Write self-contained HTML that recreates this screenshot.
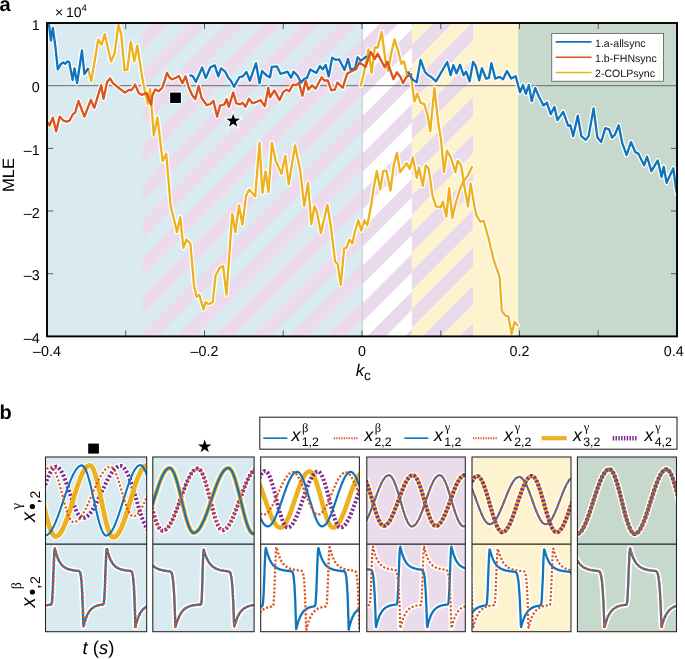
<!DOCTYPE html>
<html><head><meta charset="utf-8"><style>
html,body{margin:0;padding:0;background:#fff;}
svg{display:block;will-change:transform;font-family:"Liberation Sans",sans-serif;text-rendering:geometricPrecision;}
</style></head><body>
<svg width="685" height="659" viewBox="0 0 685 659">
<rect width="685" height="659" fill="#fff"/>
<defs>
<clipPath id="cA"><rect x="47.0" y="23.0" width="630.0" height="313.4"/></clipPath>
<clipPath id="cS1"><rect x="142.9" y="23.0" width="219.7" height="313.4"/></clipPath>
<clipPath id="cS2"><rect x="362.6" y="23.0" width="49.3" height="313.4"/></clipPath>
<clipPath id="cS3"><rect x="411.9" y="23.0" width="61.0" height="313.4"/></clipPath>
</defs>
<rect x="47.0" y="23.0" width="315.6" height="313.4" fill="#d9eaf1"/>
<rect x="362.6" y="23.0" width="49.3" height="313.4" fill="#ffffff"/>
<rect x="411.9" y="23.0" width="106.3" height="313.4" fill="#fdf4cf"/>
<rect x="518.2" y="23.0" width="158.8" height="313.4" fill="#c6d9cc"/>
<path clip-path="url(#cS1)" fill="#ecdbec" d="M0.0,-49.5 L685.0,-734.5 L685.0,-716.2 L0.0,-31.2Z M0.0,-12.0 L685.0,-697.0 L685.0,-678.7 L0.0,6.3Z M0.0,25.5 L685.0,-659.5 L685.0,-641.2 L0.0,43.8Z M0.0,63.0 L685.0,-622.0 L685.0,-603.7 L0.0,81.3Z M0.0,100.5 L685.0,-584.5 L685.0,-566.2 L0.0,118.8Z M0.0,138.0 L685.0,-547.0 L685.0,-528.7 L0.0,156.3Z M0.0,175.5 L685.0,-509.5 L685.0,-491.2 L0.0,193.8Z M0.0,213.0 L685.0,-472.0 L685.0,-453.7 L0.0,231.3Z M0.0,250.5 L685.0,-434.5 L685.0,-416.2 L0.0,268.8Z M0.0,288.0 L685.0,-397.0 L685.0,-378.7 L0.0,306.3Z M0.0,325.5 L685.0,-359.5 L685.0,-341.2 L0.0,343.8Z M0.0,363.0 L685.0,-322.0 L685.0,-303.7 L0.0,381.3Z M0.0,400.5 L685.0,-284.5 L685.0,-266.2 L0.0,418.8Z M0.0,438.0 L685.0,-247.0 L685.0,-228.7 L0.0,456.3Z M0.0,475.5 L685.0,-209.5 L685.0,-191.2 L0.0,493.8Z M0.0,513.0 L685.0,-172.0 L685.0,-153.7 L0.0,531.3Z M0.0,550.5 L685.0,-134.5 L685.0,-116.2 L0.0,568.8Z M0.0,588.0 L685.0,-97.0 L685.0,-78.7 L0.0,606.3Z M0.0,625.5 L685.0,-59.5 L685.0,-41.2 L0.0,643.8Z M0.0,663.0 L685.0,-22.0 L685.0,-3.7 L0.0,681.3Z M0.0,700.5 L685.0,15.5 L685.0,33.8 L0.0,718.8Z M0.0,738.0 L685.0,53.0 L685.0,71.3 L0.0,756.3Z M0.0,775.5 L685.0,90.5 L685.0,108.8 L0.0,793.8Z M0.0,813.0 L685.0,128.0 L685.0,146.3 L0.0,831.3Z M0.0,850.5 L685.0,165.5 L685.0,183.8 L0.0,868.8Z M0.0,888.0 L685.0,203.0 L685.0,221.3 L0.0,906.3Z M0.0,925.5 L685.0,240.5 L685.0,258.8 L0.0,943.8Z M0.0,963.0 L685.0,278.0 L685.0,296.3 L0.0,981.3Z M0.0,1000.5 L685.0,315.5 L685.0,333.8 L0.0,1018.8Z M0.0,1038.0 L685.0,353.0 L685.0,371.3 L0.0,1056.3Z"/>
<path clip-path="url(#cS2)" fill="#e9daec" d="M0.0,-46.6 L685.0,-731.6 L685.0,-713.0 L0.0,-28.0Z M0.0,-9.1 L685.0,-694.1 L685.0,-675.5 L0.0,9.5Z M0.0,28.4 L685.0,-656.6 L685.0,-638.0 L0.0,47.0Z M0.0,65.9 L685.0,-619.1 L685.0,-600.5 L0.0,84.5Z M0.0,103.4 L685.0,-581.6 L685.0,-563.0 L0.0,122.0Z M0.0,140.9 L685.0,-544.1 L685.0,-525.5 L0.0,159.5Z M0.0,178.4 L685.0,-506.6 L685.0,-488.0 L0.0,197.0Z M0.0,215.9 L685.0,-469.1 L685.0,-450.5 L0.0,234.5Z M0.0,253.4 L685.0,-431.6 L685.0,-413.0 L0.0,272.0Z M0.0,290.9 L685.0,-394.1 L685.0,-375.5 L0.0,309.5Z M0.0,328.4 L685.0,-356.6 L685.0,-338.0 L0.0,347.0Z M0.0,365.9 L685.0,-319.1 L685.0,-300.5 L0.0,384.5Z M0.0,403.4 L685.0,-281.6 L685.0,-263.0 L0.0,422.0Z M0.0,440.9 L685.0,-244.1 L685.0,-225.5 L0.0,459.5Z M0.0,478.4 L685.0,-206.6 L685.0,-188.0 L0.0,497.0Z M0.0,515.9 L685.0,-169.1 L685.0,-150.5 L0.0,534.5Z M0.0,553.4 L685.0,-131.6 L685.0,-113.0 L0.0,572.0Z M0.0,590.9 L685.0,-94.1 L685.0,-75.5 L0.0,609.5Z M0.0,628.4 L685.0,-56.6 L685.0,-38.0 L0.0,647.0Z M0.0,665.9 L685.0,-19.1 L685.0,-0.5 L0.0,684.5Z M0.0,703.4 L685.0,18.4 L685.0,37.0 L0.0,722.0Z M0.0,740.9 L685.0,55.9 L685.0,74.5 L0.0,759.5Z M0.0,778.4 L685.0,93.4 L685.0,112.0 L0.0,797.0Z M0.0,815.9 L685.0,130.9 L685.0,149.5 L0.0,834.5Z M0.0,853.4 L685.0,168.4 L685.0,187.0 L0.0,872.0Z M0.0,890.9 L685.0,205.9 L685.0,224.5 L0.0,909.5Z M0.0,928.4 L685.0,243.4 L685.0,262.0 L0.0,947.0Z M0.0,965.9 L685.0,280.9 L685.0,299.5 L0.0,984.5Z M0.0,1003.4 L685.0,318.4 L685.0,337.0 L0.0,1022.0Z M0.0,1040.9 L685.0,355.9 L685.0,374.5 L0.0,1059.5Z"/>
<path clip-path="url(#cS3)" fill="#e9daec" d="M0.0,-32.6 L685.0,-717.6 L685.0,-698.8 L0.0,-13.8Z M0.0,5.1 L685.0,-679.9 L685.0,-661.1 L0.0,23.9Z M0.0,42.7 L685.0,-642.3 L685.0,-623.5 L0.0,61.5Z M0.0,80.4 L685.0,-604.6 L685.0,-585.8 L0.0,99.2Z M0.0,118.1 L685.0,-566.9 L685.0,-548.1 L0.0,136.9Z M0.0,155.7 L685.0,-529.3 L685.0,-510.5 L0.0,174.5Z M0.0,193.4 L685.0,-491.6 L685.0,-472.8 L0.0,212.2Z M0.0,231.1 L685.0,-453.9 L685.0,-435.1 L0.0,249.9Z M0.0,268.8 L685.0,-416.2 L685.0,-397.4 L0.0,287.6Z M0.0,306.4 L685.0,-378.6 L685.0,-359.8 L0.0,325.2Z M0.0,344.1 L685.0,-340.9 L685.0,-322.1 L0.0,362.9Z M0.0,381.8 L685.0,-303.2 L685.0,-284.4 L0.0,400.6Z M0.0,419.4 L685.0,-265.6 L685.0,-246.8 L0.0,438.2Z M0.0,457.1 L685.0,-227.9 L685.0,-209.1 L0.0,475.9Z M0.0,494.8 L685.0,-190.2 L685.0,-171.4 L0.0,513.6Z M0.0,532.4 L685.0,-152.6 L685.0,-133.8 L0.0,551.2Z M0.0,570.1 L685.0,-114.9 L685.0,-96.1 L0.0,588.9Z M0.0,607.8 L685.0,-77.2 L685.0,-58.4 L0.0,626.6Z M0.0,645.5 L685.0,-39.5 L685.0,-20.8 L0.0,664.2Z M0.0,683.1 L685.0,-1.9 L685.0,16.9 L0.0,701.9Z M0.0,720.8 L685.0,35.8 L685.0,54.6 L0.0,739.6Z M0.0,758.5 L685.0,73.5 L685.0,92.3 L0.0,777.3Z M0.0,796.1 L685.0,111.1 L685.0,129.9 L0.0,814.9Z M0.0,833.8 L685.0,148.8 L685.0,167.6 L0.0,852.6Z M0.0,871.5 L685.0,186.5 L685.0,205.3 L0.0,890.3Z M0.0,909.1 L685.0,224.1 L685.0,242.9 L0.0,927.9Z M0.0,946.8 L685.0,261.8 L685.0,280.6 L0.0,965.6Z M0.0,984.5 L685.0,299.5 L685.0,318.3 L0.0,1003.3Z M0.0,1022.2 L685.0,337.2 L685.0,356.0 L0.0,1041.0Z"/>
<line x1="47.0" y1="85.7" x2="677.0" y2="85.7" stroke="#6a6a6a" stroke-width="1.0"/>
<line x1="362.3" y1="23.0" x2="362.3" y2="336.4" stroke="#b5b5b5" stroke-width="0.6"/>
<path d="M125.7,336.4v-6M125.7,23.0v6M204.5,336.4v-6M204.5,23.0v6M283.2,336.4v-6M283.2,23.0v6M362.0,336.4v-6M362.0,23.0v6M440.8,336.4v-6M440.8,23.0v6M519.5,336.4v-6M519.5,23.0v6M598.2,336.4v-6M598.2,23.0v6M47.0,273.7h6M677.0,273.7h-6M47.0,211.0h6M677.0,211.0h-6M47.0,148.4h6M677.0,148.4h-6" stroke="#4d4d4d" stroke-width="0.9" fill="none"/>
<g clip-path="url(#cA)" fill="none" stroke-linejoin="round" stroke-linecap="round">
<path d="M88.0,68.7 L91.3,81.1 L98.2,39.7 L101.6,44.6 L104.7,34.3 L111.0,61.4 L114.6,53.5 L118.4,24.9 L121.3,34.7 L124.5,70.3 L127.4,69.3 L130.8,41.6 L134.3,61.4 L137.3,45.6 L142.6,80.1 L147.6,103.8 L150.1,89.0 L153.8,135.5 L157.5,117.3 L162.6,161.0 L166.2,153.7 L168.5,180.0 L170.6,205.5 L177.0,232.0 L180.2,217.2 L183.4,247.9 L186.5,239.4 L190.4,243.7 L194.0,285.1 L196.5,296.8 L199.3,294.6 L203.5,309.5 L205.6,302.1 L208.8,304.2 L212.7,302.1 L215.6,275.5 L219.4,268.1 L223.1,266.0 L226.5,294.6 L232.2,214.0 L235.4,232.0 L239.0,205.5 L242.4,224.6 L246.0,195.9 L249.2,189.6 L255.2,196.5 L259.5,142.9 L262.4,193.2 L265.5,171.3 L268.6,191.9 L271.9,142.9 L275.8,161.0 L281.5,173.8 L285.3,155.8 L288.7,184.2 L295.1,145.5 L300.3,171.3 L304.2,206.1 L308.0,182.9 L311.4,224.1 L314.5,206.1 L317.1,212.5 L320.9,233.2 L327.4,204.8 L331.2,229.3 L335.1,261.5 L337.7,264.1 L340.8,284.8 L344.1,248.6 L346.7,247.4 L349.3,239.6 L352.4,243.5 L354.5,233.2 L358.3,220.3 L361.4,230.6 L364.3,220.3 L367.4,225.4 L371.2,204.8 L373.4,189.3 L376.8,171.1 L380.2,189.3 L383.2,171.1 L386.4,170.6 L390.5,190.4 L393.9,164.2 L396.9,152.9 L400.1,172.2 L404.2,166.5 L406.4,163.1 L409.8,168.8 L412.8,157.4 L416.7,177.9 L419.0,167.7 L422.8,185.9 L425.8,165.4 L428.7,168.8 L432.6,196.1 L436.0,206.4 L440.6,207.5 L442.9,201.8 L446.3,216.6 L449.2,188.2 L452.4,217.8 L455.4,204.1 L459.9,189.3 L463.4,181.3 L467.9,175.6 L472.0,167.0" stroke="#fff" stroke-width="4.8"/>
<path d="M360.8,85.7 L363.7,73.8 L368.5,49.3 L371.6,72.9 L374.8,47.5 L377.7,47.5 L381.7,31.9 L385.5,61.2 L388.1,70.8 L390.8,55.0 L394.6,39.3 L397.8,49.8 L401.3,63.8 L403.9,61.2 L407.4,76.1 L410.9,75.2 L414.4,101.6 L417.4,93.7 L420.5,102.8 L424.2,103.9 L427.4,114.2 L430.3,131.2 L434.4,88.0 L438.3,123.3 L441.0,139.2 L444.0,172.2 L447.0,150.6 L450.8,157.4 L455.4,172.2 L457.7,160.8 L461.1,165.4 L464.5,187.0 L467.9,206.4 L470.6,183.6 L474.7,207.5 L476.5,215.4 L480.2,221.5 L483.7,220.9 L488.6,238.5 L494.1,261.5 L499.6,276.9 L501.8,311.0 L505.1,315.4 L508.4,316.5 L511.6,334.1 L514.5,322.0 L517.6,325.3" stroke="#fff" stroke-width="4.8"/>
<path d="M47.5,21.0 L48.9,23.9 L50.9,40.7 L52.8,27.8 L55.4,46.6 L57.8,69.3 L60.7,64.3 L63.3,62.4 L65.3,63.9 L67.2,61.4 L69.2,62.0 L72.6,80.1 L74.5,68.3 L77.1,83.1 L82.0,50.5 L84.4,74.2 L88.0,68.7" stroke="#fff" stroke-width="4.8"/>
<path d="M190.3,75.4 L192.9,76.3 L195.9,81.9 L202.2,67.5 L205.7,78.0 L210.4,67.2 L214.8,65.4 L218.3,76.3 L221.0,68.4 L225.0,71.4 L228.0,77.2 L230.9,80.7 L234.1,86.8 L239.3,77.2 L242.9,76.3 L246.4,71.9 L249.9,80.7 L256.0,63.1 L259.5,83.3 L262.1,71.0 L266.5,75.4 L270.0,77.3 L271.8,66.8 L277.0,66.4 L280.5,73.8 L284.0,72.9 L287.5,71.7 L291.0,77.7 L293.7,71.7 L297.2,75.2 L301.2,82.6 L304.2,78.7 L306.8,78.2 L310.3,69.4 L316.4,72.9 L319.9,65.9 L322.6,69.4 L325.7,65.0 L328.7,76.4 L332.2,57.7 L335.7,59.8 L339.2,59.4 L344.5,69.9 L348.0,58.9 L350.6,69.4 L355.0,68.5 L357.6,57.2 L361.1,60.7 L366.0,56.6" stroke="#fff" stroke-width="4.8"/>
<path d="M408.3,72.2 L412.7,79.6 L416.7,82.2 L420.6,59.9 L424.9,71.7 L427.6,74.7 L431.1,76.9 L436.0,81.3 L447.2,62.0 L450.7,75.2 L453.3,65.2 L456.5,73.4 L460.0,64.7 L463.5,75.2 L466.1,71.7 L469.6,81.3 L473.1,62.0 L475.7,65.9 L479.2,80.4 L481.9,68.2 L486.2,78.7 L488.9,77.8 L491.4,63.1 L495.2,78.6 L499.6,76.9 L503.1,79.2 L506.9,71.0 L511.3,78.6 L515.7,76.3 L520.0,92.3 L523.0,85.0 L525.9,93.8 L528.8,85.0 L531.7,101.1 L535.2,88.0 L539.0,96.7 L543.4,105.5 L546.9,102.6 L550.7,114.2 L554.5,106.9 L557.4,120.1 L563.2,111.9 L568.2,125.9 L570.3,125.3 L573.2,136.1 L577.8,115.7 L581.3,136.1 L585.7,139.9 L588.6,136.1 L593.6,108.4 L597.4,137.6 L601.2,142.0 L605.3,128.2 L609.1,129.4 L612.0,137.6 L614.9,134.7 L618.7,125.3 L622.2,142.8 L626.6,155.1 L631.0,142.0 L635.4,152.2 L638.3,153.6 L644.1,165.3 L647.0,156.6 L651.4,171.2 L657.8,160.4 L661.6,177.0 L663.7,166.8 L666.6,182.8 L673.3,168.2 L676.2,190.1 L677.5,195.0" stroke="#fff" stroke-width="4.8"/>
<path d="M47.9,122.6 L49.5,125.5 L52.8,117.6 L56.2,131.4 L59.7,116.6 L63.3,120.6 L66.6,121.6 L69.6,120.6 L72.6,114.7 L75.1,112.7 L78.5,100.8 L84.4,116.6 L90.9,99.9 L94.3,107.8 L101.2,85.1 L103.5,98.9 L107.1,82.1 L110.1,78.5 L113.0,83.1 L118.9,88.0 L124.9,92.6 L128.8,90.0 L131.8,90.0 L135.1,84.5 L138.7,93.0 L141.6,94.9 L146.6,93.0 L151.1,104.8 L152.6,94.7 L155.3,89.4 L158.8,91.2 L162.3,87.7 L164.9,79.8 L167.0,72.8 L169.3,77.2 L171.9,79.4 L175.4,78.0 L178.9,75.9 L182.4,83.3 L185.6,76.3 L188.5,86.8 L192.0,94.7 L195.2,99.1 L198.7,85.9 L201.7,98.2 L206.9,105.2 L210.4,104.0 L213.4,100.8 L217.1,116.6 L220.1,105.7 L224.5,104.3 L226.6,99.1 L228.8,106.9 L233.2,92.4 L236.4,103.4 L240.2,104.3 L242.5,102.6 L245.5,106.9 L249.0,98.7 L252.5,103.4 L256.9,101.7 L260.4,99.9 L264.8,106.1 L268.3,87.7 L270.0,97.4 L274.4,90.4 L279.6,100.1 L283.1,92.2 L286.6,89.6 L289.3,91.3 L292.8,84.7 L296.3,85.2 L298.9,82.6 L302.4,95.7 L305.6,80.8 L308.5,89.6 L312.0,85.2 L315.5,88.7 L321.7,77.3 L324.3,80.5 L327.8,80.5 L331.3,90.4 L334.8,89.6 L337.4,82.6 L342.7,87.8 L347.1,73.8 L351.5,71.2 L355.8,69.4 L359.3,62.4 L365.5,66.8 L370.7,51.9 L374.8,58.9 L377.7,53.7 L384.6,67.3 L387.3,61.7 L393.4,79.2 L396.9,72.2 L400.4,76.9 L403.0,83.1 L406.5,76.9 L411.3,74.3" stroke="#fff" stroke-width="4.8"/>
<path d="M88.0,68.7 L91.3,81.1 L98.2,39.7 L101.6,44.6 L104.7,34.3 L111.0,61.4 L114.6,53.5 L118.4,24.9 L121.3,34.7 L124.5,70.3 L127.4,69.3 L130.8,41.6 L134.3,61.4 L137.3,45.6 L142.6,80.1 L147.6,103.8 L150.1,89.0 L153.8,135.5 L157.5,117.3 L162.6,161.0 L166.2,153.7 L168.5,180.0 L170.6,205.5 L177.0,232.0 L180.2,217.2 L183.4,247.9 L186.5,239.4 L190.4,243.7 L194.0,285.1 L196.5,296.8 L199.3,294.6 L203.5,309.5 L205.6,302.1 L208.8,304.2 L212.7,302.1 L215.6,275.5 L219.4,268.1 L223.1,266.0 L226.5,294.6 L232.2,214.0 L235.4,232.0 L239.0,205.5 L242.4,224.6 L246.0,195.9 L249.2,189.6 L255.2,196.5 L259.5,142.9 L262.4,193.2 L265.5,171.3 L268.6,191.9 L271.9,142.9 L275.8,161.0 L281.5,173.8 L285.3,155.8 L288.7,184.2 L295.1,145.5 L300.3,171.3 L304.2,206.1 L308.0,182.9 L311.4,224.1 L314.5,206.1 L317.1,212.5 L320.9,233.2 L327.4,204.8 L331.2,229.3 L335.1,261.5 L337.7,264.1 L340.8,284.8 L344.1,248.6 L346.7,247.4 L349.3,239.6 L352.4,243.5 L354.5,233.2 L358.3,220.3 L361.4,230.6 L364.3,220.3 L367.4,225.4 L371.2,204.8 L373.4,189.3 L376.8,171.1 L380.2,189.3 L383.2,171.1 L386.4,170.6 L390.5,190.4 L393.9,164.2 L396.9,152.9 L400.1,172.2 L404.2,166.5 L406.4,163.1 L409.8,168.8 L412.8,157.4 L416.7,177.9 L419.0,167.7 L422.8,185.9 L425.8,165.4 L428.7,168.8 L432.6,196.1 L436.0,206.4 L440.6,207.5 L442.9,201.8 L446.3,216.6 L449.2,188.2 L452.4,217.8 L455.4,204.1 L459.9,189.3 L463.4,181.3 L467.9,175.6 L472.0,167.0" stroke="#edb120" stroke-width="2.3"/>
<path d="M360.8,85.7 L363.7,73.8 L368.5,49.3 L371.6,72.9 L374.8,47.5 L377.7,47.5 L381.7,31.9 L385.5,61.2 L388.1,70.8 L390.8,55.0 L394.6,39.3 L397.8,49.8 L401.3,63.8 L403.9,61.2 L407.4,76.1 L410.9,75.2 L414.4,101.6 L417.4,93.7 L420.5,102.8 L424.2,103.9 L427.4,114.2 L430.3,131.2 L434.4,88.0 L438.3,123.3 L441.0,139.2 L444.0,172.2 L447.0,150.6 L450.8,157.4 L455.4,172.2 L457.7,160.8 L461.1,165.4 L464.5,187.0 L467.9,206.4 L470.6,183.6 L474.7,207.5 L476.5,215.4 L480.2,221.5 L483.7,220.9 L488.6,238.5 L494.1,261.5 L499.6,276.9 L501.8,311.0 L505.1,315.4 L508.4,316.5 L511.6,334.1 L514.5,322.0 L517.6,325.3" stroke="#edb120" stroke-width="2.3"/>
<path d="M47.5,21.0 L48.9,23.9 L50.9,40.7 L52.8,27.8 L55.4,46.6 L57.8,69.3 L60.7,64.3 L63.3,62.4 L65.3,63.9 L67.2,61.4 L69.2,62.0 L72.6,80.1 L74.5,68.3 L77.1,83.1 L82.0,50.5 L84.4,74.2 L88.0,68.7" stroke="#0f74bb" stroke-width="2.3"/>
<path d="M190.3,75.4 L192.9,76.3 L195.9,81.9 L202.2,67.5 L205.7,78.0 L210.4,67.2 L214.8,65.4 L218.3,76.3 L221.0,68.4 L225.0,71.4 L228.0,77.2 L230.9,80.7 L234.1,86.8 L239.3,77.2 L242.9,76.3 L246.4,71.9 L249.9,80.7 L256.0,63.1 L259.5,83.3 L262.1,71.0 L266.5,75.4 L270.0,77.3 L271.8,66.8 L277.0,66.4 L280.5,73.8 L284.0,72.9 L287.5,71.7 L291.0,77.7 L293.7,71.7 L297.2,75.2 L301.2,82.6 L304.2,78.7 L306.8,78.2 L310.3,69.4 L316.4,72.9 L319.9,65.9 L322.6,69.4 L325.7,65.0 L328.7,76.4 L332.2,57.7 L335.7,59.8 L339.2,59.4 L344.5,69.9 L348.0,58.9 L350.6,69.4 L355.0,68.5 L357.6,57.2 L361.1,60.7 L366.0,56.6" stroke="#0f74bb" stroke-width="2.3"/>
<path d="M408.3,72.2 L412.7,79.6 L416.7,82.2 L420.6,59.9 L424.9,71.7 L427.6,74.7 L431.1,76.9 L436.0,81.3 L447.2,62.0 L450.7,75.2 L453.3,65.2 L456.5,73.4 L460.0,64.7 L463.5,75.2 L466.1,71.7 L469.6,81.3 L473.1,62.0 L475.7,65.9 L479.2,80.4 L481.9,68.2 L486.2,78.7 L488.9,77.8 L491.4,63.1 L495.2,78.6 L499.6,76.9 L503.1,79.2 L506.9,71.0 L511.3,78.6 L515.7,76.3 L520.0,92.3 L523.0,85.0 L525.9,93.8 L528.8,85.0 L531.7,101.1 L535.2,88.0 L539.0,96.7 L543.4,105.5 L546.9,102.6 L550.7,114.2 L554.5,106.9 L557.4,120.1 L563.2,111.9 L568.2,125.9 L570.3,125.3 L573.2,136.1 L577.8,115.7 L581.3,136.1 L585.7,139.9 L588.6,136.1 L593.6,108.4 L597.4,137.6 L601.2,142.0 L605.3,128.2 L609.1,129.4 L612.0,137.6 L614.9,134.7 L618.7,125.3 L622.2,142.8 L626.6,155.1 L631.0,142.0 L635.4,152.2 L638.3,153.6 L644.1,165.3 L647.0,156.6 L651.4,171.2 L657.8,160.4 L661.6,177.0 L663.7,166.8 L666.6,182.8 L673.3,168.2 L676.2,190.1 L677.5,195.0" stroke="#0f74bb" stroke-width="2.3"/>
<path d="M47.9,122.6 L49.5,125.5 L52.8,117.6 L56.2,131.4 L59.7,116.6 L63.3,120.6 L66.6,121.6 L69.6,120.6 L72.6,114.7 L75.1,112.7 L78.5,100.8 L84.4,116.6 L90.9,99.9 L94.3,107.8 L101.2,85.1 L103.5,98.9 L107.1,82.1 L110.1,78.5 L113.0,83.1 L118.9,88.0 L124.9,92.6 L128.8,90.0 L131.8,90.0 L135.1,84.5 L138.7,93.0 L141.6,94.9 L146.6,93.0 L151.1,104.8 L152.6,94.7 L155.3,89.4 L158.8,91.2 L162.3,87.7 L164.9,79.8 L167.0,72.8 L169.3,77.2 L171.9,79.4 L175.4,78.0 L178.9,75.9 L182.4,83.3 L185.6,76.3 L188.5,86.8 L192.0,94.7 L195.2,99.1 L198.7,85.9 L201.7,98.2 L206.9,105.2 L210.4,104.0 L213.4,100.8 L217.1,116.6 L220.1,105.7 L224.5,104.3 L226.6,99.1 L228.8,106.9 L233.2,92.4 L236.4,103.4 L240.2,104.3 L242.5,102.6 L245.5,106.9 L249.0,98.7 L252.5,103.4 L256.9,101.7 L260.4,99.9 L264.8,106.1 L268.3,87.7 L270.0,97.4 L274.4,90.4 L279.6,100.1 L283.1,92.2 L286.6,89.6 L289.3,91.3 L292.8,84.7 L296.3,85.2 L298.9,82.6 L302.4,95.7 L305.6,80.8 L308.5,89.6 L312.0,85.2 L315.5,88.7 L321.7,77.3 L324.3,80.5 L327.8,80.5 L331.3,90.4 L334.8,89.6 L337.4,82.6 L342.7,87.8 L347.1,73.8 L351.5,71.2 L355.8,69.4 L359.3,62.4 L365.5,66.8 L370.7,51.9 L374.8,58.9 L377.7,53.7 L384.6,67.3 L387.3,61.7 L393.4,79.2 L396.9,72.2 L400.4,76.9 L403.0,83.1 L406.5,76.9 L411.3,74.3" stroke="#d9541e" stroke-width="2.3"/>
</g>
<rect x="170.1" y="92.6" width="10.8" height="10.4" fill="#000" stroke="#fff" stroke-width="2" paint-order="stroke"/>
<path d="M233.2,112.6 L235.1,118.2 L241.1,118.3 L236.3,121.9 L238.1,127.6 L233.2,124.2 L228.3,127.6 L230.1,121.9 L225.3,118.3 L231.3,118.2Z" fill="#fff" stroke="#fff" stroke-width="1.6" stroke-linejoin="miter"/>
<path d="M233.2,113.7 L234.8,118.6 L240.0,118.7 L235.9,121.8 L237.4,126.7 L233.2,123.7 L229.0,126.7 L230.5,121.8 L226.4,118.7 L231.6,118.6Z" fill="#000"/>
<rect x="47.0" y="23.0" width="630.0" height="313.4" fill="none" stroke="#000" stroke-width="1.9"/>
<rect x="551.8" y="33.4" width="111.6" height="47.8" fill="#fff" stroke="#444" stroke-width="0.7"/>
<line x1="555.6" y1="41.9" x2="591.6" y2="41.9" stroke="#0f74bb" stroke-width="1.6"/>
<text x="595" y="46.5" font-size="10.6" fill="#111">1.a-allsync</text>
<line x1="555.6" y1="57.2" x2="591.6" y2="57.2" stroke="#d9541e" stroke-width="1.6"/>
<text x="595" y="61.8" font-size="10.6" fill="#111">1.b-FHNsync</text>
<line x1="555.6" y1="72.5" x2="591.6" y2="72.5" stroke="#edb120" stroke-width="1.6"/>
<text x="595" y="77.1" font-size="10.6" fill="#111">2-COLPsync</text>
<text x="39.6" y="343.1" font-size="14.3" text-anchor="end">–4</text>
<text x="39.6" y="280.4" font-size="14.3" text-anchor="end">–3</text>
<text x="39.6" y="217.7" font-size="14.3" text-anchor="end">–2</text>
<text x="39.6" y="155.1" font-size="14.3" text-anchor="end">–1</text>
<text x="39.6" y="92.4" font-size="14.3" text-anchor="end">0</text>
<text x="39.6" y="29.7" font-size="14.3" text-anchor="end">1</text>
<text x="47.0" y="356.4" font-size="14.3" text-anchor="middle">–0.4</text>
<text x="204.5" y="356.4" font-size="14.3" text-anchor="middle">–0.2</text>
<text x="362.0" y="356.4" font-size="14.3" text-anchor="middle">0</text>
<text x="519.5" y="356.4" font-size="14.3" text-anchor="middle">0.2</text>
<text x="673.8" y="356.4" font-size="14.3" text-anchor="middle">0.4</text>
<text x="55" y="16.6" font-size="14">× 10<tspan dy="-5.5" font-size="9.5">4</tspan></text>
<text transform="translate(14.4,175) rotate(-90)" font-size="16.5" text-anchor="middle">MLE</text>
<text x="355.8" y="376.3" font-size="17" font-style="italic">k</text>
<text x="364" y="380.4" font-size="13.5">c</text>
<text x="-0.5" y="10.8" font-size="20" font-weight="bold">a</text>
<text x="-0.5" y="418.7" font-size="20" font-weight="bold">b</text>
<defs>
<clipPath id="pt0"><rect x="45.5" y="457.0" width="101.2" height="87.1"/></clipPath>
<clipPath id="pb0"><rect x="45.5" y="544.1" width="101.2" height="87.6"/></clipPath>
<clipPath id="pt1"><rect x="152.8" y="457.0" width="101.3" height="87.1"/></clipPath>
<clipPath id="pb1"><rect x="152.8" y="544.1" width="101.3" height="87.6"/></clipPath>
<clipPath id="pt2"><rect x="260.7" y="457.0" width="98.7" height="87.1"/></clipPath>
<clipPath id="pb2"><rect x="260.7" y="544.1" width="98.7" height="87.6"/></clipPath>
<clipPath id="pt3"><rect x="366.8" y="457.0" width="98.5" height="87.1"/></clipPath>
<clipPath id="pb3"><rect x="366.8" y="544.1" width="98.5" height="87.6"/></clipPath>
<clipPath id="pt4"><rect x="472.0" y="457.0" width="99.0" height="87.1"/></clipPath>
<clipPath id="pb4"><rect x="472.0" y="544.1" width="99.0" height="87.6"/></clipPath>
<clipPath id="pt5"><rect x="577.4" y="457.0" width="99.1" height="87.1"/></clipPath>
<clipPath id="pb5"><rect x="577.4" y="544.1" width="99.1" height="87.6"/></clipPath>
</defs>
<rect x="45.5" y="457.0" width="101.2" height="174.7" fill="#d9eaf1"/>
<rect x="152.8" y="457.0" width="101.3" height="174.7" fill="#d9eaf1"/>
<rect x="260.7" y="457.0" width="98.7" height="174.7" fill="#ffffff"/>
<rect x="366.8" y="457.0" width="98.5" height="174.7" fill="#ebdceb"/>
<rect x="472.0" y="457.0" width="99.0" height="174.7" fill="#fdf4cf"/>
<rect x="577.4" y="457.0" width="99.1" height="174.7" fill="#c6d9cc"/>
<g clip-path="url(#pt0)">
<path d="M42.5,492.7 L43.5,489.7 L44.5,486.8 L45.5,484.0 L46.5,481.2 L47.5,478.6 L48.5,476.2 L49.5,474.1 L50.5,472.1 L51.5,470.5 L52.5,469.1 L53.5,468.0 L54.5,467.3 L55.5,466.9 L56.5,466.8 L57.5,467.1 L58.5,467.8 L59.5,468.8 L60.5,470.1 L61.5,471.7 L62.5,473.6 L63.5,475.8 L64.5,478.2 L65.5,480.9 L66.5,483.6 L67.5,486.5 L68.5,489.5 L69.6,492.6 L70.6,495.6 L71.6,498.6 L72.6,501.4 L73.6,504.2 L74.6,506.8 L75.6,509.2 L76.6,511.4 L77.6,513.3 L78.6,514.9 L79.6,516.2 L80.6,517.1 L81.6,517.7 L82.6,518.0 L83.6,517.9 L84.6,517.7 L85.6,517.3 L86.6,516.7 L87.6,516.0 L88.6,515.1 L89.6,514.0 L90.6,512.7 L91.6,511.4 L92.6,509.9 L93.6,508.2 L94.6,506.5 L95.6,504.6 L96.6,502.7 L97.6,500.7 L98.6,498.6 L99.6,496.5 L100.6,494.4 L101.6,492.2 L102.6,490.0 L103.6,487.9 L104.6,485.8 L105.6,483.7 L106.6,481.7 L107.6,479.7 L108.6,477.9 L109.6,476.1 L110.6,474.4 L111.6,472.9 L112.6,471.5 L113.6,470.2 L114.6,469.1 L115.6,468.2 L116.6,467.4 L117.6,466.8 L118.6,466.3 L119.6,466.1 L120.6,466.0 L121.6,466.2 L122.6,466.7 L123.7,467.5 L124.7,468.7 L125.7,470.2 L126.7,472.0 L127.7,474.0 L128.7,476.3 L129.7,478.9 L130.7,481.6 L131.7,484.5 L132.7,487.6 L133.7,490.8 L134.7,494.1 L135.7,497.4 L136.7,500.8 L137.7,504.1 L138.7,507.4 L139.7,510.6 L140.7,513.7 L141.7,516.7 L142.7,519.5 L143.7,522.1 L144.7,524.4 L145.7,526.5 L146.7,528.4 L147.7,529.9 L148.7,531.2 L149.7,532.1" fill="none" stroke="#fff" stroke-width="6.30" stroke-linejoin="round" stroke-linecap="round"/>
<path d="M42.5,499.4 L43.5,503.8 L44.5,508.2 L45.5,512.4 L46.5,516.5 L47.5,520.3 L48.5,523.8 L49.5,527.0 L50.5,529.8 L51.5,532.1 L52.5,534.0 L53.5,535.3 L54.5,536.2 L55.5,536.5 L56.5,536.4 L57.5,535.9 L58.5,535.2 L59.5,534.2 L60.5,532.9 L61.5,531.3 L62.5,529.5 L63.5,527.5 L64.5,525.2 L65.5,522.7 L66.5,520.0 L67.5,517.2 L68.5,514.2 L69.6,511.1 L70.6,507.9 L71.6,504.7 L72.6,501.4 L73.6,498.2 L74.6,494.9 L75.6,491.7 L76.6,488.6 L77.6,485.6 L78.6,482.7 L79.6,480.0 L80.6,477.4 L81.6,475.1 L82.6,472.9 L83.6,471.1 L84.6,469.4 L85.6,468.0 L86.6,466.9 L87.6,466.1 L88.6,465.6 L89.6,465.4 L90.6,465.6 L91.6,466.4 L92.6,467.9 L93.6,469.9 L94.6,472.5 L95.6,475.7 L96.6,479.3 L97.6,483.2 L98.6,487.6 L99.6,492.1 L100.6,496.8 L101.6,501.6 L102.6,506.4 L103.6,511.1 L104.6,515.7 L105.6,520.0 L106.6,523.9 L107.6,527.4 L108.6,530.5 L109.6,533.0 L110.6,535.0 L111.6,536.4 L112.6,537.2 L113.6,537.3 L114.6,537.0 L115.6,536.5 L116.6,535.6 L117.6,534.4 L118.6,532.9 L119.6,531.2 L120.6,529.2 L121.6,527.0 L122.6,524.5 L123.7,521.8 L124.7,519.0 L125.7,516.0 L126.7,512.9 L127.7,509.6 L128.7,506.3 L129.7,503.0 L130.7,499.6 L131.7,496.3 L132.7,493.0 L133.7,489.8 L134.7,486.6 L135.7,483.6 L136.7,480.8 L137.7,478.1 L138.7,475.7 L139.7,473.4 L140.7,471.5 L141.7,469.7 L142.7,468.3 L143.7,467.1 L144.7,466.2 L145.7,465.7 L146.7,465.4 L147.7,465.4 L148.7,465.4 L149.7,465.4" fill="none" stroke="#fff" stroke-width="6.80" stroke-linejoin="round" stroke-linecap="round"/>
<path d="M42.5,535.6 L43.5,535.6 L44.5,535.6 L45.5,535.6 L46.5,535.3 L47.5,534.8 L48.5,534.0 L49.5,533.0 L50.5,531.8 L51.5,530.3 L52.5,528.6 L53.5,526.7 L54.5,524.6 L55.5,522.4 L56.5,519.9 L57.5,517.4 L58.5,514.7 L59.5,511.9 L60.5,509.0 L61.5,506.1 L62.5,503.1 L63.5,500.1 L64.5,497.1 L65.5,494.1 L66.5,491.2 L67.5,488.3 L68.5,485.6 L69.6,482.9 L70.6,480.4 L71.6,478.0 L72.6,475.8 L73.6,473.7 L74.6,471.9 L75.6,470.3 L76.6,468.8 L77.6,467.7 L78.6,466.7 L79.6,466.0 L80.6,465.6 L81.6,465.4 L82.6,465.6 L83.6,466.3 L84.6,467.6 L85.6,469.5 L86.6,471.8 L87.6,474.7 L88.6,478.0 L89.6,481.6 L90.6,485.6 L91.6,489.8 L92.6,494.2 L93.6,498.7 L94.6,503.2 L95.6,507.7 L96.6,512.0 L97.6,516.2 L98.6,520.1 L99.6,523.7 L100.6,526.9 L101.6,529.6 L102.6,531.9 L103.6,533.7 L104.6,534.9 L105.6,535.5 L106.6,535.6 L107.6,535.3 L108.6,534.7 L109.6,533.9 L110.6,532.7 L111.6,531.3 L112.6,529.6 L113.6,527.7 L114.6,525.5 L115.6,523.2 L116.6,520.6 L117.6,517.9 L118.6,515.0 L119.6,512.0 L120.6,508.9 L121.6,505.7 L122.6,502.5 L123.7,499.2 L124.7,496.0 L125.7,492.8 L126.7,489.7 L127.7,486.6 L128.7,483.7 L129.7,480.9 L130.7,478.3 L131.7,475.8 L132.7,473.6 L133.7,471.6 L134.7,469.9 L135.7,468.4 L136.7,467.1 L137.7,466.2 L138.7,465.5 L139.7,465.2 L140.7,465.1 L141.7,465.5 L142.7,466.5 L143.7,467.9 L144.7,469.8 L145.7,472.2 L146.7,475.0 L147.7,478.2 L148.7,481.7 L149.7,485.5" fill="none" stroke="#fff" stroke-width="4.60" stroke-linejoin="round" stroke-linecap="round"/>
<path d="M42.5,475.9 L43.5,474.0 L44.5,472.2 L45.5,470.7 L46.5,469.4 L47.5,468.4 L48.5,467.6 L49.5,467.1 L50.5,466.8 L51.5,466.9 L52.5,467.5 L53.5,468.6 L54.5,470.2 L55.5,472.3 L56.5,474.8 L57.5,477.7 L58.5,480.9 L59.5,484.3 L60.5,488.0 L61.5,491.8 L62.5,495.6 L63.5,499.4 L64.5,503.1 L65.5,506.7 L66.5,510.0 L67.5,513.0 L68.5,515.7 L69.6,518.0 L70.6,519.8 L71.6,521.1 L72.6,521.9 L73.6,522.2 L74.6,522.1 L75.6,521.8 L76.6,521.3 L77.6,520.6 L78.6,519.8 L79.6,518.7 L80.6,517.5 L81.6,516.1 L82.6,514.5 L83.6,512.8 L84.6,511.0 L85.6,509.0 L86.6,506.9 L87.6,504.8 L88.6,502.6 L89.6,500.3 L90.6,497.9 L91.6,495.6 L92.6,493.2 L93.6,490.9 L94.6,488.5 L95.6,486.3 L96.6,484.0 L97.6,481.9 L98.6,479.8 L99.6,477.9 L100.6,476.1 L101.6,474.4 L102.6,472.8 L103.6,471.4 L104.6,470.2 L105.6,469.2 L106.6,468.3 L107.6,467.6 L108.6,467.2 L109.6,466.9 L110.6,466.8 L111.6,467.1 L112.6,467.9 L113.6,469.1 L114.6,470.7 L115.6,472.8 L116.6,475.2 L117.6,477.9 L118.6,480.9 L119.6,484.1 L120.6,487.4 L121.6,490.9 L122.6,494.3 L123.7,497.7 L124.7,500.9 L125.7,504.0 L126.7,506.8 L127.7,509.4 L128.7,511.6 L129.7,513.4 L130.7,514.8 L131.7,515.7 L132.7,516.2 L133.7,516.3 L134.7,516.0 L135.7,515.6 L136.7,514.8 L137.7,513.9 L138.7,512.7 L139.7,511.3 L140.7,509.7 L141.7,508.0 L142.7,506.0 L143.7,504.0 L144.7,501.8 L145.7,499.5 L146.7,497.1 L147.7,494.6 L148.7,492.1 L149.7,489.7" fill="none" stroke="#fff" stroke-width="4.60" stroke-linejoin="round" stroke-linecap="round"/>
<path d="M42.5,492.7 L43.5,489.7 L44.5,486.8 L45.5,484.0 L46.5,481.2 L47.5,478.6 L48.5,476.2 L49.5,474.1 L50.5,472.1 L51.5,470.5 L52.5,469.1 L53.5,468.0 L54.5,467.3 L55.5,466.9 L56.5,466.8 L57.5,467.1 L58.5,467.8 L59.5,468.8 L60.5,470.1 L61.5,471.7 L62.5,473.6 L63.5,475.8 L64.5,478.2 L65.5,480.9 L66.5,483.6 L67.5,486.5 L68.5,489.5 L69.6,492.6 L70.6,495.6 L71.6,498.6 L72.6,501.4 L73.6,504.2 L74.6,506.8 L75.6,509.2 L76.6,511.4 L77.6,513.3 L78.6,514.9 L79.6,516.2 L80.6,517.1 L81.6,517.7 L82.6,518.0 L83.6,517.9 L84.6,517.7 L85.6,517.3 L86.6,516.7 L87.6,516.0 L88.6,515.1 L89.6,514.0 L90.6,512.7 L91.6,511.4 L92.6,509.9 L93.6,508.2 L94.6,506.5 L95.6,504.6 L96.6,502.7 L97.6,500.7 L98.6,498.6 L99.6,496.5 L100.6,494.4 L101.6,492.2 L102.6,490.0 L103.6,487.9 L104.6,485.8 L105.6,483.7 L106.6,481.7 L107.6,479.7 L108.6,477.9 L109.6,476.1 L110.6,474.4 L111.6,472.9 L112.6,471.5 L113.6,470.2 L114.6,469.1 L115.6,468.2 L116.6,467.4 L117.6,466.8 L118.6,466.3 L119.6,466.1 L120.6,466.0 L121.6,466.2 L122.6,466.7 L123.7,467.5 L124.7,468.7 L125.7,470.2 L126.7,472.0 L127.7,474.0 L128.7,476.3 L129.7,478.9 L130.7,481.6 L131.7,484.5 L132.7,487.6 L133.7,490.8 L134.7,494.1 L135.7,497.4 L136.7,500.8 L137.7,504.1 L138.7,507.4 L139.7,510.6 L140.7,513.7 L141.7,516.7 L142.7,519.5 L143.7,522.1 L144.7,524.4 L145.7,526.5 L146.7,528.4 L147.7,529.9 L148.7,531.2 L149.7,532.1" fill="none" stroke="#7e2f8e" stroke-width="4.10" stroke-linejoin="round" stroke-linecap="butt" stroke-dasharray="2.2 1.9"/>
<path d="M42.5,499.4 L43.5,503.8 L44.5,508.2 L45.5,512.4 L46.5,516.5 L47.5,520.3 L48.5,523.8 L49.5,527.0 L50.5,529.8 L51.5,532.1 L52.5,534.0 L53.5,535.3 L54.5,536.2 L55.5,536.5 L56.5,536.4 L57.5,535.9 L58.5,535.2 L59.5,534.2 L60.5,532.9 L61.5,531.3 L62.5,529.5 L63.5,527.5 L64.5,525.2 L65.5,522.7 L66.5,520.0 L67.5,517.2 L68.5,514.2 L69.6,511.1 L70.6,507.9 L71.6,504.7 L72.6,501.4 L73.6,498.2 L74.6,494.9 L75.6,491.7 L76.6,488.6 L77.6,485.6 L78.6,482.7 L79.6,480.0 L80.6,477.4 L81.6,475.1 L82.6,472.9 L83.6,471.1 L84.6,469.4 L85.6,468.0 L86.6,466.9 L87.6,466.1 L88.6,465.6 L89.6,465.4 L90.6,465.6 L91.6,466.4 L92.6,467.9 L93.6,469.9 L94.6,472.5 L95.6,475.7 L96.6,479.3 L97.6,483.2 L98.6,487.6 L99.6,492.1 L100.6,496.8 L101.6,501.6 L102.6,506.4 L103.6,511.1 L104.6,515.7 L105.6,520.0 L106.6,523.9 L107.6,527.4 L108.6,530.5 L109.6,533.0 L110.6,535.0 L111.6,536.4 L112.6,537.2 L113.6,537.3 L114.6,537.0 L115.6,536.5 L116.6,535.6 L117.6,534.4 L118.6,532.9 L119.6,531.2 L120.6,529.2 L121.6,527.0 L122.6,524.5 L123.7,521.8 L124.7,519.0 L125.7,516.0 L126.7,512.9 L127.7,509.6 L128.7,506.3 L129.7,503.0 L130.7,499.6 L131.7,496.3 L132.7,493.0 L133.7,489.8 L134.7,486.6 L135.7,483.6 L136.7,480.8 L137.7,478.1 L138.7,475.7 L139.7,473.4 L140.7,471.5 L141.7,469.7 L142.7,468.3 L143.7,467.1 L144.7,466.2 L145.7,465.7 L146.7,465.4 L147.7,465.4 L148.7,465.4 L149.7,465.4" fill="none" stroke="#edb120" stroke-width="4.80" stroke-linejoin="round" stroke-linecap="butt"/>
<path d="M42.5,535.6 L43.5,535.6 L44.5,535.6 L45.5,535.6 L46.5,535.3 L47.5,534.8 L48.5,534.0 L49.5,533.0 L50.5,531.8 L51.5,530.3 L52.5,528.6 L53.5,526.7 L54.5,524.6 L55.5,522.4 L56.5,519.9 L57.5,517.4 L58.5,514.7 L59.5,511.9 L60.5,509.0 L61.5,506.1 L62.5,503.1 L63.5,500.1 L64.5,497.1 L65.5,494.1 L66.5,491.2 L67.5,488.3 L68.5,485.6 L69.6,482.9 L70.6,480.4 L71.6,478.0 L72.6,475.8 L73.6,473.7 L74.6,471.9 L75.6,470.3 L76.6,468.8 L77.6,467.7 L78.6,466.7 L79.6,466.0 L80.6,465.6 L81.6,465.4 L82.6,465.6 L83.6,466.3 L84.6,467.6 L85.6,469.5 L86.6,471.8 L87.6,474.7 L88.6,478.0 L89.6,481.6 L90.6,485.6 L91.6,489.8 L92.6,494.2 L93.6,498.7 L94.6,503.2 L95.6,507.7 L96.6,512.0 L97.6,516.2 L98.6,520.1 L99.6,523.7 L100.6,526.9 L101.6,529.6 L102.6,531.9 L103.6,533.7 L104.6,534.9 L105.6,535.5 L106.6,535.6 L107.6,535.3 L108.6,534.7 L109.6,533.9 L110.6,532.7 L111.6,531.3 L112.6,529.6 L113.6,527.7 L114.6,525.5 L115.6,523.2 L116.6,520.6 L117.6,517.9 L118.6,515.0 L119.6,512.0 L120.6,508.9 L121.6,505.7 L122.6,502.5 L123.7,499.2 L124.7,496.0 L125.7,492.8 L126.7,489.7 L127.7,486.6 L128.7,483.7 L129.7,480.9 L130.7,478.3 L131.7,475.8 L132.7,473.6 L133.7,471.6 L134.7,469.9 L135.7,468.4 L136.7,467.1 L137.7,466.2 L138.7,465.5 L139.7,465.2 L140.7,465.1 L141.7,465.5 L142.7,466.5 L143.7,467.9 L144.7,469.8 L145.7,472.2 L146.7,475.0 L147.7,478.2 L148.7,481.7 L149.7,485.5" fill="none" stroke="#0f74bb" stroke-width="2.10" stroke-linejoin="round" stroke-linecap="butt"/>
<path d="M42.5,475.9 L43.5,474.0 L44.5,472.2 L45.5,470.7 L46.5,469.4 L47.5,468.4 L48.5,467.6 L49.5,467.1 L50.5,466.8 L51.5,466.9 L52.5,467.5 L53.5,468.6 L54.5,470.2 L55.5,472.3 L56.5,474.8 L57.5,477.7 L58.5,480.9 L59.5,484.3 L60.5,488.0 L61.5,491.8 L62.5,495.6 L63.5,499.4 L64.5,503.1 L65.5,506.7 L66.5,510.0 L67.5,513.0 L68.5,515.7 L69.6,518.0 L70.6,519.8 L71.6,521.1 L72.6,521.9 L73.6,522.2 L74.6,522.1 L75.6,521.8 L76.6,521.3 L77.6,520.6 L78.6,519.8 L79.6,518.7 L80.6,517.5 L81.6,516.1 L82.6,514.5 L83.6,512.8 L84.6,511.0 L85.6,509.0 L86.6,506.9 L87.6,504.8 L88.6,502.6 L89.6,500.3 L90.6,497.9 L91.6,495.6 L92.6,493.2 L93.6,490.9 L94.6,488.5 L95.6,486.3 L96.6,484.0 L97.6,481.9 L98.6,479.8 L99.6,477.9 L100.6,476.1 L101.6,474.4 L102.6,472.8 L103.6,471.4 L104.6,470.2 L105.6,469.2 L106.6,468.3 L107.6,467.6 L108.6,467.2 L109.6,466.9 L110.6,466.8 L111.6,467.1 L112.6,467.9 L113.6,469.1 L114.6,470.7 L115.6,472.8 L116.6,475.2 L117.6,477.9 L118.6,480.9 L119.6,484.1 L120.6,487.4 L121.6,490.9 L122.6,494.3 L123.7,497.7 L124.7,500.9 L125.7,504.0 L126.7,506.8 L127.7,509.4 L128.7,511.6 L129.7,513.4 L130.7,514.8 L131.7,515.7 L132.7,516.2 L133.7,516.3 L134.7,516.0 L135.7,515.6 L136.7,514.8 L137.7,513.9 L138.7,512.7 L139.7,511.3 L140.7,509.7 L141.7,508.0 L142.7,506.0 L143.7,504.0 L144.7,501.8 L145.7,499.5 L146.7,497.1 L147.7,494.6 L148.7,492.1 L149.7,489.7" fill="none" stroke="#d9541e" stroke-width="2.20" stroke-linejoin="round" stroke-linecap="butt" stroke-dasharray="2.1 1.9"/>
</g>
<g clip-path="url(#pb0)">
<path d="M42.5,606.7 L42.9,606.5 L43.2,606.4 L43.6,606.2 L43.9,606.1 L44.3,606.0 L44.6,605.8 L45.0,605.7 L45.3,605.6 L45.7,605.5 L46.0,605.4 L46.4,605.3 L46.7,605.2 L47.1,605.1 L47.4,605.1 L47.8,605.0 L48.1,604.9 L48.5,604.9 L48.8,604.8 L49.2,604.8 L49.5,604.7 L49.9,604.7 L50.2,604.6 L50.6,604.6 L50.9,604.6 L51.3,604.5 L51.6,603.6 L52.0,601.3 L52.3,596.8 L52.7,590.2 L53.0,581.9 L53.4,572.6 L53.7,563.5 L54.1,555.8 L54.4,550.5 L54.8,548.4 L55.1,549.7 L55.5,551.1 L55.8,552.4 L56.2,553.6 L56.5,554.7 L56.9,555.8 L57.2,556.8 L57.6,557.7 L57.9,558.6 L58.3,559.3 L58.6,560.1 L59.0,560.8 L59.3,561.4 L59.7,562.0 L60.0,562.6 L60.4,563.1 L60.7,563.6 L61.1,564.1 L61.4,564.5 L61.8,564.9 L62.1,565.3 L62.5,565.7 L62.8,566.0 L63.2,566.3 L63.5,566.6 L63.9,566.9 L64.2,567.1 L64.6,567.3 L64.9,567.6 L65.3,567.8 L65.6,568.0 L66.0,568.2 L66.3,568.3 L66.7,568.5 L67.0,568.7 L67.4,568.8 L67.7,568.9 L68.1,569.1 L68.4,569.2 L68.8,569.3 L69.1,569.4 L69.5,569.5 L69.8,569.6 L70.2,569.7 L70.5,569.8 L70.9,569.9 L71.2,569.9 L71.6,570.0 L71.9,570.1 L72.3,570.1 L72.6,570.2 L73.0,570.3 L73.3,570.3 L73.7,570.4 L74.0,570.4 L74.4,570.5 L74.7,570.5 L75.1,570.6 L75.4,570.6 L75.8,570.7 L76.1,570.7 L76.5,570.8 L76.8,570.8 L77.2,570.8 L77.5,570.9 L77.9,570.9 L78.2,570.9 L78.6,571.0 L78.9,571.1 L79.3,571.3 L79.6,571.7 L80.0,572.4 L80.3,573.6 L80.7,575.3 L81.0,577.8 L81.4,581.2 L81.7,585.8 L82.1,591.8 L82.4,599.5 L82.8,609.2 L83.1,621.1 L83.5,626.5 L83.8,625.0 L84.2,623.6 L84.5,622.4 L84.9,621.2 L85.2,620.0 L85.6,619.0 L85.9,618.0 L86.3,617.1 L86.6,616.3 L87.0,615.5 L87.3,614.7 L87.7,614.0 L88.0,613.4 L88.4,612.8 L88.7,612.2 L89.1,611.7 L89.4,611.2 L89.8,610.7 L90.1,610.3 L90.5,609.9 L90.8,609.5 L91.2,609.1 L91.5,608.8 L91.9,608.5 L92.2,608.2 L92.6,607.9 L92.9,607.7 L93.3,607.4 L93.6,607.2 L94.0,607.0 L94.3,606.8 L94.7,606.6 L95.0,606.5 L95.4,606.3 L95.7,606.1 L96.1,606.0 L96.5,605.9 L96.8,605.8 L97.2,605.6 L97.5,605.5 L97.9,605.4 L98.2,605.3 L98.6,605.3 L98.9,605.2 L99.3,605.1 L99.6,605.0 L100.0,605.0 L100.3,604.9 L100.7,604.9 L101.0,604.8 L101.4,604.7 L101.7,604.7 L102.1,604.7 L102.4,604.6 L102.8,604.6 L103.1,604.5 L103.5,604.1 L103.8,602.5 L104.2,599.0 L104.5,593.3 L104.9,585.7 L105.2,576.7 L105.6,567.4 L105.9,558.9 L106.3,552.5 L106.6,548.9 L107.0,549.1 L107.3,550.5 L107.7,551.9 L108.0,553.1 L108.4,554.3 L108.7,555.4 L109.1,556.4 L109.4,557.3 L109.8,558.2 L110.1,559.0 L110.5,559.8 L110.8,560.5 L111.2,561.2 L111.5,561.8 L111.9,562.4 L112.2,562.9 L112.6,563.4 L112.9,563.9 L113.3,564.3 L113.6,564.8 L114.0,565.1 L114.3,565.5 L114.7,565.8 L115.0,566.2 L115.4,566.5 L115.7,566.7 L116.1,567.0 L116.4,567.2 L116.8,567.5 L117.1,567.7 L117.5,567.9 L117.8,568.1 L118.2,568.3 L118.5,568.4 L118.9,568.6 L119.2,568.7 L119.6,568.9 L119.9,569.0 L120.3,569.1 L120.6,569.2 L121.0,569.4 L121.3,569.5 L121.7,569.6 L122.0,569.6 L122.4,569.7 L122.7,569.8 L123.1,569.9 L123.4,570.0 L123.8,570.0 L124.1,570.1 L124.5,570.2 L124.8,570.2 L125.2,570.3 L125.5,570.4 L125.9,570.4 L126.2,570.5 L126.6,570.5 L126.9,570.6 L127.3,570.6 L127.6,570.7 L128.0,570.7 L128.3,570.7 L128.7,570.8 L129.0,570.8 L129.4,570.9 L129.7,570.9 L130.1,570.9 L130.4,571.0 L130.8,571.0 L131.1,571.2 L131.5,571.5 L131.8,572.1 L132.2,573.0 L132.5,574.5 L132.9,576.6 L133.2,579.6 L133.6,583.7 L133.9,589.0 L134.3,596.0 L134.6,604.7 L135.0,615.6 L135.3,627.1 L135.7,625.6 L136.0,624.2 L136.4,622.9 L136.7,621.7 L137.1,620.5 L137.4,619.4 L137.8,618.4 L138.1,617.5 L138.5,616.6 L138.8,615.8 L139.2,615.0 L139.5,614.3 L139.9,613.6 L140.2,613.0 L140.6,612.4 L140.9,611.9 L141.3,611.4 L141.6,610.9 L142.0,610.4 L142.3,610.0 L142.7,609.6 L143.0,609.3 L143.4,608.9 L143.7,608.6 L144.1,608.3 L144.4,608.0 L144.8,607.8 L145.1,607.5 L145.5,607.3 L145.8,607.1 L146.2,606.9 L146.5,606.7 L146.9,606.5 L147.2,606.4 L147.6,606.2 L147.9,606.1 L148.3,605.9 L148.6,605.8 L149.0,605.7 L149.3,605.6 L149.7,605.5" fill="none" stroke="#fff" stroke-width="5.80" stroke-linejoin="round" stroke-linecap="round"/>
<path d="M42.5,606.7 L42.9,606.5 L43.2,606.4 L43.6,606.2 L43.9,606.1 L44.3,606.0 L44.6,605.8 L45.0,605.7 L45.3,605.6 L45.7,605.5 L46.0,605.4 L46.4,605.3 L46.7,605.2 L47.1,605.1 L47.4,605.1 L47.8,605.0 L48.1,604.9 L48.5,604.9 L48.8,604.8 L49.2,604.8 L49.5,604.7 L49.9,604.7 L50.2,604.6 L50.6,604.6 L50.9,604.6 L51.3,604.5 L51.6,603.6 L52.0,601.3 L52.3,596.8 L52.7,590.2 L53.0,581.9 L53.4,572.6 L53.7,563.5 L54.1,555.8 L54.4,550.5 L54.8,548.4 L55.1,549.7 L55.5,551.1 L55.8,552.4 L56.2,553.6 L56.5,554.7 L56.9,555.8 L57.2,556.8 L57.6,557.7 L57.9,558.6 L58.3,559.3 L58.6,560.1 L59.0,560.8 L59.3,561.4 L59.7,562.0 L60.0,562.6 L60.4,563.1 L60.7,563.6 L61.1,564.1 L61.4,564.5 L61.8,564.9 L62.1,565.3 L62.5,565.7 L62.8,566.0 L63.2,566.3 L63.5,566.6 L63.9,566.9 L64.2,567.1 L64.6,567.3 L64.9,567.6 L65.3,567.8 L65.6,568.0 L66.0,568.2 L66.3,568.3 L66.7,568.5 L67.0,568.7 L67.4,568.8 L67.7,568.9 L68.1,569.1 L68.4,569.2 L68.8,569.3 L69.1,569.4 L69.5,569.5 L69.8,569.6 L70.2,569.7 L70.5,569.8 L70.9,569.9 L71.2,569.9 L71.6,570.0 L71.9,570.1 L72.3,570.1 L72.6,570.2 L73.0,570.3 L73.3,570.3 L73.7,570.4 L74.0,570.4 L74.4,570.5 L74.7,570.5 L75.1,570.6 L75.4,570.6 L75.8,570.7 L76.1,570.7 L76.5,570.8 L76.8,570.8 L77.2,570.8 L77.5,570.9 L77.9,570.9 L78.2,570.9 L78.6,571.0 L78.9,571.1 L79.3,571.3 L79.6,571.7 L80.0,572.4 L80.3,573.6 L80.7,575.3 L81.0,577.8 L81.4,581.2 L81.7,585.8 L82.1,591.8 L82.4,599.5 L82.8,609.2 L83.1,621.1 L83.5,626.5 L83.8,625.0 L84.2,623.6 L84.5,622.4 L84.9,621.2 L85.2,620.0 L85.6,619.0 L85.9,618.0 L86.3,617.1 L86.6,616.3 L87.0,615.5 L87.3,614.7 L87.7,614.0 L88.0,613.4 L88.4,612.8 L88.7,612.2 L89.1,611.7 L89.4,611.2 L89.8,610.7 L90.1,610.3 L90.5,609.9 L90.8,609.5 L91.2,609.1 L91.5,608.8 L91.9,608.5 L92.2,608.2 L92.6,607.9 L92.9,607.7 L93.3,607.4 L93.6,607.2 L94.0,607.0 L94.3,606.8 L94.7,606.6 L95.0,606.5 L95.4,606.3 L95.7,606.1 L96.1,606.0 L96.5,605.9 L96.8,605.8 L97.2,605.6 L97.5,605.5 L97.9,605.4 L98.2,605.3 L98.6,605.3 L98.9,605.2 L99.3,605.1 L99.6,605.0 L100.0,605.0 L100.3,604.9 L100.7,604.9 L101.0,604.8 L101.4,604.7 L101.7,604.7 L102.1,604.7 L102.4,604.6 L102.8,604.6 L103.1,604.5 L103.5,604.1 L103.8,602.5 L104.2,599.0 L104.5,593.3 L104.9,585.7 L105.2,576.7 L105.6,567.4 L105.9,558.9 L106.3,552.5 L106.6,548.9 L107.0,549.1 L107.3,550.5 L107.7,551.9 L108.0,553.1 L108.4,554.3 L108.7,555.4 L109.1,556.4 L109.4,557.3 L109.8,558.2 L110.1,559.0 L110.5,559.8 L110.8,560.5 L111.2,561.2 L111.5,561.8 L111.9,562.4 L112.2,562.9 L112.6,563.4 L112.9,563.9 L113.3,564.3 L113.6,564.8 L114.0,565.1 L114.3,565.5 L114.7,565.8 L115.0,566.2 L115.4,566.5 L115.7,566.7 L116.1,567.0 L116.4,567.2 L116.8,567.5 L117.1,567.7 L117.5,567.9 L117.8,568.1 L118.2,568.3 L118.5,568.4 L118.9,568.6 L119.2,568.7 L119.6,568.9 L119.9,569.0 L120.3,569.1 L120.6,569.2 L121.0,569.4 L121.3,569.5 L121.7,569.6 L122.0,569.6 L122.4,569.7 L122.7,569.8 L123.1,569.9 L123.4,570.0 L123.8,570.0 L124.1,570.1 L124.5,570.2 L124.8,570.2 L125.2,570.3 L125.5,570.4 L125.9,570.4 L126.2,570.5 L126.6,570.5 L126.9,570.6 L127.3,570.6 L127.6,570.7 L128.0,570.7 L128.3,570.7 L128.7,570.8 L129.0,570.8 L129.4,570.9 L129.7,570.9 L130.1,570.9 L130.4,571.0 L130.8,571.0 L131.1,571.2 L131.5,571.5 L131.8,572.1 L132.2,573.0 L132.5,574.5 L132.9,576.6 L133.2,579.6 L133.6,583.7 L133.9,589.0 L134.3,596.0 L134.6,604.7 L135.0,615.6 L135.3,627.1 L135.7,625.6 L136.0,624.2 L136.4,622.9 L136.7,621.7 L137.1,620.5 L137.4,619.4 L137.8,618.4 L138.1,617.5 L138.5,616.6 L138.8,615.8 L139.2,615.0 L139.5,614.3 L139.9,613.6 L140.2,613.0 L140.6,612.4 L140.9,611.9 L141.3,611.4 L141.6,610.9 L142.0,610.4 L142.3,610.0 L142.7,609.6 L143.0,609.3 L143.4,608.9 L143.7,608.6 L144.1,608.3 L144.4,608.0 L144.8,607.8 L145.1,607.5 L145.5,607.3 L145.8,607.1 L146.2,606.9 L146.5,606.7 L146.9,606.5 L147.2,606.4 L147.6,606.2 L147.9,606.1 L148.3,605.9 L148.6,605.8 L149.0,605.7 L149.3,605.6 L149.7,605.5" fill="none" stroke="#0f74bb" stroke-width="2.30" stroke-linejoin="round" stroke-linecap="butt"/>
<path d="M42.5,606.9 L42.9,606.7 L43.2,606.6 L43.6,606.4 L43.9,606.3 L44.3,606.1 L44.6,606.0 L45.0,605.8 L45.3,605.7 L45.7,605.6 L46.0,605.5 L46.4,605.4 L46.7,605.3 L47.1,605.2 L47.4,605.2 L47.8,605.1 L48.1,605.0 L48.5,605.0 L48.8,604.9 L49.2,604.8 L49.5,604.8 L49.9,604.7 L50.2,604.7 L50.6,604.6 L50.9,604.6 L51.3,604.6 L51.6,604.5 L52.0,603.8 L52.3,601.7 L52.7,597.6 L53.0,591.3 L53.4,583.1 L53.7,574.0 L54.1,564.8 L54.4,556.8 L54.8,551.1 L55.1,548.5 L55.5,549.5 L55.8,550.9 L56.2,552.2 L56.5,553.5 L56.9,554.6 L57.2,555.7 L57.6,556.6 L57.9,557.6 L58.3,558.4 L58.6,559.2 L59.0,560.0 L59.3,560.7 L59.7,561.3 L60.0,562.0 L60.4,562.5 L60.7,563.1 L61.1,563.6 L61.4,564.0 L61.8,564.5 L62.1,564.9 L62.5,565.3 L62.8,565.6 L63.2,565.9 L63.5,566.3 L63.9,566.5 L64.2,566.8 L64.6,567.1 L64.9,567.3 L65.3,567.5 L65.6,567.8 L66.0,567.9 L66.3,568.1 L66.7,568.3 L67.0,568.5 L67.4,568.6 L67.7,568.8 L68.1,568.9 L68.4,569.0 L68.8,569.2 L69.1,569.3 L69.5,569.4 L69.8,569.5 L70.2,569.6 L70.5,569.7 L70.9,569.8 L71.2,569.8 L71.6,569.9 L71.9,570.0 L72.3,570.1 L72.6,570.1 L73.0,570.2 L73.3,570.3 L73.7,570.3 L74.0,570.4 L74.4,570.4 L74.7,570.5 L75.1,570.5 L75.4,570.6 L75.8,570.6 L76.1,570.7 L76.5,570.7 L76.8,570.7 L77.2,570.8 L77.5,570.8 L77.9,570.9 L78.2,570.9 L78.6,570.9 L78.9,571.0 L79.3,571.1 L79.6,571.3 L80.0,571.7 L80.3,572.3 L80.7,573.4 L81.0,575.0 L81.4,577.4 L81.7,580.7 L82.1,585.1 L82.4,590.9 L82.8,598.3 L83.1,607.7 L83.5,619.2 L83.8,626.7 L84.2,625.2 L84.5,623.8 L84.9,622.5 L85.2,621.3 L85.6,620.2 L85.9,619.1 L86.3,618.2 L86.6,617.2 L87.0,616.4 L87.3,615.6 L87.7,614.8 L88.0,614.1 L88.4,613.5 L88.7,612.8 L89.1,612.3 L89.4,611.7 L89.8,611.2 L90.1,610.8 L90.5,610.3 L90.8,609.9 L91.2,609.5 L91.5,609.2 L91.9,608.8 L92.2,608.5 L92.6,608.2 L92.9,608.0 L93.3,607.7 L93.6,607.5 L94.0,607.2 L94.3,607.0 L94.7,606.8 L95.0,606.6 L95.4,606.5 L95.7,606.3 L96.1,606.2 L96.5,606.0 L96.8,605.9 L97.2,605.8 L97.5,605.7 L97.9,605.6 L98.2,605.5 L98.6,605.4 L98.9,605.3 L99.3,605.2 L99.6,605.1 L100.0,605.0 L100.3,605.0 L100.7,604.9 L101.0,604.9 L101.4,604.8 L101.7,604.8 L102.1,604.7 L102.4,604.7 L102.8,604.6 L103.1,604.6 L103.5,604.5 L103.8,604.3 L104.2,602.9 L104.5,599.6 L104.9,594.3 L105.2,586.8 L105.6,578.0 L105.9,568.7 L106.3,560.0 L106.6,553.2 L107.0,549.2 L107.3,548.9 L107.7,550.3 L108.0,551.7 L108.4,552.9 L108.7,554.1 L109.1,555.2 L109.4,556.2 L109.8,557.2 L110.1,558.1 L110.5,558.9 L110.8,559.7 L111.2,560.4 L111.5,561.1 L111.9,561.7 L112.2,562.3 L112.6,562.8 L112.9,563.4 L113.3,563.8 L113.6,564.3 L114.0,564.7 L114.3,565.1 L114.7,565.5 L115.0,565.8 L115.4,566.1 L115.7,566.4 L116.1,566.7 L116.4,567.0 L116.8,567.2 L117.1,567.4 L117.5,567.7 L117.8,567.9 L118.2,568.1 L118.5,568.2 L118.9,568.4 L119.2,568.6 L119.6,568.7 L119.9,568.9 L120.3,569.0 L120.6,569.1 L121.0,569.2 L121.3,569.3 L121.7,569.4 L122.0,569.5 L122.4,569.6 L122.7,569.7 L123.1,569.8 L123.4,569.9 L123.8,570.0 L124.1,570.0 L124.5,570.1 L124.8,570.2 L125.2,570.2 L125.5,570.3 L125.9,570.4 L126.2,570.4 L126.6,570.5 L126.9,570.5 L127.3,570.6 L127.6,570.6 L128.0,570.6 L128.3,570.7 L128.7,570.7 L129.0,570.8 L129.4,570.8 L129.7,570.8 L130.1,570.9 L130.4,570.9 L130.8,571.0 L131.1,571.0 L131.5,571.2 L131.8,571.5 L132.2,572.0 L132.5,572.9 L132.9,574.2 L133.2,576.3 L133.6,579.1 L133.9,583.0 L134.3,588.2 L134.6,594.9 L135.0,603.4 L135.3,613.9 L135.7,626.9 L136.0,625.8 L136.4,624.4 L136.7,623.1 L137.1,621.8 L137.4,620.7 L137.8,619.6 L138.1,618.6 L138.5,617.6 L138.8,616.7 L139.2,615.9 L139.5,615.1 L139.9,614.4 L140.2,613.7 L140.6,613.1 L140.9,612.5 L141.3,612.0 L141.6,611.4 L142.0,611.0 L142.3,610.5 L142.7,610.1 L143.0,609.7 L143.4,609.3 L143.7,609.0 L144.1,608.7 L144.4,608.4 L144.8,608.1 L145.1,607.8 L145.5,607.6 L145.8,607.3 L146.2,607.1 L146.5,606.9 L146.9,606.7 L147.2,606.5 L147.6,606.4 L147.9,606.2 L148.3,606.1 L148.6,606.0 L149.0,605.8 L149.3,605.7 L149.7,605.6" fill="none" stroke="#d9541e" stroke-width="2.30" stroke-linejoin="round" stroke-linecap="butt" stroke-dasharray="2.1 1.9"/>
</g>
<g clip-path="url(#pt1)">
<path d="M149.8,499.7 L150.8,503.5 L151.8,507.2 L152.8,510.8 L153.8,514.3 L154.8,517.5 L155.8,520.5 L156.8,523.2 L157.8,525.5 L158.8,527.4 L159.8,528.9 L160.8,530.0 L161.8,530.6 L162.8,530.8 L163.8,530.6 L164.8,530.2 L165.8,529.6 L166.8,528.7 L167.9,527.5 L168.9,526.2 L169.9,524.6 L170.9,522.9 L171.9,520.9 L172.9,518.8 L173.9,516.5 L174.9,514.1 L175.9,511.5 L176.9,508.9 L177.9,506.2 L178.9,503.5 L179.9,500.7 L180.9,497.9 L181.9,495.1 L182.9,492.4 L183.9,489.7 L184.9,487.1 L185.9,484.6 L186.9,482.2 L187.9,479.9 L188.9,477.9 L189.9,475.9 L190.9,474.2 L191.9,472.7 L192.9,471.4 L193.9,470.4 L194.9,469.5 L195.9,468.9 L196.9,468.6 L197.9,468.5 L198.9,468.8 L199.9,469.6 L200.9,471.0 L201.9,472.7 L202.9,474.9 L204.0,477.5 L205.0,480.5 L206.0,483.8 L207.0,487.3 L208.0,491.0 L209.0,494.9 L210.0,498.8 L211.0,502.8 L212.0,506.7 L213.0,510.4 L214.0,514.0 L215.0,517.4 L216.0,520.4 L217.0,523.1 L218.0,525.4 L219.0,527.3 L220.0,528.8 L221.0,529.7 L222.0,530.2 L223.0,530.2 L224.0,529.9 L225.0,529.4 L226.0,528.6 L227.0,527.6 L228.0,526.4 L229.0,524.9 L230.0,523.3 L231.0,521.5 L232.0,519.4 L233.0,517.3 L234.0,514.9 L235.0,512.5 L236.0,509.9 L237.0,507.3 L238.0,504.6 L239.0,501.8 L240.1,499.1 L241.1,496.3 L242.1,493.6 L243.1,490.9 L244.1,488.2 L245.1,485.7 L246.1,483.3 L247.1,481.0 L248.1,478.8 L249.1,476.9 L250.1,475.1 L251.1,473.4 L252.1,472.1 L253.1,470.9 L254.1,469.9 L255.1,469.2 L256.1,468.7 L257.1,468.5" fill="none" stroke="#fff" stroke-width="6.80" stroke-linejoin="round" stroke-linecap="round"/>
<path d="M149.8,512.9 L150.8,509.9 L151.8,506.8 L152.8,503.6 L153.8,500.4 L154.8,497.1 L155.8,493.9 L156.8,490.8 L157.8,487.8 L158.8,484.9 L159.8,482.1 L160.8,479.6 L161.8,477.2 L162.8,475.1 L163.8,473.2 L164.8,471.6 L165.8,470.2 L166.8,469.2 L167.9,468.5 L168.9,468.1 L169.9,468.0 L170.9,468.4 L171.9,469.4 L172.9,470.9 L173.9,472.8 L174.9,475.3 L175.9,478.2 L176.9,481.4 L177.9,485.0 L178.9,488.8 L179.9,492.8 L180.9,497.0 L181.9,501.2 L182.9,505.4 L183.9,509.5 L184.9,513.5 L185.9,517.2 L186.9,520.7 L187.9,523.8 L188.9,526.5 L189.9,528.8 L190.9,530.6 L191.9,531.8 L192.9,532.6 L193.9,532.8 L194.9,532.6 L195.9,532.2 L196.9,531.5 L197.9,530.5 L198.9,529.3 L199.9,527.9 L200.9,526.2 L201.9,524.3 L202.9,522.2 L204.0,520.0 L205.0,517.6 L206.0,515.0 L207.0,512.3 L208.0,509.5 L209.0,506.6 L210.0,503.7 L211.0,500.8 L212.0,497.8 L213.0,494.9 L214.0,492.0 L215.0,489.2 L216.0,486.5 L217.0,483.9 L218.0,481.4 L219.0,479.1 L220.0,477.0 L221.0,475.0 L222.0,473.3 L223.0,471.8 L224.0,470.5 L225.0,469.5 L226.0,468.8 L227.0,468.3 L228.0,468.0 L229.0,468.1 L230.0,468.7 L231.0,469.8 L232.0,471.4 L233.0,473.5 L234.0,476.0 L235.0,478.9 L236.0,482.2 L237.0,485.8 L238.0,489.6 L239.0,493.6 L240.1,497.7 L241.1,501.9 L242.1,506.1 L243.1,510.1 L244.1,514.0 L245.1,517.8 L246.1,521.2 L247.1,524.3 L248.1,527.0 L249.1,529.3 L250.1,531.2 L251.1,532.5 L252.1,533.4 L253.1,533.7 L254.1,533.6 L255.1,533.1 L256.1,532.4 L257.1,531.3" fill="none" stroke="#fff" stroke-width="7.00" stroke-linejoin="round" stroke-linecap="round"/>
<path d="M149.8,499.7 L150.8,503.5 L151.8,507.2 L152.8,510.8 L153.8,514.3 L154.8,517.5 L155.8,520.5 L156.8,523.2 L157.8,525.5 L158.8,527.4 L159.8,528.9 L160.8,530.0 L161.8,530.6 L162.8,530.8 L163.8,530.6 L164.8,530.2 L165.8,529.6 L166.8,528.7 L167.9,527.5 L168.9,526.2 L169.9,524.6 L170.9,522.9 L171.9,520.9 L172.9,518.8 L173.9,516.5 L174.9,514.1 L175.9,511.5 L176.9,508.9 L177.9,506.2 L178.9,503.5 L179.9,500.7 L180.9,497.9 L181.9,495.1 L182.9,492.4 L183.9,489.7 L184.9,487.1 L185.9,484.6 L186.9,482.2 L187.9,479.9 L188.9,477.9 L189.9,475.9 L190.9,474.2 L191.9,472.7 L192.9,471.4 L193.9,470.4 L194.9,469.5 L195.9,468.9 L196.9,468.6 L197.9,468.5 L198.9,468.8 L199.9,469.6 L200.9,471.0 L201.9,472.7 L202.9,474.9 L204.0,477.5 L205.0,480.5 L206.0,483.8 L207.0,487.3 L208.0,491.0 L209.0,494.9 L210.0,498.8 L211.0,502.8 L212.0,506.7 L213.0,510.4 L214.0,514.0 L215.0,517.4 L216.0,520.4 L217.0,523.1 L218.0,525.4 L219.0,527.3 L220.0,528.8 L221.0,529.7 L222.0,530.2 L223.0,530.2 L224.0,529.9 L225.0,529.4 L226.0,528.6 L227.0,527.6 L228.0,526.4 L229.0,524.9 L230.0,523.3 L231.0,521.5 L232.0,519.4 L233.0,517.3 L234.0,514.9 L235.0,512.5 L236.0,509.9 L237.0,507.3 L238.0,504.6 L239.0,501.8 L240.1,499.1 L241.1,496.3 L242.1,493.6 L243.1,490.9 L244.1,488.2 L245.1,485.7 L246.1,483.3 L247.1,481.0 L248.1,478.8 L249.1,476.9 L250.1,475.1 L251.1,473.4 L252.1,472.1 L253.1,470.9 L254.1,469.9 L255.1,469.2 L256.1,468.7 L257.1,468.5" fill="none" stroke="#7e2f8e" stroke-width="4.10" stroke-linejoin="round" stroke-linecap="butt" stroke-dasharray="2.2 1.9"/>
<path d="M149.8,512.9 L150.8,509.9 L151.8,506.8 L152.8,503.6 L153.8,500.4 L154.8,497.1 L155.8,493.9 L156.8,490.8 L157.8,487.8 L158.8,484.9 L159.8,482.1 L160.8,479.6 L161.8,477.2 L162.8,475.1 L163.8,473.2 L164.8,471.6 L165.8,470.2 L166.8,469.2 L167.9,468.5 L168.9,468.1 L169.9,468.0 L170.9,468.4 L171.9,469.4 L172.9,470.9 L173.9,472.8 L174.9,475.3 L175.9,478.2 L176.9,481.4 L177.9,485.0 L178.9,488.8 L179.9,492.8 L180.9,497.0 L181.9,501.2 L182.9,505.4 L183.9,509.5 L184.9,513.5 L185.9,517.2 L186.9,520.7 L187.9,523.8 L188.9,526.5 L189.9,528.8 L190.9,530.6 L191.9,531.8 L192.9,532.6 L193.9,532.8 L194.9,532.6 L195.9,532.2 L196.9,531.5 L197.9,530.5 L198.9,529.3 L199.9,527.9 L200.9,526.2 L201.9,524.3 L202.9,522.2 L204.0,520.0 L205.0,517.6 L206.0,515.0 L207.0,512.3 L208.0,509.5 L209.0,506.6 L210.0,503.7 L211.0,500.8 L212.0,497.8 L213.0,494.9 L214.0,492.0 L215.0,489.2 L216.0,486.5 L217.0,483.9 L218.0,481.4 L219.0,479.1 L220.0,477.0 L221.0,475.0 L222.0,473.3 L223.0,471.8 L224.0,470.5 L225.0,469.5 L226.0,468.8 L227.0,468.3 L228.0,468.0 L229.0,468.1 L230.0,468.7 L231.0,469.8 L232.0,471.4 L233.0,473.5 L234.0,476.0 L235.0,478.9 L236.0,482.2 L237.0,485.8 L238.0,489.6 L239.0,493.6 L240.1,497.7 L241.1,501.9 L242.1,506.1 L243.1,510.1 L244.1,514.0 L245.1,517.8 L246.1,521.2 L247.1,524.3 L248.1,527.0 L249.1,529.3 L250.1,531.2 L251.1,532.5 L252.1,533.4 L253.1,533.7 L254.1,533.6 L255.1,533.1 L256.1,532.4 L257.1,531.3" fill="none" stroke="#edb120" stroke-width="4.30" stroke-linejoin="round" stroke-linecap="butt"/>
<path d="M149.8,512.9 L150.8,509.9 L151.8,506.8 L152.8,503.6 L153.8,500.4 L154.8,497.1 L155.8,493.9 L156.8,490.8 L157.8,487.8 L158.8,484.9 L159.8,482.1 L160.8,479.6 L161.8,477.2 L162.8,475.1 L163.8,473.2 L164.8,471.6 L165.8,470.2 L166.8,469.2 L167.9,468.5 L168.9,468.1 L169.9,468.0 L170.9,468.4 L171.9,469.4 L172.9,470.9 L173.9,472.8 L174.9,475.3 L175.9,478.2 L176.9,481.4 L177.9,485.0 L178.9,488.8 L179.9,492.8 L180.9,497.0 L181.9,501.2 L182.9,505.4 L183.9,509.5 L184.9,513.5 L185.9,517.2 L186.9,520.7 L187.9,523.8 L188.9,526.5 L189.9,528.8 L190.9,530.6 L191.9,531.8 L192.9,532.6 L193.9,532.8 L194.9,532.6 L195.9,532.2 L196.9,531.5 L197.9,530.5 L198.9,529.3 L199.9,527.9 L200.9,526.2 L201.9,524.3 L202.9,522.2 L204.0,520.0 L205.0,517.6 L206.0,515.0 L207.0,512.3 L208.0,509.5 L209.0,506.6 L210.0,503.7 L211.0,500.8 L212.0,497.8 L213.0,494.9 L214.0,492.0 L215.0,489.2 L216.0,486.5 L217.0,483.9 L218.0,481.4 L219.0,479.1 L220.0,477.0 L221.0,475.0 L222.0,473.3 L223.0,471.8 L224.0,470.5 L225.0,469.5 L226.0,468.8 L227.0,468.3 L228.0,468.0 L229.0,468.1 L230.0,468.7 L231.0,469.8 L232.0,471.4 L233.0,473.5 L234.0,476.0 L235.0,478.9 L236.0,482.2 L237.0,485.8 L238.0,489.6 L239.0,493.6 L240.1,497.7 L241.1,501.9 L242.1,506.1 L243.1,510.1 L244.1,514.0 L245.1,517.8 L246.1,521.2 L247.1,524.3 L248.1,527.0 L249.1,529.3 L250.1,531.2 L251.1,532.5 L252.1,533.4 L253.1,533.7 L254.1,533.6 L255.1,533.1 L256.1,532.4 L257.1,531.3" fill="none" stroke="#0f74bb" stroke-width="2.20" stroke-linejoin="round" stroke-linecap="butt"/>
<path d="M149.8,499.7 L150.8,503.5 L151.8,507.2 L152.8,510.8 L153.8,514.3 L154.8,517.5 L155.8,520.5 L156.8,523.2 L157.8,525.5 L158.8,527.4 L159.8,528.9 L160.8,530.0 L161.8,530.6 L162.8,530.8 L163.8,530.6 L164.8,530.2 L165.8,529.6 L166.8,528.7 L167.9,527.5 L168.9,526.2 L169.9,524.6 L170.9,522.9 L171.9,520.9 L172.9,518.8 L173.9,516.5 L174.9,514.1 L175.9,511.5 L176.9,508.9 L177.9,506.2 L178.9,503.5 L179.9,500.7 L180.9,497.9 L181.9,495.1 L182.9,492.4 L183.9,489.7 L184.9,487.1 L185.9,484.6 L186.9,482.2 L187.9,479.9 L188.9,477.9 L189.9,475.9 L190.9,474.2 L191.9,472.7 L192.9,471.4 L193.9,470.4 L194.9,469.5 L195.9,468.9 L196.9,468.6 L197.9,468.5 L198.9,468.8 L199.9,469.6 L200.9,471.0 L201.9,472.7 L202.9,474.9 L204.0,477.5 L205.0,480.5 L206.0,483.8 L207.0,487.3 L208.0,491.0 L209.0,494.9 L210.0,498.8 L211.0,502.8 L212.0,506.7 L213.0,510.4 L214.0,514.0 L215.0,517.4 L216.0,520.4 L217.0,523.1 L218.0,525.4 L219.0,527.3 L220.0,528.8 L221.0,529.7 L222.0,530.2 L223.0,530.2 L224.0,529.9 L225.0,529.4 L226.0,528.6 L227.0,527.6 L228.0,526.4 L229.0,524.9 L230.0,523.3 L231.0,521.5 L232.0,519.4 L233.0,517.3 L234.0,514.9 L235.0,512.5 L236.0,509.9 L237.0,507.3 L238.0,504.6 L239.0,501.8 L240.1,499.1 L241.1,496.3 L242.1,493.6 L243.1,490.9 L244.1,488.2 L245.1,485.7 L246.1,483.3 L247.1,481.0 L248.1,478.8 L249.1,476.9 L250.1,475.1 L251.1,473.4 L252.1,472.1 L253.1,470.9 L254.1,469.9 L255.1,469.2 L256.1,468.7 L257.1,468.5" fill="none" stroke="#d9541e" stroke-width="1.90" stroke-linejoin="round" stroke-linecap="butt" stroke-dasharray="2.1 1.9"/>
</g>
<g clip-path="url(#pb1)">
<path d="M149.8,561.6 L150.2,562.2 L150.5,562.7 L150.9,563.2 L151.2,563.7 L151.6,564.1 L151.9,564.5 L152.3,564.9 L152.6,565.3 L153.0,565.6 L153.3,566.0 L153.7,566.3 L154.0,566.6 L154.4,566.8 L154.7,567.1 L155.1,567.4 L155.4,567.6 L155.8,567.8 L156.1,568.0 L156.5,568.2 L156.8,568.4 L157.2,568.6 L157.5,568.7 L157.9,568.9 L158.2,569.0 L158.6,569.2 L158.9,569.3 L159.3,569.4 L159.6,569.5 L160.0,569.6 L160.3,569.8 L160.7,569.9 L161.0,569.9 L161.4,570.0 L161.7,570.1 L162.1,570.2 L162.4,570.3 L162.8,570.4 L163.1,570.4 L163.5,570.5 L163.8,570.6 L164.2,570.6 L164.5,570.7 L164.9,570.7 L165.2,570.8 L165.6,570.9 L165.9,570.9 L166.3,571.0 L166.6,571.0 L167.0,571.0 L167.3,571.1 L167.7,571.1 L168.0,571.2 L168.4,571.2 L168.7,571.3 L169.1,571.3 L169.4,571.3 L169.8,571.4 L170.1,571.4 L170.5,571.6 L170.8,571.8 L171.2,572.2 L171.5,572.8 L171.9,573.8 L172.2,575.1 L172.6,577.0 L172.9,579.4 L173.3,582.7 L173.6,586.8 L174.0,592.0 L174.3,598.5 L174.7,606.3 L175.0,615.8 L175.4,627.0 L175.7,626.0 L176.1,624.7 L176.4,623.5 L176.8,622.4 L177.2,621.4 L177.5,620.4 L177.9,619.4 L178.2,618.6 L178.6,617.7 L178.9,617.0 L179.3,616.2 L179.6,615.5 L180.0,614.9 L180.3,614.3 L180.7,613.7 L181.0,613.1 L181.4,612.6 L181.7,612.1 L182.1,611.7 L182.4,611.2 L182.8,610.8 L183.1,610.5 L183.5,610.1 L183.8,609.8 L184.2,609.4 L184.5,609.1 L184.9,608.9 L185.2,608.6 L185.6,608.3 L185.9,608.1 L186.3,607.9 L186.6,607.7 L187.0,607.5 L187.3,607.3 L187.7,607.1 L188.0,606.9 L188.4,606.8 L188.7,606.6 L189.1,606.5 L189.4,606.4 L189.8,606.3 L190.1,606.1 L190.5,606.0 L190.8,605.9 L191.2,605.8 L191.5,605.7 L191.9,605.7 L192.2,605.6 L192.6,605.5 L192.9,605.4 L193.3,605.4 L193.6,605.3 L194.0,605.2 L194.3,605.2 L194.7,605.1 L195.0,605.1 L195.4,605.0 L195.7,605.0 L196.1,604.9 L196.4,604.9 L196.8,604.9 L197.1,604.8 L197.5,604.8 L197.8,604.8 L198.2,604.7 L198.5,604.7 L198.9,604.7 L199.2,604.7 L199.6,604.6 L199.9,604.6 L200.3,604.6 L200.6,604.6 L201.0,604.5 L201.3,603.6 L201.7,599.9 L202.0,592.3 L202.4,581.4 L202.7,569.0 L203.1,557.9 L203.5,550.8 L203.8,549.6 L204.2,550.9 L204.5,552.1 L204.9,553.2 L205.2,554.3 L205.6,555.3 L205.9,556.2 L206.3,557.1 L206.6,557.9 L207.0,558.7 L207.3,559.4 L207.7,560.1 L208.0,560.8 L208.4,561.4 L208.7,562.0 L209.1,562.5 L209.4,563.0 L209.8,563.5 L210.1,564.0 L210.5,564.4 L210.8,564.8 L211.2,565.2 L211.5,565.5 L211.9,565.8 L212.2,566.2 L212.6,566.5 L212.9,566.7 L213.3,567.0 L213.6,567.3 L214.0,567.5 L214.3,567.7 L214.7,567.9 L215.0,568.1 L215.4,568.3 L215.7,568.5 L216.1,568.7 L216.4,568.8 L216.8,569.0 L217.1,569.1 L217.5,569.2 L217.8,569.4 L218.2,569.5 L218.5,569.6 L218.9,569.7 L219.2,569.8 L219.6,569.9 L219.9,570.0 L220.3,570.1 L220.6,570.2 L221.0,570.3 L221.3,570.3 L221.7,570.4 L222.0,570.5 L222.4,570.5 L222.7,570.6 L223.1,570.7 L223.4,570.7 L223.8,570.8 L224.1,570.8 L224.5,570.9 L224.8,570.9 L225.2,571.0 L225.5,571.0 L225.9,571.1 L226.2,571.1 L226.6,571.2 L226.9,571.2 L227.3,571.2 L227.6,571.3 L228.0,571.3 L228.3,571.3 L228.7,571.4 L229.0,571.5 L229.4,571.7 L229.7,572.0 L230.1,572.5 L230.5,573.3 L230.8,574.5 L231.2,576.2 L231.5,578.4 L231.9,581.3 L232.2,585.1 L232.6,589.8 L232.9,595.7 L233.3,603.0 L233.6,611.8 L234.0,622.2 L234.3,626.5 L234.7,625.2 L235.0,624.0 L235.4,622.9 L235.7,621.8 L236.1,620.8 L236.4,619.8 L236.8,618.9 L237.1,618.1 L237.5,617.3 L237.8,616.5 L238.2,615.8 L238.5,615.1 L238.9,614.5 L239.2,613.9 L239.6,613.3 L239.9,612.8 L240.3,612.3 L240.6,611.9 L241.0,611.4 L241.3,611.0 L241.7,610.6 L242.0,610.2 L242.4,609.9 L242.7,609.6 L243.1,609.3 L243.4,609.0 L243.8,608.7 L244.1,608.4 L244.5,608.2 L244.8,608.0 L245.2,607.8 L245.5,607.6 L245.9,607.4 L246.2,607.2 L246.6,607.0 L246.9,606.9 L247.3,606.7 L247.6,606.6 L248.0,606.4 L248.3,606.3 L248.7,606.2 L249.0,606.1 L249.4,606.0 L249.7,605.9 L250.1,605.8 L250.4,605.7 L250.8,605.6 L251.1,605.5 L251.5,605.5 L251.8,605.4 L252.2,605.3 L252.5,605.3 L252.9,605.2 L253.2,605.1 L253.6,605.1 L253.9,605.0 L254.3,605.0 L254.6,605.0 L255.0,604.9 L255.3,604.9 L255.7,604.8 L256.0,604.8 L256.4,604.8 L256.7,604.7 L257.1,604.7" fill="none" stroke="#fff" stroke-width="5.80" stroke-linejoin="round" stroke-linecap="round"/>
<path d="M149.8,561.6 L150.2,562.2 L150.5,562.7 L150.9,563.2 L151.2,563.7 L151.6,564.1 L151.9,564.5 L152.3,564.9 L152.6,565.3 L153.0,565.6 L153.3,566.0 L153.7,566.3 L154.0,566.6 L154.4,566.8 L154.7,567.1 L155.1,567.4 L155.4,567.6 L155.8,567.8 L156.1,568.0 L156.5,568.2 L156.8,568.4 L157.2,568.6 L157.5,568.7 L157.9,568.9 L158.2,569.0 L158.6,569.2 L158.9,569.3 L159.3,569.4 L159.6,569.5 L160.0,569.6 L160.3,569.8 L160.7,569.9 L161.0,569.9 L161.4,570.0 L161.7,570.1 L162.1,570.2 L162.4,570.3 L162.8,570.4 L163.1,570.4 L163.5,570.5 L163.8,570.6 L164.2,570.6 L164.5,570.7 L164.9,570.7 L165.2,570.8 L165.6,570.9 L165.9,570.9 L166.3,571.0 L166.6,571.0 L167.0,571.0 L167.3,571.1 L167.7,571.1 L168.0,571.2 L168.4,571.2 L168.7,571.3 L169.1,571.3 L169.4,571.3 L169.8,571.4 L170.1,571.4 L170.5,571.6 L170.8,571.8 L171.2,572.2 L171.5,572.8 L171.9,573.8 L172.2,575.1 L172.6,577.0 L172.9,579.4 L173.3,582.7 L173.6,586.8 L174.0,592.0 L174.3,598.5 L174.7,606.3 L175.0,615.8 L175.4,627.0 L175.7,626.0 L176.1,624.7 L176.4,623.5 L176.8,622.4 L177.2,621.4 L177.5,620.4 L177.9,619.4 L178.2,618.6 L178.6,617.7 L178.9,617.0 L179.3,616.2 L179.6,615.5 L180.0,614.9 L180.3,614.3 L180.7,613.7 L181.0,613.1 L181.4,612.6 L181.7,612.1 L182.1,611.7 L182.4,611.2 L182.8,610.8 L183.1,610.5 L183.5,610.1 L183.8,609.8 L184.2,609.4 L184.5,609.1 L184.9,608.9 L185.2,608.6 L185.6,608.3 L185.9,608.1 L186.3,607.9 L186.6,607.7 L187.0,607.5 L187.3,607.3 L187.7,607.1 L188.0,606.9 L188.4,606.8 L188.7,606.6 L189.1,606.5 L189.4,606.4 L189.8,606.3 L190.1,606.1 L190.5,606.0 L190.8,605.9 L191.2,605.8 L191.5,605.7 L191.9,605.7 L192.2,605.6 L192.6,605.5 L192.9,605.4 L193.3,605.4 L193.6,605.3 L194.0,605.2 L194.3,605.2 L194.7,605.1 L195.0,605.1 L195.4,605.0 L195.7,605.0 L196.1,604.9 L196.4,604.9 L196.8,604.9 L197.1,604.8 L197.5,604.8 L197.8,604.8 L198.2,604.7 L198.5,604.7 L198.9,604.7 L199.2,604.7 L199.6,604.6 L199.9,604.6 L200.3,604.6 L200.6,604.6 L201.0,604.5 L201.3,603.6 L201.7,599.9 L202.0,592.3 L202.4,581.4 L202.7,569.0 L203.1,557.9 L203.5,550.8 L203.8,549.6 L204.2,550.9 L204.5,552.1 L204.9,553.2 L205.2,554.3 L205.6,555.3 L205.9,556.2 L206.3,557.1 L206.6,557.9 L207.0,558.7 L207.3,559.4 L207.7,560.1 L208.0,560.8 L208.4,561.4 L208.7,562.0 L209.1,562.5 L209.4,563.0 L209.8,563.5 L210.1,564.0 L210.5,564.4 L210.8,564.8 L211.2,565.2 L211.5,565.5 L211.9,565.8 L212.2,566.2 L212.6,566.5 L212.9,566.7 L213.3,567.0 L213.6,567.3 L214.0,567.5 L214.3,567.7 L214.7,567.9 L215.0,568.1 L215.4,568.3 L215.7,568.5 L216.1,568.7 L216.4,568.8 L216.8,569.0 L217.1,569.1 L217.5,569.2 L217.8,569.4 L218.2,569.5 L218.5,569.6 L218.9,569.7 L219.2,569.8 L219.6,569.9 L219.9,570.0 L220.3,570.1 L220.6,570.2 L221.0,570.3 L221.3,570.3 L221.7,570.4 L222.0,570.5 L222.4,570.5 L222.7,570.6 L223.1,570.7 L223.4,570.7 L223.8,570.8 L224.1,570.8 L224.5,570.9 L224.8,570.9 L225.2,571.0 L225.5,571.0 L225.9,571.1 L226.2,571.1 L226.6,571.2 L226.9,571.2 L227.3,571.2 L227.6,571.3 L228.0,571.3 L228.3,571.3 L228.7,571.4 L229.0,571.5 L229.4,571.7 L229.7,572.0 L230.1,572.5 L230.5,573.3 L230.8,574.5 L231.2,576.2 L231.5,578.4 L231.9,581.3 L232.2,585.1 L232.6,589.8 L232.9,595.7 L233.3,603.0 L233.6,611.8 L234.0,622.2 L234.3,626.5 L234.7,625.2 L235.0,624.0 L235.4,622.9 L235.7,621.8 L236.1,620.8 L236.4,619.8 L236.8,618.9 L237.1,618.1 L237.5,617.3 L237.8,616.5 L238.2,615.8 L238.5,615.1 L238.9,614.5 L239.2,613.9 L239.6,613.3 L239.9,612.8 L240.3,612.3 L240.6,611.9 L241.0,611.4 L241.3,611.0 L241.7,610.6 L242.0,610.2 L242.4,609.9 L242.7,609.6 L243.1,609.3 L243.4,609.0 L243.8,608.7 L244.1,608.4 L244.5,608.2 L244.8,608.0 L245.2,607.8 L245.5,607.6 L245.9,607.4 L246.2,607.2 L246.6,607.0 L246.9,606.9 L247.3,606.7 L247.6,606.6 L248.0,606.4 L248.3,606.3 L248.7,606.2 L249.0,606.1 L249.4,606.0 L249.7,605.9 L250.1,605.8 L250.4,605.7 L250.8,605.6 L251.1,605.5 L251.5,605.5 L251.8,605.4 L252.2,605.3 L252.5,605.3 L252.9,605.2 L253.2,605.1 L253.6,605.1 L253.9,605.0 L254.3,605.0 L254.6,605.0 L255.0,604.9 L255.3,604.9 L255.7,604.8 L256.0,604.8 L256.4,604.8 L256.7,604.7 L257.1,604.7" fill="none" stroke="#0f74bb" stroke-width="2.30" stroke-linejoin="round" stroke-linecap="butt"/>
<path d="M149.8,561.6 L150.2,562.2 L150.5,562.7 L150.9,563.2 L151.2,563.7 L151.6,564.1 L151.9,564.5 L152.3,564.9 L152.6,565.3 L153.0,565.6 L153.3,566.0 L153.7,566.3 L154.0,566.6 L154.4,566.8 L154.7,567.1 L155.1,567.4 L155.4,567.6 L155.8,567.8 L156.1,568.0 L156.5,568.2 L156.8,568.4 L157.2,568.6 L157.5,568.7 L157.9,568.9 L158.2,569.0 L158.6,569.2 L158.9,569.3 L159.3,569.4 L159.6,569.5 L160.0,569.6 L160.3,569.8 L160.7,569.9 L161.0,569.9 L161.4,570.0 L161.7,570.1 L162.1,570.2 L162.4,570.3 L162.8,570.4 L163.1,570.4 L163.5,570.5 L163.8,570.6 L164.2,570.6 L164.5,570.7 L164.9,570.7 L165.2,570.8 L165.6,570.9 L165.9,570.9 L166.3,571.0 L166.6,571.0 L167.0,571.0 L167.3,571.1 L167.7,571.1 L168.0,571.2 L168.4,571.2 L168.7,571.3 L169.1,571.3 L169.4,571.3 L169.8,571.4 L170.1,571.4 L170.5,571.6 L170.8,571.8 L171.2,572.2 L171.5,572.8 L171.9,573.8 L172.2,575.1 L172.6,577.0 L172.9,579.4 L173.3,582.7 L173.6,586.8 L174.0,592.0 L174.3,598.5 L174.7,606.3 L175.0,615.8 L175.4,627.0 L175.7,626.0 L176.1,624.7 L176.4,623.5 L176.8,622.4 L177.2,621.4 L177.5,620.4 L177.9,619.4 L178.2,618.6 L178.6,617.7 L178.9,617.0 L179.3,616.2 L179.6,615.5 L180.0,614.9 L180.3,614.3 L180.7,613.7 L181.0,613.1 L181.4,612.6 L181.7,612.1 L182.1,611.7 L182.4,611.2 L182.8,610.8 L183.1,610.5 L183.5,610.1 L183.8,609.8 L184.2,609.4 L184.5,609.1 L184.9,608.9 L185.2,608.6 L185.6,608.3 L185.9,608.1 L186.3,607.9 L186.6,607.7 L187.0,607.5 L187.3,607.3 L187.7,607.1 L188.0,606.9 L188.4,606.8 L188.7,606.6 L189.1,606.5 L189.4,606.4 L189.8,606.3 L190.1,606.1 L190.5,606.0 L190.8,605.9 L191.2,605.8 L191.5,605.7 L191.9,605.7 L192.2,605.6 L192.6,605.5 L192.9,605.4 L193.3,605.4 L193.6,605.3 L194.0,605.2 L194.3,605.2 L194.7,605.1 L195.0,605.1 L195.4,605.0 L195.7,605.0 L196.1,604.9 L196.4,604.9 L196.8,604.9 L197.1,604.8 L197.5,604.8 L197.8,604.8 L198.2,604.7 L198.5,604.7 L198.9,604.7 L199.2,604.7 L199.6,604.6 L199.9,604.6 L200.3,604.6 L200.6,604.6 L201.0,604.5 L201.3,603.6 L201.7,599.9 L202.0,592.3 L202.4,581.4 L202.7,569.0 L203.1,557.9 L203.5,550.8 L203.8,549.6 L204.2,550.9 L204.5,552.1 L204.9,553.2 L205.2,554.3 L205.6,555.3 L205.9,556.2 L206.3,557.1 L206.6,557.9 L207.0,558.7 L207.3,559.4 L207.7,560.1 L208.0,560.8 L208.4,561.4 L208.7,562.0 L209.1,562.5 L209.4,563.0 L209.8,563.5 L210.1,564.0 L210.5,564.4 L210.8,564.8 L211.2,565.2 L211.5,565.5 L211.9,565.8 L212.2,566.2 L212.6,566.5 L212.9,566.7 L213.3,567.0 L213.6,567.3 L214.0,567.5 L214.3,567.7 L214.7,567.9 L215.0,568.1 L215.4,568.3 L215.7,568.5 L216.1,568.7 L216.4,568.8 L216.8,569.0 L217.1,569.1 L217.5,569.2 L217.8,569.4 L218.2,569.5 L218.5,569.6 L218.9,569.7 L219.2,569.8 L219.6,569.9 L219.9,570.0 L220.3,570.1 L220.6,570.2 L221.0,570.3 L221.3,570.3 L221.7,570.4 L222.0,570.5 L222.4,570.5 L222.7,570.6 L223.1,570.7 L223.4,570.7 L223.8,570.8 L224.1,570.8 L224.5,570.9 L224.8,570.9 L225.2,571.0 L225.5,571.0 L225.9,571.1 L226.2,571.1 L226.6,571.2 L226.9,571.2 L227.3,571.2 L227.6,571.3 L228.0,571.3 L228.3,571.3 L228.7,571.4 L229.0,571.5 L229.4,571.7 L229.7,572.0 L230.1,572.5 L230.5,573.3 L230.8,574.5 L231.2,576.2 L231.5,578.4 L231.9,581.3 L232.2,585.1 L232.6,589.8 L232.9,595.7 L233.3,603.0 L233.6,611.8 L234.0,622.2 L234.3,626.5 L234.7,625.2 L235.0,624.0 L235.4,622.9 L235.7,621.8 L236.1,620.8 L236.4,619.8 L236.8,618.9 L237.1,618.1 L237.5,617.3 L237.8,616.5 L238.2,615.8 L238.5,615.1 L238.9,614.5 L239.2,613.9 L239.6,613.3 L239.9,612.8 L240.3,612.3 L240.6,611.9 L241.0,611.4 L241.3,611.0 L241.7,610.6 L242.0,610.2 L242.4,609.9 L242.7,609.6 L243.1,609.3 L243.4,609.0 L243.8,608.7 L244.1,608.4 L244.5,608.2 L244.8,608.0 L245.2,607.8 L245.5,607.6 L245.9,607.4 L246.2,607.2 L246.6,607.0 L246.9,606.9 L247.3,606.7 L247.6,606.6 L248.0,606.4 L248.3,606.3 L248.7,606.2 L249.0,606.1 L249.4,606.0 L249.7,605.9 L250.1,605.8 L250.4,605.7 L250.8,605.6 L251.1,605.5 L251.5,605.5 L251.8,605.4 L252.2,605.3 L252.5,605.3 L252.9,605.2 L253.2,605.1 L253.6,605.1 L253.9,605.0 L254.3,605.0 L254.6,605.0 L255.0,604.9 L255.3,604.9 L255.7,604.8 L256.0,604.8 L256.4,604.8 L256.7,604.7 L257.1,604.7" fill="none" stroke="#d9541e" stroke-width="2.30" stroke-linejoin="round" stroke-linecap="butt" stroke-dasharray="2.1 1.9"/>
</g>
<g clip-path="url(#pt2)">
<path d="M257.7,480.0 L258.7,482.2 L259.7,484.6 L260.7,487.2 L261.7,489.9 L262.7,492.7 L263.7,495.6 L264.7,498.5 L265.8,501.5 L266.8,504.4 L267.8,507.2 L268.8,510.0 L269.8,512.7 L270.8,515.2 L271.8,517.5 L272.8,519.7 L273.8,521.6 L274.8,523.3 L275.8,524.7 L276.8,525.9 L277.8,526.8 L278.8,527.3 L279.8,527.6 L280.9,527.5 L281.9,527.2 L282.9,526.5 L283.9,525.5 L284.9,524.2 L285.9,522.6 L286.9,520.7 L287.9,518.6 L288.9,516.3 L289.9,513.8 L290.9,511.1 L291.9,508.3 L292.9,505.4 L293.9,502.4 L294.9,499.4 L296.0,496.4 L297.0,493.4 L298.0,490.5 L299.0,487.7 L300.0,485.1 L301.0,482.6 L302.0,480.3 L303.0,478.2 L304.0,476.4 L305.0,474.8 L306.0,473.5 L307.0,472.6 L308.0,471.9 L309.0,471.5 L310.0,471.6 L311.1,472.0 L312.1,473.0 L313.1,474.5 L314.1,476.4 L315.1,478.7 L316.1,481.4 L317.1,484.4 L318.1,487.8 L319.1,491.3 L320.1,494.9 L321.1,498.7 L322.1,502.5 L323.1,506.2 L324.1,509.8 L325.2,513.2 L326.2,516.4 L327.2,519.2 L328.2,521.7 L329.2,523.8 L330.2,525.5 L331.2,526.7 L332.2,527.4 L333.2,527.6 L334.2,527.4 L335.2,527.0 L336.2,526.2 L337.2,525.2 L338.2,523.9 L339.2,522.3 L340.3,520.5 L341.3,518.5 L342.3,516.3 L343.3,513.9 L344.3,511.4 L345.3,508.7 L346.3,505.9 L347.3,503.1 L348.3,500.2 L349.3,497.4 L350.3,494.5 L351.3,491.7 L352.3,489.0 L353.3,486.4 L354.3,484.0 L355.4,481.7 L356.4,479.5 L357.4,477.6 L358.4,476.0 L359.4,474.5 L360.4,473.4 L361.4,472.5 L362.4,471.9" fill="none" stroke="#edb120" stroke-width="4.60" stroke-linejoin="round" stroke-linecap="butt"/>
<path d="M257.7,482.2 L258.7,479.5 L259.7,477.1 L260.7,475.1 L261.7,473.5 L262.7,472.2 L263.7,471.4 L264.7,471.0 L265.8,471.1 L266.8,471.8 L267.8,472.9 L268.8,474.6 L269.8,476.8 L270.8,479.4 L271.8,482.4 L272.8,485.7 L273.8,489.3 L274.8,493.1 L275.8,497.0 L276.8,501.0 L277.8,504.9 L278.8,508.7 L279.8,512.4 L280.9,515.7 L281.9,518.8 L282.9,521.5 L283.9,523.7 L284.9,525.5 L285.9,526.7 L286.9,527.4 L287.9,527.6 L288.9,527.4 L289.9,526.9 L290.9,526.0 L291.9,524.9 L292.9,523.6 L293.9,521.9 L294.9,520.0 L296.0,517.9 L297.0,515.6 L298.0,513.1 L299.0,510.5 L300.0,507.8 L301.0,504.9 L302.0,502.0 L303.0,499.1 L304.0,496.2 L305.0,493.3 L306.0,490.5 L307.0,487.8 L308.0,485.2 L309.0,482.8 L310.0,480.5 L311.1,478.5 L312.1,476.6 L313.1,475.1 L314.1,473.8 L315.1,472.8 L316.1,472.0 L317.1,471.6 L318.1,471.5 L319.1,471.8 L320.1,472.7 L321.1,474.1 L322.1,476.0 L323.1,478.4 L324.1,481.1 L325.2,484.3 L326.2,487.7 L327.2,491.3 L328.2,495.2 L329.2,499.1 L330.2,503.0 L331.2,506.8 L332.2,510.5 L333.2,514.0 L334.2,517.2 L335.2,520.1 L336.2,522.6 L337.2,524.6 L338.2,526.1 L339.2,527.1 L340.3,527.6 L341.3,527.5 L342.3,527.2 L343.3,526.6 L344.3,525.7 L345.3,524.6 L346.3,523.2 L347.3,521.5 L348.3,519.7 L349.3,517.6 L350.3,515.4 L351.3,512.9 L352.3,510.4 L353.3,507.7 L354.3,505.0 L355.4,502.2 L356.4,499.4 L357.4,496.6 L358.4,493.8 L359.4,491.0 L360.4,488.4 L361.4,485.9 L362.4,483.5" fill="none" stroke="#7e2f8e" stroke-width="4.00" stroke-linejoin="round" stroke-linecap="butt" stroke-dasharray="2.2 1.9"/>
<path d="M257.7,510.8 L258.7,513.6 L259.7,516.1 L260.7,518.4 L261.7,520.5 L262.7,522.3 L263.7,523.8 L264.7,525.0 L265.8,525.8 L266.8,526.3 L267.8,526.4 L268.8,526.2 L269.8,525.7 L270.8,524.8 L271.8,523.7 L272.8,522.3 L273.8,520.6 L274.8,518.7 L275.8,516.5 L276.8,514.2 L277.8,511.6 L278.8,509.0 L279.8,506.2 L280.9,503.3 L281.9,500.4 L282.9,497.4 L283.9,494.5 L284.9,491.7 L285.9,488.9 L286.9,486.2 L287.9,483.7 L288.9,481.4 L289.9,479.3 L290.9,477.4 L291.9,475.7 L292.9,474.3 L293.9,473.2 L294.9,472.5 L296.0,472.0 L297.0,471.8 L298.0,472.0 L299.0,472.6 L300.0,473.7 L301.0,475.1 L302.0,477.0 L303.0,479.1 L304.0,481.6 L305.0,484.4 L306.0,487.4 L307.0,490.6 L308.0,494.0 L309.0,497.4 L310.0,500.8 L311.1,504.2 L312.1,507.5 L313.1,510.7 L314.1,513.8 L315.1,516.5 L316.1,519.0 L317.1,521.2 L318.1,523.1 L319.1,524.5 L320.1,525.6 L321.1,526.2 L322.1,526.4 L323.1,526.2 L324.1,525.7 L325.2,524.9 L326.2,523.7 L327.2,522.3 L328.2,520.6 L329.2,518.6 L330.2,516.3 L331.2,513.9 L332.2,511.3 L333.2,508.5 L334.2,505.6 L335.2,502.6 L336.2,499.6 L337.2,496.6 L338.2,493.6 L339.2,490.7 L340.3,487.9 L341.3,485.2 L342.3,482.7 L343.3,480.4 L344.3,478.3 L345.3,476.5 L346.3,474.9 L347.3,473.7 L348.3,472.7 L349.3,472.1 L350.3,471.8 L351.3,471.9 L352.3,472.4 L353.3,473.3 L354.3,474.6 L355.4,476.2 L356.4,478.3 L357.4,480.6 L358.4,483.3 L359.4,486.2 L360.4,489.3 L361.4,492.5 L362.4,495.9" fill="none" stroke="#0f74bb" stroke-width="2.20" stroke-linejoin="round" stroke-linecap="butt"/>
<path d="M257.7,510.5 L258.7,511.8 L259.7,512.9 L260.7,513.7 L261.7,514.2 L262.7,514.5 L263.7,514.6 L264.7,514.4 L265.8,513.9 L266.8,513.2 L267.8,512.3 L268.8,511.2 L269.8,509.9 L270.8,508.3 L271.8,506.6 L272.8,504.8 L273.8,502.8 L274.8,500.7 L275.8,498.5 L276.8,496.3 L277.8,494.0 L278.8,491.7 L279.8,489.5 L280.9,487.2 L281.9,485.1 L282.9,483.1 L283.9,481.1 L284.9,479.3 L285.9,477.7 L286.9,476.3 L287.9,475.0 L288.9,474.0 L289.9,473.2 L290.9,472.6 L291.9,472.3 L292.9,472.2 L293.9,472.4 L294.9,473.0 L296.0,473.8 L297.0,475.0 L298.0,476.5 L299.0,478.2 L300.0,480.1 L301.0,482.3 L302.0,484.7 L303.0,487.2 L304.0,489.7 L305.0,492.4 L306.0,495.0 L307.0,497.7 L308.0,500.2 L309.0,502.7 L310.0,505.0 L311.1,507.1 L312.1,509.1 L313.1,510.7 L314.1,512.1 L315.1,513.2 L316.1,514.0 L317.1,514.5 L318.1,514.6 L319.1,514.4 L320.1,514.0 L321.1,513.3 L322.1,512.3 L323.1,511.1 L324.1,509.7 L325.2,508.0 L326.2,506.2 L327.2,504.1 L328.2,502.0 L329.2,499.7 L330.2,497.4 L331.2,495.0 L332.2,492.6 L333.2,490.2 L334.2,487.8 L335.2,485.5 L336.2,483.3 L337.2,481.2 L338.2,479.3 L339.2,477.6 L340.3,476.1 L341.3,474.8 L342.3,473.8 L343.3,473.0 L344.3,472.5 L345.3,472.2 L346.3,472.3 L347.3,472.6 L348.3,473.2 L349.3,474.1 L350.3,475.3 L351.3,476.8 L352.3,478.5 L353.3,480.4 L354.3,482.5 L355.4,484.8 L356.4,487.2 L357.4,489.7 L358.4,492.2 L359.4,494.7 L360.4,497.3 L361.4,499.7 L362.4,502.1" fill="none" stroke="#d9541e" stroke-width="2.20" stroke-linejoin="round" stroke-linecap="butt" stroke-dasharray="2.1 1.9"/>
</g>
<g clip-path="url(#pb2)">
<path d="M257.7,607.2 L258.1,607.1 L258.4,607.0 L258.8,606.9 L259.1,606.8 L259.5,606.7 L259.8,606.6 L260.2,606.6 L260.5,606.5 L260.9,606.4 L261.2,606.4 L261.6,606.3 L261.9,606.3 L262.3,606.2 L262.6,605.4 L263.0,603.1 L263.3,598.8 L263.7,592.4 L264.0,584.1 L264.4,574.8 L264.7,565.4 L265.1,557.1 L265.4,551.0 L265.8,547.9 L266.1,548.5 L266.5,550.0 L266.8,551.3 L267.2,552.6 L267.5,553.8 L267.9,554.9 L268.2,555.9 L268.6,556.9 L268.9,557.8 L269.3,558.7 L269.6,559.5 L270.0,560.2 L270.3,560.9 L270.7,561.5 L271.0,562.1 L271.4,562.7 L271.7,563.2 L272.1,563.7 L272.4,564.2 L272.8,564.6 L273.1,565.0 L273.5,565.4 L273.8,565.7 L274.2,566.1 L274.5,566.4 L274.9,566.7 L275.2,566.9 L275.6,567.2 L275.9,567.4 L276.3,567.6 L276.6,567.9 L277.0,568.1 L277.3,568.2 L277.7,568.4 L278.0,568.6 L278.4,568.7 L278.7,568.9 L279.1,569.0 L279.4,569.2 L279.8,569.3 L280.1,569.4 L280.5,569.5 L280.8,569.6 L281.2,569.7 L281.5,569.8 L281.9,569.9 L282.2,570.0 L282.6,570.0 L282.9,570.1 L283.3,570.2 L283.6,570.3 L284.0,570.3 L284.3,570.4 L284.7,570.4 L285.0,570.5 L285.4,570.6 L285.7,570.6 L286.1,570.7 L286.4,570.7 L286.8,570.8 L287.1,570.8 L287.5,570.8 L287.8,570.9 L288.2,570.9 L288.5,571.0 L288.9,571.0 L289.2,571.0 L289.6,571.1 L289.9,571.1 L290.3,571.1 L290.6,571.2 L291.0,571.2 L291.3,571.3 L291.7,571.4 L292.0,571.6 L292.4,572.0 L292.7,572.7 L293.1,573.8 L293.4,575.5 L293.8,578.0 L294.1,581.4 L294.5,585.9 L294.8,591.9 L295.2,599.5 L295.5,609.1 L295.9,620.9 L296.2,629.2 L296.6,627.7 L296.9,626.3 L297.3,624.9 L297.6,623.7 L298.0,622.5 L298.3,621.4 L298.7,620.4 L299.0,619.5 L299.4,618.6 L299.7,617.7 L300.1,616.9 L300.4,616.2 L300.8,615.5 L301.1,614.9 L301.5,614.3 L301.8,613.7 L302.2,613.2 L302.5,612.7 L302.9,612.2 L303.2,611.8 L303.6,611.4 L303.9,611.0 L304.3,610.7 L304.6,610.3 L305.0,610.0 L305.3,609.7 L305.7,609.5 L306.0,609.2 L306.4,609.0 L306.7,608.8 L307.1,608.6 L307.4,608.4 L307.8,608.2 L308.1,608.0 L308.5,607.9 L308.8,607.7 L309.2,607.6 L309.5,607.4 L309.9,607.3 L310.2,607.2 L310.6,607.1 L310.9,607.0 L311.3,606.9 L311.6,606.8 L312.0,606.7 L312.3,606.7 L312.7,606.6 L313.0,606.5 L313.4,606.5 L313.7,606.4 L314.1,606.3 L314.4,606.3 L314.8,606.2 L315.1,605.7 L315.5,603.8 L315.8,599.9 L316.2,593.9 L316.5,586.0 L316.9,576.8 L317.2,567.4 L317.6,558.8 L317.9,552.1 L318.3,548.3 L318.6,548.2 L319.0,549.7 L319.3,551.0 L319.7,552.3 L320.0,553.5 L320.4,554.7 L320.7,555.7 L321.1,556.7 L321.4,557.6 L321.8,558.5 L322.1,559.3 L322.5,560.0 L322.8,560.7 L323.2,561.4 L323.5,562.0 L323.9,562.6 L324.2,563.1 L324.6,563.6 L324.9,564.1 L325.3,564.5 L325.6,564.9 L326.0,565.3 L326.3,565.7 L326.7,566.0 L327.0,566.3 L327.4,566.6 L327.7,566.9 L328.1,567.1 L328.4,567.4 L328.8,567.6 L329.1,567.8 L329.5,568.0 L329.8,568.2 L330.2,568.4 L330.5,568.5 L330.9,568.7 L331.2,568.9 L331.6,569.0 L331.9,569.1 L332.3,569.2 L332.6,569.4 L333.0,569.5 L333.3,569.6 L333.7,569.7 L334.0,569.8 L334.4,569.9 L334.7,569.9 L335.1,570.0 L335.4,570.1 L335.8,570.2 L336.1,570.2 L336.5,570.3 L336.8,570.4 L337.2,570.4 L337.5,570.5 L337.9,570.5 L338.2,570.6 L338.6,570.7 L338.9,570.7 L339.3,570.7 L339.6,570.8 L340.0,570.8 L340.3,570.9 L340.7,570.9 L341.0,571.0 L341.4,571.0 L341.7,571.0 L342.1,571.1 L342.4,571.1 L342.8,571.1 L343.1,571.2 L343.5,571.2 L343.8,571.3 L344.2,571.3 L344.5,571.5 L344.9,571.9 L345.2,572.5 L345.6,573.5 L345.9,575.1 L346.3,577.4 L346.6,580.6 L347.0,584.9 L347.3,590.5 L347.7,597.7 L348.0,606.9 L348.4,618.2 L348.7,629.6 L349.1,628.0 L349.4,626.6 L349.8,625.2 L350.1,624.0 L350.5,622.8 L350.8,621.7 L351.2,620.6 L351.5,619.6 L351.9,618.7 L352.2,617.9 L352.6,617.1 L352.9,616.4 L353.3,615.7 L353.6,615.0 L354.0,614.4 L354.3,613.8 L354.7,613.3 L355.0,612.8 L355.4,612.3 L355.7,611.9 L356.1,611.5 L356.4,611.1 L356.8,610.7 L357.1,610.4 L357.5,610.1 L357.8,609.8 L358.2,609.5 L358.5,609.3 L358.9,609.0 L359.2,608.8 L359.6,608.6 L359.9,608.4 L360.3,608.2 L360.6,608.0 L361.0,607.9 L361.3,607.7 L361.7,607.6 L362.0,607.5 L362.4,607.3" fill="none" stroke="#0f74bb" stroke-width="2.30" stroke-linejoin="round" stroke-linecap="butt"/>
<path d="M257.7,616.1 L258.1,615.4 L258.4,614.8 L258.8,614.2 L259.1,613.7 L259.5,613.2 L259.8,612.7 L260.2,612.3 L260.5,611.9 L260.9,611.5 L261.2,611.1 L261.6,610.8 L261.9,610.5 L262.3,610.2 L262.6,609.9 L263.0,609.7 L263.3,609.4 L263.7,609.2 L264.0,609.0 L264.4,608.8 L264.7,608.6 L265.1,608.4 L265.4,608.2 L265.8,608.1 L266.1,608.0 L266.5,607.8 L266.8,607.7 L267.2,607.6 L267.5,607.5 L267.9,607.4 L268.2,607.3 L268.6,607.2 L268.9,607.1 L269.3,607.0 L269.6,606.9 L270.0,606.9 L270.3,606.8 L270.7,606.7 L271.0,606.7 L271.4,606.6 L271.7,606.6 L272.1,606.5 L272.4,606.5 L272.8,606.4 L273.1,606.0 L273.5,604.2 L273.8,600.4 L274.2,594.4 L274.5,586.5 L274.9,577.2 L275.2,567.5 L275.6,558.6 L275.9,551.6 L276.3,547.5 L276.6,547.2 L277.0,548.7 L277.3,550.1 L277.7,551.4 L278.0,552.6 L278.4,553.8 L278.7,554.9 L279.1,555.9 L279.4,556.8 L279.8,557.7 L280.1,558.5 L280.5,559.3 L280.8,560.0 L281.2,560.6 L281.5,561.3 L281.9,561.8 L282.2,562.4 L282.6,562.9 L282.9,563.4 L283.3,563.8 L283.6,564.3 L284.0,564.6 L284.3,565.0 L284.7,565.4 L285.0,565.7 L285.4,566.0 L285.7,566.3 L286.1,566.5 L286.4,566.8 L286.8,567.0 L287.1,567.2 L287.5,567.5 L287.8,567.7 L288.2,567.8 L288.5,568.0 L288.9,568.2 L289.2,568.3 L289.6,568.5 L289.9,568.6 L290.3,568.7 L290.6,568.9 L291.0,569.0 L291.3,569.1 L291.7,569.2 L292.0,569.3 L292.4,569.4 L292.7,569.5 L293.1,569.5 L293.4,569.6 L293.8,569.7 L294.1,569.8 L294.5,569.8 L294.8,569.9 L295.2,570.0 L295.5,570.0 L295.9,570.1 L296.2,570.1 L296.6,570.2 L296.9,570.2 L297.3,570.3 L297.6,570.3 L298.0,570.4 L298.3,570.4 L298.7,570.5 L299.0,570.5 L299.4,570.6 L299.7,570.6 L300.1,570.6 L300.4,570.7 L300.8,570.7 L301.1,570.7 L301.5,570.8 L301.8,571.0 L302.2,571.3 L302.5,571.8 L302.9,572.7 L303.2,574.0 L303.6,576.0 L303.9,578.7 L304.3,582.5 L304.6,587.4 L305.0,593.8 L305.3,601.8 L305.7,611.8 L306.0,624.1 L306.4,629.7 L306.7,628.2 L307.1,626.8 L307.4,625.5 L307.8,624.2 L308.1,623.0 L308.5,621.9 L308.8,620.9 L309.2,620.0 L309.5,619.1 L309.9,618.2 L310.2,617.4 L310.6,616.7 L310.9,616.0 L311.3,615.4 L311.6,614.8 L312.0,614.2 L312.3,613.7 L312.7,613.2 L313.0,612.7 L313.4,612.3 L313.7,611.8 L314.1,611.5 L314.4,611.1 L314.8,610.8 L315.1,610.5 L315.5,610.2 L315.8,609.9 L316.2,609.6 L316.5,609.4 L316.9,609.2 L317.2,609.0 L317.6,608.8 L317.9,608.6 L318.3,608.4 L318.6,608.2 L319.0,608.1 L319.3,607.9 L319.7,607.8 L320.0,607.7 L320.4,607.6 L320.7,607.5 L321.1,607.4 L321.4,607.3 L321.8,607.2 L322.1,607.1 L322.5,607.0 L322.8,606.9 L323.2,606.9 L323.5,606.8 L323.9,606.7 L324.2,606.7 L324.6,606.6 L324.9,606.6 L325.3,606.5 L325.6,606.5 L326.0,606.4 L326.3,605.9 L326.7,604.0 L327.0,600.0 L327.4,593.9 L327.7,585.8 L328.1,576.5 L328.4,566.8 L328.8,558.0 L329.1,551.2 L329.5,547.4 L329.8,547.3 L330.2,548.8 L330.5,550.2 L330.9,551.5 L331.2,552.7 L331.6,553.9 L331.9,554.9 L332.3,555.9 L332.6,556.9 L333.0,557.7 L333.3,558.5 L333.7,559.3 L334.0,560.0 L334.4,560.7 L334.7,561.3 L335.1,561.9 L335.4,562.4 L335.8,562.9 L336.1,563.4 L336.5,563.9 L336.8,564.3 L337.2,564.7 L337.5,565.0 L337.9,565.4 L338.2,565.7 L338.6,566.0 L338.9,566.3 L339.3,566.6 L339.6,566.8 L340.0,567.0 L340.3,567.3 L340.7,567.5 L341.0,567.7 L341.4,567.8 L341.7,568.0 L342.1,568.2 L342.4,568.3 L342.8,568.5 L343.1,568.6 L343.5,568.7 L343.8,568.9 L344.2,569.0 L344.5,569.1 L344.9,569.2 L345.2,569.3 L345.6,569.4 L345.9,569.5 L346.3,569.5 L346.6,569.6 L347.0,569.7 L347.3,569.8 L347.7,569.8 L348.0,569.9 L348.4,570.0 L348.7,570.0 L349.1,570.1 L349.4,570.1 L349.8,570.2 L350.1,570.2 L350.5,570.3 L350.8,570.3 L351.2,570.4 L351.5,570.4 L351.9,570.5 L352.2,570.5 L352.6,570.6 L352.9,570.6 L353.3,570.6 L353.6,570.7 L354.0,570.7 L354.3,570.7 L354.7,570.8 L355.0,571.0 L355.4,571.3 L355.7,571.8 L356.1,572.8 L356.4,574.1 L356.8,576.2 L357.1,579.0 L357.5,582.8 L357.8,587.8 L358.2,594.3 L358.5,602.5 L358.9,612.6 L359.2,625.1 L359.6,629.6 L359.9,628.1 L360.3,626.7 L360.6,625.4 L361.0,624.1 L361.3,623.0 L361.7,621.9 L362.0,620.8 L362.4,619.9" fill="none" stroke="#d9541e" stroke-width="2.30" stroke-linejoin="round" stroke-linecap="butt" stroke-dasharray="2.1 1.9"/>
</g>
<g clip-path="url(#pt3)">
<path d="M363.8,477.1 L364.8,478.6 L365.8,480.6 L366.8,482.9 L367.8,485.6 L368.8,488.6 L369.8,491.8 L370.8,495.1 L371.8,498.6 L372.8,502.1 L373.8,505.6 L374.9,509.0 L375.9,512.2 L376.9,515.2 L377.9,517.9 L378.9,520.3 L379.9,522.3 L380.9,523.9 L381.9,525.0 L382.9,525.7 L383.9,525.9 L384.9,525.7 L385.9,525.2 L386.9,524.5 L387.9,523.4 L388.9,522.1 L389.9,520.6 L390.9,518.8 L391.9,516.7 L392.9,514.5 L393.9,512.2 L394.9,509.6 L396.0,507.0 L397.0,504.3 L398.0,501.6 L399.0,498.9 L400.0,496.1 L401.0,493.5 L402.0,490.9 L403.0,488.4 L404.0,486.0 L405.0,483.9 L406.0,481.9 L407.0,480.2 L408.0,478.6 L409.0,477.4 L410.0,476.4 L411.0,475.7 L412.0,475.3 L413.0,475.2 L414.0,475.5 L415.0,476.3 L416.1,477.5 L417.1,479.2 L418.1,481.2 L419.1,483.7 L420.1,486.4 L421.1,489.4 L422.1,492.6 L423.1,496.0 L424.1,499.5 L425.1,502.9 L426.1,506.4 L427.1,509.7 L428.1,512.8 L429.1,515.8 L430.1,518.4 L431.1,520.7 L432.1,522.6 L433.1,524.1 L434.1,525.2 L435.1,525.8 L436.1,525.9 L437.2,525.7 L438.2,525.1 L439.2,524.3 L440.2,523.2 L441.2,521.8 L442.2,520.2 L443.2,518.3 L444.2,516.2 L445.2,514.0 L446.2,511.5 L447.2,509.0 L448.2,506.3 L449.2,503.6 L450.2,500.8 L451.2,498.0 L452.2,495.3 L453.2,492.6 L454.2,490.0 L455.2,487.5 L456.2,485.2 L457.2,483.1 L458.3,481.2 L459.3,479.5 L460.3,478.1 L461.3,477.0 L462.3,476.1 L463.3,475.5 L464.3,475.2 L465.3,475.3 L466.3,475.8 L467.3,476.7 L468.3,478.1" fill="none" stroke="#fff" stroke-width="6.80" stroke-linejoin="round" stroke-linecap="round"/>
<path d="M363.8,524.2 L364.8,523.0 L365.8,521.5 L366.8,519.7 L367.8,517.7 L368.8,515.5 L369.8,513.1 L370.8,510.6 L371.8,508.0 L372.8,505.2 L373.8,502.5 L374.9,499.7 L375.9,496.9 L376.9,494.2 L377.9,491.5 L378.9,489.0 L379.9,486.6 L380.9,484.3 L381.9,482.3 L382.9,480.5 L383.9,478.9 L384.9,477.6 L385.9,476.5 L386.9,475.8 L387.9,475.3 L388.9,475.2 L389.9,475.4 L390.9,476.2 L391.9,477.3 L392.9,479.0 L393.9,481.0 L394.9,483.4 L396.0,486.1 L397.0,489.1 L398.0,492.3 L399.0,495.7 L400.0,499.1 L401.0,502.6 L402.0,506.1 L403.0,509.5 L404.0,512.7 L405.0,515.6 L406.0,518.3 L407.0,520.7 L408.0,522.7 L409.0,524.3 L410.0,525.5 L411.0,526.2 L412.0,526.4 L413.0,526.2 L414.0,525.7 L415.0,524.9 L416.1,523.7 L417.1,522.3 L418.1,520.5 L419.1,518.6 L420.1,516.3 L421.1,513.9 L422.1,511.3 L423.1,508.6 L424.1,505.8 L425.1,502.9 L426.1,499.9 L427.1,497.0 L428.1,494.2 L429.1,491.4 L430.1,488.7 L431.1,486.2 L432.1,483.9 L433.1,481.8 L434.1,480.0 L435.1,478.4 L436.1,477.2 L437.2,476.2 L438.2,475.5 L439.2,475.2 L440.2,475.3 L441.2,475.7 L442.2,476.6 L443.2,478.0 L444.2,479.7 L445.2,481.8 L446.2,484.2 L447.2,486.9 L448.2,489.8 L449.2,492.9 L450.2,496.2 L451.2,499.5 L452.2,502.9 L453.2,506.2 L454.2,509.4 L455.2,512.5 L456.2,515.4 L457.2,518.0 L458.3,520.4 L459.3,522.4 L460.3,524.0 L461.3,525.2 L462.3,526.0 L463.3,526.4 L464.3,526.3 L465.3,526.0 L466.3,525.3 L467.3,524.3 L468.3,523.0" fill="none" stroke="#fff" stroke-width="5.00" stroke-linejoin="round" stroke-linecap="round"/>
<path d="M363.8,477.1 L364.8,478.6 L365.8,480.6 L366.8,482.9 L367.8,485.6 L368.8,488.6 L369.8,491.8 L370.8,495.1 L371.8,498.6 L372.8,502.1 L373.8,505.6 L374.9,509.0 L375.9,512.2 L376.9,515.2 L377.9,517.9 L378.9,520.3 L379.9,522.3 L380.9,523.9 L381.9,525.0 L382.9,525.7 L383.9,525.9 L384.9,525.7 L385.9,525.2 L386.9,524.5 L387.9,523.4 L388.9,522.1 L389.9,520.6 L390.9,518.8 L391.9,516.7 L392.9,514.5 L393.9,512.2 L394.9,509.6 L396.0,507.0 L397.0,504.3 L398.0,501.6 L399.0,498.9 L400.0,496.1 L401.0,493.5 L402.0,490.9 L403.0,488.4 L404.0,486.0 L405.0,483.9 L406.0,481.9 L407.0,480.2 L408.0,478.6 L409.0,477.4 L410.0,476.4 L411.0,475.7 L412.0,475.3 L413.0,475.2 L414.0,475.5 L415.0,476.3 L416.1,477.5 L417.1,479.2 L418.1,481.2 L419.1,483.7 L420.1,486.4 L421.1,489.4 L422.1,492.6 L423.1,496.0 L424.1,499.5 L425.1,502.9 L426.1,506.4 L427.1,509.7 L428.1,512.8 L429.1,515.8 L430.1,518.4 L431.1,520.7 L432.1,522.6 L433.1,524.1 L434.1,525.2 L435.1,525.8 L436.1,525.9 L437.2,525.7 L438.2,525.1 L439.2,524.3 L440.2,523.2 L441.2,521.8 L442.2,520.2 L443.2,518.3 L444.2,516.2 L445.2,514.0 L446.2,511.5 L447.2,509.0 L448.2,506.3 L449.2,503.6 L450.2,500.8 L451.2,498.0 L452.2,495.3 L453.2,492.6 L454.2,490.0 L455.2,487.5 L456.2,485.2 L457.2,483.1 L458.3,481.2 L459.3,479.5 L460.3,478.1 L461.3,477.0 L462.3,476.1 L463.3,475.5 L464.3,475.2 L465.3,475.3 L466.3,475.8 L467.3,476.7 L468.3,478.1" fill="none" stroke="#edb120" stroke-width="4.00" stroke-linejoin="round" stroke-linecap="butt"/>
<path d="M363.8,477.1 L364.8,478.6 L365.8,480.6 L366.8,482.9 L367.8,485.6 L368.8,488.6 L369.8,491.8 L370.8,495.1 L371.8,498.6 L372.8,502.1 L373.8,505.6 L374.9,509.0 L375.9,512.2 L376.9,515.2 L377.9,517.9 L378.9,520.3 L379.9,522.3 L380.9,523.9 L381.9,525.0 L382.9,525.7 L383.9,525.9 L384.9,525.7 L385.9,525.2 L386.9,524.5 L387.9,523.4 L388.9,522.1 L389.9,520.6 L390.9,518.8 L391.9,516.7 L392.9,514.5 L393.9,512.2 L394.9,509.6 L396.0,507.0 L397.0,504.3 L398.0,501.6 L399.0,498.9 L400.0,496.1 L401.0,493.5 L402.0,490.9 L403.0,488.4 L404.0,486.0 L405.0,483.9 L406.0,481.9 L407.0,480.2 L408.0,478.6 L409.0,477.4 L410.0,476.4 L411.0,475.7 L412.0,475.3 L413.0,475.2 L414.0,475.5 L415.0,476.3 L416.1,477.5 L417.1,479.2 L418.1,481.2 L419.1,483.7 L420.1,486.4 L421.1,489.4 L422.1,492.6 L423.1,496.0 L424.1,499.5 L425.1,502.9 L426.1,506.4 L427.1,509.7 L428.1,512.8 L429.1,515.8 L430.1,518.4 L431.1,520.7 L432.1,522.6 L433.1,524.1 L434.1,525.2 L435.1,525.8 L436.1,525.9 L437.2,525.7 L438.2,525.1 L439.2,524.3 L440.2,523.2 L441.2,521.8 L442.2,520.2 L443.2,518.3 L444.2,516.2 L445.2,514.0 L446.2,511.5 L447.2,509.0 L448.2,506.3 L449.2,503.6 L450.2,500.8 L451.2,498.0 L452.2,495.3 L453.2,492.6 L454.2,490.0 L455.2,487.5 L456.2,485.2 L457.2,483.1 L458.3,481.2 L459.3,479.5 L460.3,478.1 L461.3,477.0 L462.3,476.1 L463.3,475.5 L464.3,475.2 L465.3,475.3 L466.3,475.8 L467.3,476.7 L468.3,478.1" fill="none" stroke="#7e2f8e" stroke-width="4.00" stroke-linejoin="round" stroke-linecap="butt" stroke-dasharray="2.2 1.9"/>
<path d="M363.8,524.2 L364.8,523.0 L365.8,521.5 L366.8,519.7 L367.8,517.7 L368.8,515.5 L369.8,513.1 L370.8,510.6 L371.8,508.0 L372.8,505.2 L373.8,502.5 L374.9,499.7 L375.9,496.9 L376.9,494.2 L377.9,491.5 L378.9,489.0 L379.9,486.6 L380.9,484.3 L381.9,482.3 L382.9,480.5 L383.9,478.9 L384.9,477.6 L385.9,476.5 L386.9,475.8 L387.9,475.3 L388.9,475.2 L389.9,475.4 L390.9,476.2 L391.9,477.3 L392.9,479.0 L393.9,481.0 L394.9,483.4 L396.0,486.1 L397.0,489.1 L398.0,492.3 L399.0,495.7 L400.0,499.1 L401.0,502.6 L402.0,506.1 L403.0,509.5 L404.0,512.7 L405.0,515.6 L406.0,518.3 L407.0,520.7 L408.0,522.7 L409.0,524.3 L410.0,525.5 L411.0,526.2 L412.0,526.4 L413.0,526.2 L414.0,525.7 L415.0,524.9 L416.1,523.7 L417.1,522.3 L418.1,520.5 L419.1,518.6 L420.1,516.3 L421.1,513.9 L422.1,511.3 L423.1,508.6 L424.1,505.8 L425.1,502.9 L426.1,499.9 L427.1,497.0 L428.1,494.2 L429.1,491.4 L430.1,488.7 L431.1,486.2 L432.1,483.9 L433.1,481.8 L434.1,480.0 L435.1,478.4 L436.1,477.2 L437.2,476.2 L438.2,475.5 L439.2,475.2 L440.2,475.3 L441.2,475.7 L442.2,476.6 L443.2,478.0 L444.2,479.7 L445.2,481.8 L446.2,484.2 L447.2,486.9 L448.2,489.8 L449.2,492.9 L450.2,496.2 L451.2,499.5 L452.2,502.9 L453.2,506.2 L454.2,509.4 L455.2,512.5 L456.2,515.4 L457.2,518.0 L458.3,520.4 L459.3,522.4 L460.3,524.0 L461.3,525.2 L462.3,526.0 L463.3,526.4 L464.3,526.3 L465.3,526.0 L466.3,525.3 L467.3,524.3 L468.3,523.0" fill="none" stroke="#0f74bb" stroke-width="2.00" stroke-linejoin="round" stroke-linecap="butt"/>
<path d="M363.8,524.2 L364.8,523.0 L365.8,521.5 L366.8,519.7 L367.8,517.7 L368.8,515.5 L369.8,513.1 L370.8,510.6 L371.8,508.0 L372.8,505.2 L373.8,502.5 L374.9,499.7 L375.9,496.9 L376.9,494.2 L377.9,491.5 L378.9,489.0 L379.9,486.6 L380.9,484.3 L381.9,482.3 L382.9,480.5 L383.9,478.9 L384.9,477.6 L385.9,476.5 L386.9,475.8 L387.9,475.3 L388.9,475.2 L389.9,475.4 L390.9,476.2 L391.9,477.3 L392.9,479.0 L393.9,481.0 L394.9,483.4 L396.0,486.1 L397.0,489.1 L398.0,492.3 L399.0,495.7 L400.0,499.1 L401.0,502.6 L402.0,506.1 L403.0,509.5 L404.0,512.7 L405.0,515.6 L406.0,518.3 L407.0,520.7 L408.0,522.7 L409.0,524.3 L410.0,525.5 L411.0,526.2 L412.0,526.4 L413.0,526.2 L414.0,525.7 L415.0,524.9 L416.1,523.7 L417.1,522.3 L418.1,520.5 L419.1,518.6 L420.1,516.3 L421.1,513.9 L422.1,511.3 L423.1,508.6 L424.1,505.8 L425.1,502.9 L426.1,499.9 L427.1,497.0 L428.1,494.2 L429.1,491.4 L430.1,488.7 L431.1,486.2 L432.1,483.9 L433.1,481.8 L434.1,480.0 L435.1,478.4 L436.1,477.2 L437.2,476.2 L438.2,475.5 L439.2,475.2 L440.2,475.3 L441.2,475.7 L442.2,476.6 L443.2,478.0 L444.2,479.7 L445.2,481.8 L446.2,484.2 L447.2,486.9 L448.2,489.8 L449.2,492.9 L450.2,496.2 L451.2,499.5 L452.2,502.9 L453.2,506.2 L454.2,509.4 L455.2,512.5 L456.2,515.4 L457.2,518.0 L458.3,520.4 L459.3,522.4 L460.3,524.0 L461.3,525.2 L462.3,526.0 L463.3,526.4 L464.3,526.3 L465.3,526.0 L466.3,525.3 L467.3,524.3 L468.3,523.0" fill="none" stroke="#d9541e" stroke-width="2.20" stroke-linejoin="round" stroke-linecap="butt" stroke-dasharray="2.1 1.9"/>
</g>
<g clip-path="url(#pb3)">
<path d="M363.8,568.5 L364.2,568.6 L364.5,568.7 L364.9,568.8 L365.2,568.9 L365.6,569.0 L365.9,569.1 L366.3,569.1 L366.6,569.2 L367.0,569.3 L367.3,569.3 L367.7,569.4 L368.0,569.4 L368.4,569.5 L368.7,569.5 L369.1,569.6 L369.4,569.6 L369.8,569.7 L370.1,569.7 L370.5,569.8 L370.8,569.9 L371.2,570.1 L371.5,570.4 L371.9,570.9 L372.2,571.8 L372.6,573.0 L372.9,574.6 L373.3,576.9 L373.6,579.9 L374.0,583.8 L374.3,588.8 L374.7,594.9 L375.0,602.5 L375.4,611.7 L375.7,622.6 L376.1,627.2 L376.4,625.7 L376.8,624.2 L377.1,622.9 L377.5,621.7 L377.8,620.5 L378.2,619.4 L378.5,618.4 L378.9,617.4 L379.2,616.6 L379.6,615.7 L379.9,615.0 L380.3,614.2 L380.6,613.6 L381.0,612.9 L381.3,612.4 L381.7,611.8 L382.0,611.3 L382.4,610.8 L382.7,610.4 L383.1,610.0 L383.4,609.6 L383.8,609.2 L384.1,608.9 L384.5,608.6 L384.8,608.3 L385.2,608.0 L385.5,607.7 L385.9,607.5 L386.2,607.3 L386.6,607.0 L386.9,606.9 L387.3,606.7 L387.6,606.5 L388.0,606.3 L388.3,606.2 L388.7,606.1 L389.0,605.9 L389.4,605.8 L389.7,605.7 L390.1,605.6 L390.5,605.5 L390.8,605.4 L391.2,605.3 L391.5,605.2 L391.9,605.1 L392.2,605.1 L392.6,605.0 L392.9,605.0 L393.3,604.9 L393.6,604.8 L394.0,604.8 L394.3,604.7 L394.7,604.7 L395.0,604.7 L395.4,604.6 L395.7,604.6 L396.1,604.6 L396.4,604.5 L396.8,604.3 L397.1,603.2 L397.5,600.4 L397.8,595.4 L398.2,588.5 L398.5,579.9 L398.9,570.5 L399.2,561.5 L399.6,553.9 L399.9,548.7 L400.3,546.7 L400.6,548.1 L401.0,549.6 L401.3,550.9 L401.7,552.2 L402.0,553.4 L402.4,554.5 L402.7,555.5 L403.1,556.4 L403.4,557.3 L403.8,558.1 L404.1,558.9 L404.5,559.6 L404.8,560.3 L405.2,560.9 L405.5,561.5 L405.9,562.1 L406.2,562.6 L406.6,563.0 L406.9,563.5 L407.3,563.9 L407.6,564.3 L408.0,564.6 L408.3,565.0 L408.7,565.3 L409.0,565.6 L409.4,565.9 L409.7,566.1 L410.1,566.4 L410.4,566.6 L410.8,566.8 L411.1,567.0 L411.5,567.2 L411.8,567.4 L412.2,567.5 L412.5,567.7 L412.9,567.8 L413.2,568.0 L413.6,568.1 L413.9,568.2 L414.3,568.3 L414.6,568.4 L415.0,568.5 L415.3,568.6 L415.7,568.7 L416.1,568.8 L416.4,568.9 L416.8,569.0 L417.1,569.1 L417.5,569.1 L417.8,569.2 L418.2,569.3 L418.5,569.3 L418.9,569.4 L419.2,569.4 L419.6,569.5 L419.9,569.5 L420.3,569.6 L420.6,569.6 L421.0,569.7 L421.3,569.7 L421.7,569.8 L422.0,569.9 L422.4,570.1 L422.7,570.4 L423.1,570.9 L423.4,571.8 L423.8,572.9 L424.1,574.6 L424.5,576.9 L424.8,579.9 L425.2,583.8 L425.5,588.7 L425.9,594.9 L426.2,602.4 L426.6,611.6 L426.9,622.6 L427.3,627.2 L427.6,625.7 L428.0,624.2 L428.3,622.9 L428.7,621.7 L429.0,620.5 L429.4,619.4 L429.7,618.4 L430.1,617.5 L430.4,616.6 L430.8,615.7 L431.1,615.0 L431.5,614.3 L431.8,613.6 L432.2,612.9 L432.5,612.4 L432.9,611.8 L433.2,611.3 L433.6,610.8 L433.9,610.4 L434.3,610.0 L434.6,609.6 L435.0,609.2 L435.3,608.9 L435.7,608.6 L436.0,608.3 L436.4,608.0 L436.7,607.7 L437.1,607.5 L437.4,607.3 L437.8,607.0 L438.1,606.9 L438.5,606.7 L438.8,606.5 L439.2,606.3 L439.5,606.2 L439.9,606.1 L440.2,605.9 L440.6,605.8 L440.9,605.7 L441.3,605.6 L441.6,605.5 L442.0,605.4 L442.4,605.3 L442.7,605.2 L443.1,605.1 L443.4,605.1 L443.8,605.0 L444.1,605.0 L444.5,604.9 L444.8,604.8 L445.2,604.8 L445.5,604.7 L445.9,604.7 L446.2,604.7 L446.6,604.6 L446.9,604.6 L447.3,604.6 L447.6,604.5 L448.0,604.3 L448.3,603.2 L448.7,600.4 L449.0,595.5 L449.4,588.5 L449.7,579.9 L450.1,570.6 L450.4,561.5 L450.8,553.9 L451.1,548.7 L451.5,546.7 L451.8,548.1 L452.2,549.6 L452.5,550.9 L452.9,552.2 L453.2,553.4 L453.6,554.5 L453.9,555.5 L454.3,556.4 L454.6,557.3 L455.0,558.1 L455.3,558.9 L455.7,559.6 L456.0,560.3 L456.4,560.9 L456.7,561.5 L457.1,562.1 L457.4,562.6 L457.8,563.0 L458.1,563.5 L458.5,563.9 L458.8,564.3 L459.2,564.6 L459.5,565.0 L459.9,565.3 L460.2,565.6 L460.6,565.9 L460.9,566.1 L461.3,566.4 L461.6,566.6 L462.0,566.8 L462.3,567.0 L462.7,567.2 L463.0,567.4 L463.4,567.5 L463.7,567.7 L464.1,567.8 L464.4,568.0 L464.8,568.1 L465.1,568.2 L465.5,568.3 L465.8,568.4 L466.2,568.5 L466.5,568.6 L466.9,568.7 L467.2,568.8 L467.6,568.9 L467.9,569.0 L468.3,569.1" fill="none" stroke="#fff" stroke-width="5.80" stroke-linejoin="round" stroke-linecap="round"/>
<path d="M363.8,606.0 L364.2,605.9 L364.5,605.8 L364.9,605.8 L365.2,605.7 L365.6,605.6 L365.9,605.5 L366.3,605.5 L366.6,605.4 L367.0,605.4 L367.3,605.3 L367.7,605.3 L368.0,605.2 L368.4,605.2 L368.7,605.2 L369.1,605.1 L369.4,605.1 L369.8,604.3 L370.1,602.0 L370.5,597.3 L370.8,590.3 L371.2,581.4 L371.5,571.4 L371.9,561.6 L372.2,553.5 L372.6,548.1 L372.9,546.5 L373.3,548.0 L373.6,549.5 L374.0,550.9 L374.3,552.1 L374.7,553.3 L375.0,554.4 L375.4,555.4 L375.7,556.4 L376.1,557.3 L376.4,558.1 L376.8,558.9 L377.1,559.6 L377.5,560.3 L377.8,560.9 L378.2,561.5 L378.5,562.1 L378.9,562.6 L379.2,563.0 L379.6,563.5 L379.9,563.9 L380.3,564.3 L380.6,564.7 L381.0,565.0 L381.3,565.3 L381.7,565.6 L382.0,565.9 L382.4,566.1 L382.7,566.4 L383.1,566.6 L383.4,566.8 L383.8,567.0 L384.1,567.2 L384.5,567.4 L384.8,567.6 L385.2,567.7 L385.5,567.9 L385.9,568.0 L386.2,568.1 L386.6,568.3 L386.9,568.4 L387.3,568.5 L387.6,568.6 L388.0,568.7 L388.3,568.8 L388.7,568.9 L389.0,568.9 L389.4,569.0 L389.7,569.1 L390.1,569.2 L390.5,569.2 L390.8,569.3 L391.2,569.4 L391.5,569.4 L391.9,569.5 L392.2,569.5 L392.6,569.6 L392.9,569.6 L393.3,569.7 L393.6,569.7 L394.0,569.8 L394.3,569.8 L394.7,569.9 L395.0,570.0 L395.4,570.1 L395.7,570.4 L396.1,570.9 L396.4,571.6 L396.8,572.6 L397.1,574.1 L397.5,576.1 L397.8,578.7 L398.2,582.2 L398.5,586.5 L398.9,592.0 L399.2,598.7 L399.6,606.8 L399.9,616.6 L400.3,628.2 L400.6,627.5 L401.0,626.0 L401.3,624.6 L401.7,623.2 L402.0,622.0 L402.4,620.9 L402.7,619.8 L403.1,618.8 L403.4,617.8 L403.8,617.0 L404.1,616.2 L404.5,615.4 L404.8,614.7 L405.2,614.0 L405.5,613.4 L405.9,612.8 L406.2,612.3 L406.6,611.8 L406.9,611.3 L407.3,610.9 L407.6,610.4 L408.0,610.1 L408.3,609.7 L408.7,609.4 L409.0,609.0 L409.4,608.8 L409.7,608.5 L410.1,608.2 L410.4,608.0 L410.8,607.8 L411.1,607.6 L411.5,607.4 L411.8,607.2 L412.2,607.0 L412.5,606.9 L412.9,606.7 L413.2,606.6 L413.6,606.4 L413.9,606.3 L414.3,606.2 L414.6,606.1 L415.0,606.0 L415.3,605.9 L415.7,605.8 L416.1,605.8 L416.4,605.7 L416.8,605.6 L417.1,605.5 L417.5,605.5 L417.8,605.4 L418.2,605.4 L418.5,605.3 L418.9,605.3 L419.2,605.2 L419.6,605.2 L419.9,605.2 L420.3,605.1 L420.6,605.1 L421.0,604.3 L421.3,602.0 L421.7,597.4 L422.0,590.4 L422.4,581.4 L422.7,571.4 L423.1,561.7 L423.4,553.5 L423.8,548.2 L424.1,546.5 L424.5,548.0 L424.8,549.5 L425.2,550.9 L425.5,552.1 L425.9,553.3 L426.2,554.4 L426.6,555.4 L426.9,556.4 L427.3,557.3 L427.6,558.1 L428.0,558.9 L428.3,559.6 L428.7,560.3 L429.0,560.9 L429.4,561.5 L429.7,562.1 L430.1,562.6 L430.4,563.0 L430.8,563.5 L431.1,563.9 L431.5,564.3 L431.8,564.6 L432.2,565.0 L432.5,565.3 L432.9,565.6 L433.2,565.9 L433.6,566.1 L433.9,566.4 L434.3,566.6 L434.6,566.8 L435.0,567.0 L435.3,567.2 L435.7,567.4 L436.0,567.6 L436.4,567.7 L436.7,567.9 L437.1,568.0 L437.4,568.1 L437.8,568.2 L438.1,568.4 L438.5,568.5 L438.8,568.6 L439.2,568.7 L439.5,568.8 L439.9,568.9 L440.2,568.9 L440.6,569.0 L440.9,569.1 L441.3,569.2 L441.6,569.2 L442.0,569.3 L442.4,569.4 L442.7,569.4 L443.1,569.5 L443.4,569.5 L443.8,569.6 L444.1,569.6 L444.5,569.7 L444.8,569.7 L445.2,569.8 L445.5,569.8 L445.9,569.9 L446.2,570.0 L446.6,570.1 L446.9,570.4 L447.3,570.9 L447.6,571.6 L448.0,572.6 L448.3,574.1 L448.7,576.1 L449.0,578.7 L449.4,582.1 L449.7,586.5 L450.1,592.0 L450.4,598.7 L450.8,606.8 L451.1,616.5 L451.5,628.1 L451.8,627.5 L452.2,626.0 L452.5,624.6 L452.9,623.2 L453.2,622.0 L453.6,620.9 L453.9,619.8 L454.3,618.8 L454.6,617.9 L455.0,617.0 L455.3,616.2 L455.7,615.4 L456.0,614.7 L456.4,614.0 L456.7,613.4 L457.1,612.8 L457.4,612.3 L457.8,611.8 L458.1,611.3 L458.5,610.9 L458.8,610.4 L459.2,610.1 L459.5,609.7 L459.9,609.4 L460.2,609.1 L460.6,608.8 L460.9,608.5 L461.3,608.2 L461.6,608.0 L462.0,607.8 L462.3,607.6 L462.7,607.4 L463.0,607.2 L463.4,607.0 L463.7,606.9 L464.1,606.7 L464.4,606.6 L464.8,606.4 L465.1,606.3 L465.5,606.2 L465.8,606.1 L466.2,606.0 L466.5,605.9 L466.9,605.8 L467.2,605.8 L467.6,605.7 L467.9,605.6 L468.3,605.5" fill="none" stroke="#fff" stroke-width="5.60" stroke-linejoin="round" stroke-linecap="round"/>
<path d="M363.8,568.5 L364.2,568.6 L364.5,568.7 L364.9,568.8 L365.2,568.9 L365.6,569.0 L365.9,569.1 L366.3,569.1 L366.6,569.2 L367.0,569.3 L367.3,569.3 L367.7,569.4 L368.0,569.4 L368.4,569.5 L368.7,569.5 L369.1,569.6 L369.4,569.6 L369.8,569.7 L370.1,569.7 L370.5,569.8 L370.8,569.9 L371.2,570.1 L371.5,570.4 L371.9,570.9 L372.2,571.8 L372.6,573.0 L372.9,574.6 L373.3,576.9 L373.6,579.9 L374.0,583.8 L374.3,588.8 L374.7,594.9 L375.0,602.5 L375.4,611.7 L375.7,622.6 L376.1,627.2 L376.4,625.7 L376.8,624.2 L377.1,622.9 L377.5,621.7 L377.8,620.5 L378.2,619.4 L378.5,618.4 L378.9,617.4 L379.2,616.6 L379.6,615.7 L379.9,615.0 L380.3,614.2 L380.6,613.6 L381.0,612.9 L381.3,612.4 L381.7,611.8 L382.0,611.3 L382.4,610.8 L382.7,610.4 L383.1,610.0 L383.4,609.6 L383.8,609.2 L384.1,608.9 L384.5,608.6 L384.8,608.3 L385.2,608.0 L385.5,607.7 L385.9,607.5 L386.2,607.3 L386.6,607.0 L386.9,606.9 L387.3,606.7 L387.6,606.5 L388.0,606.3 L388.3,606.2 L388.7,606.1 L389.0,605.9 L389.4,605.8 L389.7,605.7 L390.1,605.6 L390.5,605.5 L390.8,605.4 L391.2,605.3 L391.5,605.2 L391.9,605.1 L392.2,605.1 L392.6,605.0 L392.9,605.0 L393.3,604.9 L393.6,604.8 L394.0,604.8 L394.3,604.7 L394.7,604.7 L395.0,604.7 L395.4,604.6 L395.7,604.6 L396.1,604.6 L396.4,604.5 L396.8,604.3 L397.1,603.2 L397.5,600.4 L397.8,595.4 L398.2,588.5 L398.5,579.9 L398.9,570.5 L399.2,561.5 L399.6,553.9 L399.9,548.7 L400.3,546.7 L400.6,548.1 L401.0,549.6 L401.3,550.9 L401.7,552.2 L402.0,553.4 L402.4,554.5 L402.7,555.5 L403.1,556.4 L403.4,557.3 L403.8,558.1 L404.1,558.9 L404.5,559.6 L404.8,560.3 L405.2,560.9 L405.5,561.5 L405.9,562.1 L406.2,562.6 L406.6,563.0 L406.9,563.5 L407.3,563.9 L407.6,564.3 L408.0,564.6 L408.3,565.0 L408.7,565.3 L409.0,565.6 L409.4,565.9 L409.7,566.1 L410.1,566.4 L410.4,566.6 L410.8,566.8 L411.1,567.0 L411.5,567.2 L411.8,567.4 L412.2,567.5 L412.5,567.7 L412.9,567.8 L413.2,568.0 L413.6,568.1 L413.9,568.2 L414.3,568.3 L414.6,568.4 L415.0,568.5 L415.3,568.6 L415.7,568.7 L416.1,568.8 L416.4,568.9 L416.8,569.0 L417.1,569.1 L417.5,569.1 L417.8,569.2 L418.2,569.3 L418.5,569.3 L418.9,569.4 L419.2,569.4 L419.6,569.5 L419.9,569.5 L420.3,569.6 L420.6,569.6 L421.0,569.7 L421.3,569.7 L421.7,569.8 L422.0,569.9 L422.4,570.1 L422.7,570.4 L423.1,570.9 L423.4,571.8 L423.8,572.9 L424.1,574.6 L424.5,576.9 L424.8,579.9 L425.2,583.8 L425.5,588.7 L425.9,594.9 L426.2,602.4 L426.6,611.6 L426.9,622.6 L427.3,627.2 L427.6,625.7 L428.0,624.2 L428.3,622.9 L428.7,621.7 L429.0,620.5 L429.4,619.4 L429.7,618.4 L430.1,617.5 L430.4,616.6 L430.8,615.7 L431.1,615.0 L431.5,614.3 L431.8,613.6 L432.2,612.9 L432.5,612.4 L432.9,611.8 L433.2,611.3 L433.6,610.8 L433.9,610.4 L434.3,610.0 L434.6,609.6 L435.0,609.2 L435.3,608.9 L435.7,608.6 L436.0,608.3 L436.4,608.0 L436.7,607.7 L437.1,607.5 L437.4,607.3 L437.8,607.0 L438.1,606.9 L438.5,606.7 L438.8,606.5 L439.2,606.3 L439.5,606.2 L439.9,606.1 L440.2,605.9 L440.6,605.8 L440.9,605.7 L441.3,605.6 L441.6,605.5 L442.0,605.4 L442.4,605.3 L442.7,605.2 L443.1,605.1 L443.4,605.1 L443.8,605.0 L444.1,605.0 L444.5,604.9 L444.8,604.8 L445.2,604.8 L445.5,604.7 L445.9,604.7 L446.2,604.7 L446.6,604.6 L446.9,604.6 L447.3,604.6 L447.6,604.5 L448.0,604.3 L448.3,603.2 L448.7,600.4 L449.0,595.5 L449.4,588.5 L449.7,579.9 L450.1,570.6 L450.4,561.5 L450.8,553.9 L451.1,548.7 L451.5,546.7 L451.8,548.1 L452.2,549.6 L452.5,550.9 L452.9,552.2 L453.2,553.4 L453.6,554.5 L453.9,555.5 L454.3,556.4 L454.6,557.3 L455.0,558.1 L455.3,558.9 L455.7,559.6 L456.0,560.3 L456.4,560.9 L456.7,561.5 L457.1,562.1 L457.4,562.6 L457.8,563.0 L458.1,563.5 L458.5,563.9 L458.8,564.3 L459.2,564.6 L459.5,565.0 L459.9,565.3 L460.2,565.6 L460.6,565.9 L460.9,566.1 L461.3,566.4 L461.6,566.6 L462.0,566.8 L462.3,567.0 L462.7,567.2 L463.0,567.4 L463.4,567.5 L463.7,567.7 L464.1,567.8 L464.4,568.0 L464.8,568.1 L465.1,568.2 L465.5,568.3 L465.8,568.4 L466.2,568.5 L466.5,568.6 L466.9,568.7 L467.2,568.8 L467.6,568.9 L467.9,569.0 L468.3,569.1" fill="none" stroke="#0f74bb" stroke-width="2.30" stroke-linejoin="round" stroke-linecap="butt"/>
<path d="M363.8,606.0 L364.2,605.9 L364.5,605.8 L364.9,605.8 L365.2,605.7 L365.6,605.6 L365.9,605.5 L366.3,605.5 L366.6,605.4 L367.0,605.4 L367.3,605.3 L367.7,605.3 L368.0,605.2 L368.4,605.2 L368.7,605.2 L369.1,605.1 L369.4,605.1 L369.8,604.3 L370.1,602.0 L370.5,597.3 L370.8,590.3 L371.2,581.4 L371.5,571.4 L371.9,561.6 L372.2,553.5 L372.6,548.1 L372.9,546.5 L373.3,548.0 L373.6,549.5 L374.0,550.9 L374.3,552.1 L374.7,553.3 L375.0,554.4 L375.4,555.4 L375.7,556.4 L376.1,557.3 L376.4,558.1 L376.8,558.9 L377.1,559.6 L377.5,560.3 L377.8,560.9 L378.2,561.5 L378.5,562.1 L378.9,562.6 L379.2,563.0 L379.6,563.5 L379.9,563.9 L380.3,564.3 L380.6,564.7 L381.0,565.0 L381.3,565.3 L381.7,565.6 L382.0,565.9 L382.4,566.1 L382.7,566.4 L383.1,566.6 L383.4,566.8 L383.8,567.0 L384.1,567.2 L384.5,567.4 L384.8,567.6 L385.2,567.7 L385.5,567.9 L385.9,568.0 L386.2,568.1 L386.6,568.3 L386.9,568.4 L387.3,568.5 L387.6,568.6 L388.0,568.7 L388.3,568.8 L388.7,568.9 L389.0,568.9 L389.4,569.0 L389.7,569.1 L390.1,569.2 L390.5,569.2 L390.8,569.3 L391.2,569.4 L391.5,569.4 L391.9,569.5 L392.2,569.5 L392.6,569.6 L392.9,569.6 L393.3,569.7 L393.6,569.7 L394.0,569.8 L394.3,569.8 L394.7,569.9 L395.0,570.0 L395.4,570.1 L395.7,570.4 L396.1,570.9 L396.4,571.6 L396.8,572.6 L397.1,574.1 L397.5,576.1 L397.8,578.7 L398.2,582.2 L398.5,586.5 L398.9,592.0 L399.2,598.7 L399.6,606.8 L399.9,616.6 L400.3,628.2 L400.6,627.5 L401.0,626.0 L401.3,624.6 L401.7,623.2 L402.0,622.0 L402.4,620.9 L402.7,619.8 L403.1,618.8 L403.4,617.8 L403.8,617.0 L404.1,616.2 L404.5,615.4 L404.8,614.7 L405.2,614.0 L405.5,613.4 L405.9,612.8 L406.2,612.3 L406.6,611.8 L406.9,611.3 L407.3,610.9 L407.6,610.4 L408.0,610.1 L408.3,609.7 L408.7,609.4 L409.0,609.0 L409.4,608.8 L409.7,608.5 L410.1,608.2 L410.4,608.0 L410.8,607.8 L411.1,607.6 L411.5,607.4 L411.8,607.2 L412.2,607.0 L412.5,606.9 L412.9,606.7 L413.2,606.6 L413.6,606.4 L413.9,606.3 L414.3,606.2 L414.6,606.1 L415.0,606.0 L415.3,605.9 L415.7,605.8 L416.1,605.8 L416.4,605.7 L416.8,605.6 L417.1,605.5 L417.5,605.5 L417.8,605.4 L418.2,605.4 L418.5,605.3 L418.9,605.3 L419.2,605.2 L419.6,605.2 L419.9,605.2 L420.3,605.1 L420.6,605.1 L421.0,604.3 L421.3,602.0 L421.7,597.4 L422.0,590.4 L422.4,581.4 L422.7,571.4 L423.1,561.7 L423.4,553.5 L423.8,548.2 L424.1,546.5 L424.5,548.0 L424.8,549.5 L425.2,550.9 L425.5,552.1 L425.9,553.3 L426.2,554.4 L426.6,555.4 L426.9,556.4 L427.3,557.3 L427.6,558.1 L428.0,558.9 L428.3,559.6 L428.7,560.3 L429.0,560.9 L429.4,561.5 L429.7,562.1 L430.1,562.6 L430.4,563.0 L430.8,563.5 L431.1,563.9 L431.5,564.3 L431.8,564.6 L432.2,565.0 L432.5,565.3 L432.9,565.6 L433.2,565.9 L433.6,566.1 L433.9,566.4 L434.3,566.6 L434.6,566.8 L435.0,567.0 L435.3,567.2 L435.7,567.4 L436.0,567.6 L436.4,567.7 L436.7,567.9 L437.1,568.0 L437.4,568.1 L437.8,568.2 L438.1,568.4 L438.5,568.5 L438.8,568.6 L439.2,568.7 L439.5,568.8 L439.9,568.9 L440.2,568.9 L440.6,569.0 L440.9,569.1 L441.3,569.2 L441.6,569.2 L442.0,569.3 L442.4,569.4 L442.7,569.4 L443.1,569.5 L443.4,569.5 L443.8,569.6 L444.1,569.6 L444.5,569.7 L444.8,569.7 L445.2,569.8 L445.5,569.8 L445.9,569.9 L446.2,570.0 L446.6,570.1 L446.9,570.4 L447.3,570.9 L447.6,571.6 L448.0,572.6 L448.3,574.1 L448.7,576.1 L449.0,578.7 L449.4,582.1 L449.7,586.5 L450.1,592.0 L450.4,598.7 L450.8,606.8 L451.1,616.5 L451.5,628.1 L451.8,627.5 L452.2,626.0 L452.5,624.6 L452.9,623.2 L453.2,622.0 L453.6,620.9 L453.9,619.8 L454.3,618.8 L454.6,617.9 L455.0,617.0 L455.3,616.2 L455.7,615.4 L456.0,614.7 L456.4,614.0 L456.7,613.4 L457.1,612.8 L457.4,612.3 L457.8,611.8 L458.1,611.3 L458.5,610.9 L458.8,610.4 L459.2,610.1 L459.5,609.7 L459.9,609.4 L460.2,609.1 L460.6,608.8 L460.9,608.5 L461.3,608.2 L461.6,608.0 L462.0,607.8 L462.3,607.6 L462.7,607.4 L463.0,607.2 L463.4,607.0 L463.7,606.9 L464.1,606.7 L464.4,606.6 L464.8,606.4 L465.1,606.3 L465.5,606.2 L465.8,606.1 L466.2,606.0 L466.5,605.9 L466.9,605.8 L467.2,605.8 L467.6,605.7 L467.9,605.6 L468.3,605.5" fill="none" stroke="#d9541e" stroke-width="2.20" stroke-linejoin="round" stroke-linecap="butt" stroke-dasharray="2.1 1.9"/>
</g>
<g clip-path="url(#pt4)">
<path d="M469.0,489.4 L470.0,486.5 L471.0,484.0 L472.0,481.7 L473.0,479.8 L474.0,478.2 L475.0,477.0 L476.0,476.3 L477.0,476.0 L478.0,476.1 L479.0,476.7 L480.0,477.7 L481.0,479.1 L482.0,480.9 L483.0,483.0 L484.0,485.5 L485.0,488.3 L486.0,491.3 L487.0,494.5 L488.0,497.9 L489.0,501.3 L490.0,504.9 L491.0,508.3 L492.0,511.8 L493.0,515.1 L494.0,518.2 L495.0,521.1 L496.0,523.8 L497.0,526.2 L498.0,528.2 L499.0,529.8 L500.0,531.0 L501.0,531.9 L502.0,532.3 L503.0,532.2 L504.0,531.9 L505.0,531.2 L506.0,530.2 L507.0,529.0 L508.0,527.4 L509.0,525.6 L510.0,523.5 L511.0,521.2 L512.0,518.7 L513.0,516.1 L514.0,513.3 L515.0,510.4 L516.0,507.5 L517.0,504.5 L518.0,501.4 L519.0,498.5 L520.0,495.6 L521.0,492.8 L522.0,490.1 L523.0,487.6 L524.0,485.2 L525.0,483.1 L526.0,481.2 L527.0,479.6 L528.0,478.3 L529.0,477.3 L530.0,476.5 L531.0,476.1 L532.0,476.0 L533.0,476.3 L534.0,477.1 L535.0,478.3 L536.0,479.9 L537.0,481.9 L538.0,484.2 L539.0,486.9 L540.0,489.9 L541.0,493.0 L542.0,496.4 L543.0,499.9 L544.0,503.4 L545.0,507.0 L546.0,510.5 L547.0,513.9 L548.0,517.2 L549.0,520.2 L550.0,523.0 L551.0,525.5 L552.0,527.7 L553.0,529.4 L554.0,530.8 L555.0,531.7 L556.0,532.2 L557.0,532.3 L558.0,532.0 L559.0,531.4 L560.0,530.5 L561.0,529.2 L562.0,527.7 L563.0,526.0 L564.0,523.9 L565.0,521.7 L566.0,519.3 L567.0,516.6 L568.0,513.9 L569.0,511.0 L570.0,508.0 L571.0,505.1 L572.0,502.0 L573.0,499.1 L574.0,496.1" fill="none" stroke="#fff" stroke-width="6.80" stroke-linejoin="round" stroke-linecap="round"/>
<path d="M469.0,482.5 L470.0,484.4 L471.0,486.6 L472.0,488.9 L473.0,491.4 L474.0,494.0 L475.0,496.7 L476.0,499.4 L477.0,502.2 L478.0,505.0 L479.0,507.6 L480.0,510.2 L481.0,512.7 L482.0,515.0 L483.0,517.1 L484.0,518.9 L485.0,520.6 L486.0,521.9 L487.0,522.9 L488.0,523.7 L489.0,524.1 L490.0,524.2 L491.0,524.0 L492.0,523.5 L493.0,522.8 L494.0,521.9 L495.0,520.6 L496.0,519.2 L497.0,517.5 L498.0,515.7 L499.0,513.7 L500.0,511.5 L501.0,509.2 L502.0,506.8 L503.0,504.3 L504.0,501.8 L505.0,499.3 L506.0,496.8 L507.0,494.3 L508.0,491.9 L509.0,489.6 L510.0,487.4 L511.0,485.4 L512.0,483.6 L513.0,481.9 L514.0,480.5 L515.0,479.2 L516.0,478.3 L517.0,477.6 L518.0,477.1 L519.0,476.9 L520.0,477.0 L521.0,477.4 L522.0,478.2 L523.0,479.3 L524.0,480.7 L525.0,482.3 L526.0,484.2 L527.0,486.4 L528.0,488.7 L529.0,491.2 L530.0,493.9 L531.0,496.6 L532.0,499.4 L533.0,502.2 L534.0,505.0 L535.0,507.8 L536.0,510.4 L537.0,512.9 L538.0,515.2 L539.0,517.3 L540.0,519.1 L541.0,520.7 L542.0,522.1 L543.0,523.1 L544.0,523.8 L545.0,524.1 L546.0,524.2 L547.0,523.9 L548.0,523.4 L549.0,522.5 L550.0,521.5 L551.0,520.1 L552.0,518.5 L553.0,516.7 L554.0,514.7 L555.0,512.5 L556.0,510.2 L557.0,507.8 L558.0,505.2 L559.0,502.6 L560.0,500.0 L561.0,497.4 L562.0,494.9 L563.0,492.4 L564.0,490.0 L565.0,487.7 L566.0,485.6 L567.0,483.6 L568.0,481.9 L569.0,480.4 L570.0,479.2 L571.0,478.2 L572.0,477.5 L573.0,477.0 L574.0,476.9" fill="none" stroke="#fff" stroke-width="5.00" stroke-linejoin="round" stroke-linecap="round"/>
<path d="M469.0,489.4 L470.0,486.5 L471.0,484.0 L472.0,481.7 L473.0,479.8 L474.0,478.2 L475.0,477.0 L476.0,476.3 L477.0,476.0 L478.0,476.1 L479.0,476.7 L480.0,477.7 L481.0,479.1 L482.0,480.9 L483.0,483.0 L484.0,485.5 L485.0,488.3 L486.0,491.3 L487.0,494.5 L488.0,497.9 L489.0,501.3 L490.0,504.9 L491.0,508.3 L492.0,511.8 L493.0,515.1 L494.0,518.2 L495.0,521.1 L496.0,523.8 L497.0,526.2 L498.0,528.2 L499.0,529.8 L500.0,531.0 L501.0,531.9 L502.0,532.3 L503.0,532.2 L504.0,531.9 L505.0,531.2 L506.0,530.2 L507.0,529.0 L508.0,527.4 L509.0,525.6 L510.0,523.5 L511.0,521.2 L512.0,518.7 L513.0,516.1 L514.0,513.3 L515.0,510.4 L516.0,507.5 L517.0,504.5 L518.0,501.4 L519.0,498.5 L520.0,495.6 L521.0,492.8 L522.0,490.1 L523.0,487.6 L524.0,485.2 L525.0,483.1 L526.0,481.2 L527.0,479.6 L528.0,478.3 L529.0,477.3 L530.0,476.5 L531.0,476.1 L532.0,476.0 L533.0,476.3 L534.0,477.1 L535.0,478.3 L536.0,479.9 L537.0,481.9 L538.0,484.2 L539.0,486.9 L540.0,489.9 L541.0,493.0 L542.0,496.4 L543.0,499.9 L544.0,503.4 L545.0,507.0 L546.0,510.5 L547.0,513.9 L548.0,517.2 L549.0,520.2 L550.0,523.0 L551.0,525.5 L552.0,527.7 L553.0,529.4 L554.0,530.8 L555.0,531.7 L556.0,532.2 L557.0,532.3 L558.0,532.0 L559.0,531.4 L560.0,530.5 L561.0,529.2 L562.0,527.7 L563.0,526.0 L564.0,523.9 L565.0,521.7 L566.0,519.3 L567.0,516.6 L568.0,513.9 L569.0,511.0 L570.0,508.0 L571.0,505.1 L572.0,502.0 L573.0,499.1 L574.0,496.1" fill="none" stroke="#edb120" stroke-width="4.00" stroke-linejoin="round" stroke-linecap="butt"/>
<path d="M469.0,489.4 L470.0,486.5 L471.0,484.0 L472.0,481.7 L473.0,479.8 L474.0,478.2 L475.0,477.0 L476.0,476.3 L477.0,476.0 L478.0,476.1 L479.0,476.7 L480.0,477.7 L481.0,479.1 L482.0,480.9 L483.0,483.0 L484.0,485.5 L485.0,488.3 L486.0,491.3 L487.0,494.5 L488.0,497.9 L489.0,501.3 L490.0,504.9 L491.0,508.3 L492.0,511.8 L493.0,515.1 L494.0,518.2 L495.0,521.1 L496.0,523.8 L497.0,526.2 L498.0,528.2 L499.0,529.8 L500.0,531.0 L501.0,531.9 L502.0,532.3 L503.0,532.2 L504.0,531.9 L505.0,531.2 L506.0,530.2 L507.0,529.0 L508.0,527.4 L509.0,525.6 L510.0,523.5 L511.0,521.2 L512.0,518.7 L513.0,516.1 L514.0,513.3 L515.0,510.4 L516.0,507.5 L517.0,504.5 L518.0,501.4 L519.0,498.5 L520.0,495.6 L521.0,492.8 L522.0,490.1 L523.0,487.6 L524.0,485.2 L525.0,483.1 L526.0,481.2 L527.0,479.6 L528.0,478.3 L529.0,477.3 L530.0,476.5 L531.0,476.1 L532.0,476.0 L533.0,476.3 L534.0,477.1 L535.0,478.3 L536.0,479.9 L537.0,481.9 L538.0,484.2 L539.0,486.9 L540.0,489.9 L541.0,493.0 L542.0,496.4 L543.0,499.9 L544.0,503.4 L545.0,507.0 L546.0,510.5 L547.0,513.9 L548.0,517.2 L549.0,520.2 L550.0,523.0 L551.0,525.5 L552.0,527.7 L553.0,529.4 L554.0,530.8 L555.0,531.7 L556.0,532.2 L557.0,532.3 L558.0,532.0 L559.0,531.4 L560.0,530.5 L561.0,529.2 L562.0,527.7 L563.0,526.0 L564.0,523.9 L565.0,521.7 L566.0,519.3 L567.0,516.6 L568.0,513.9 L569.0,511.0 L570.0,508.0 L571.0,505.1 L572.0,502.0 L573.0,499.1 L574.0,496.1" fill="none" stroke="#7e2f8e" stroke-width="4.00" stroke-linejoin="round" stroke-linecap="butt" stroke-dasharray="2.2 1.9"/>
<path d="M469.0,482.5 L470.0,484.4 L471.0,486.6 L472.0,488.9 L473.0,491.4 L474.0,494.0 L475.0,496.7 L476.0,499.4 L477.0,502.2 L478.0,505.0 L479.0,507.6 L480.0,510.2 L481.0,512.7 L482.0,515.0 L483.0,517.1 L484.0,518.9 L485.0,520.6 L486.0,521.9 L487.0,522.9 L488.0,523.7 L489.0,524.1 L490.0,524.2 L491.0,524.0 L492.0,523.5 L493.0,522.8 L494.0,521.9 L495.0,520.6 L496.0,519.2 L497.0,517.5 L498.0,515.7 L499.0,513.7 L500.0,511.5 L501.0,509.2 L502.0,506.8 L503.0,504.3 L504.0,501.8 L505.0,499.3 L506.0,496.8 L507.0,494.3 L508.0,491.9 L509.0,489.6 L510.0,487.4 L511.0,485.4 L512.0,483.6 L513.0,481.9 L514.0,480.5 L515.0,479.2 L516.0,478.3 L517.0,477.6 L518.0,477.1 L519.0,476.9 L520.0,477.0 L521.0,477.4 L522.0,478.2 L523.0,479.3 L524.0,480.7 L525.0,482.3 L526.0,484.2 L527.0,486.4 L528.0,488.7 L529.0,491.2 L530.0,493.9 L531.0,496.6 L532.0,499.4 L533.0,502.2 L534.0,505.0 L535.0,507.8 L536.0,510.4 L537.0,512.9 L538.0,515.2 L539.0,517.3 L540.0,519.1 L541.0,520.7 L542.0,522.1 L543.0,523.1 L544.0,523.8 L545.0,524.1 L546.0,524.2 L547.0,523.9 L548.0,523.4 L549.0,522.5 L550.0,521.5 L551.0,520.1 L552.0,518.5 L553.0,516.7 L554.0,514.7 L555.0,512.5 L556.0,510.2 L557.0,507.8 L558.0,505.2 L559.0,502.6 L560.0,500.0 L561.0,497.4 L562.0,494.9 L563.0,492.4 L564.0,490.0 L565.0,487.7 L566.0,485.6 L567.0,483.6 L568.0,481.9 L569.0,480.4 L570.0,479.2 L571.0,478.2 L572.0,477.5 L573.0,477.0 L574.0,476.9" fill="none" stroke="#0f74bb" stroke-width="2.00" stroke-linejoin="round" stroke-linecap="butt"/>
<path d="M469.0,482.5 L470.0,484.4 L471.0,486.6 L472.0,488.9 L473.0,491.4 L474.0,494.0 L475.0,496.7 L476.0,499.4 L477.0,502.2 L478.0,505.0 L479.0,507.6 L480.0,510.2 L481.0,512.7 L482.0,515.0 L483.0,517.1 L484.0,518.9 L485.0,520.6 L486.0,521.9 L487.0,522.9 L488.0,523.7 L489.0,524.1 L490.0,524.2 L491.0,524.0 L492.0,523.5 L493.0,522.8 L494.0,521.9 L495.0,520.6 L496.0,519.2 L497.0,517.5 L498.0,515.7 L499.0,513.7 L500.0,511.5 L501.0,509.2 L502.0,506.8 L503.0,504.3 L504.0,501.8 L505.0,499.3 L506.0,496.8 L507.0,494.3 L508.0,491.9 L509.0,489.6 L510.0,487.4 L511.0,485.4 L512.0,483.6 L513.0,481.9 L514.0,480.5 L515.0,479.2 L516.0,478.3 L517.0,477.6 L518.0,477.1 L519.0,476.9 L520.0,477.0 L521.0,477.4 L522.0,478.2 L523.0,479.3 L524.0,480.7 L525.0,482.3 L526.0,484.2 L527.0,486.4 L528.0,488.7 L529.0,491.2 L530.0,493.9 L531.0,496.6 L532.0,499.4 L533.0,502.2 L534.0,505.0 L535.0,507.8 L536.0,510.4 L537.0,512.9 L538.0,515.2 L539.0,517.3 L540.0,519.1 L541.0,520.7 L542.0,522.1 L543.0,523.1 L544.0,523.8 L545.0,524.1 L546.0,524.2 L547.0,523.9 L548.0,523.4 L549.0,522.5 L550.0,521.5 L551.0,520.1 L552.0,518.5 L553.0,516.7 L554.0,514.7 L555.0,512.5 L556.0,510.2 L557.0,507.8 L558.0,505.2 L559.0,502.6 L560.0,500.0 L561.0,497.4 L562.0,494.9 L563.0,492.4 L564.0,490.0 L565.0,487.7 L566.0,485.6 L567.0,483.6 L568.0,481.9 L569.0,480.4 L570.0,479.2 L571.0,478.2 L572.0,477.5 L573.0,477.0 L574.0,476.9" fill="none" stroke="#d9541e" stroke-width="2.20" stroke-linejoin="round" stroke-linecap="butt" stroke-dasharray="2.1 1.9"/>
</g>
<g clip-path="url(#pb4)">
<path d="M469.0,619.1 L469.4,618.2 L469.7,617.4 L470.1,616.6 L470.4,615.9 L470.8,615.2 L471.1,614.5 L471.4,613.9 L471.8,613.4 L472.1,612.8 L472.5,612.3 L472.9,611.9 L473.2,611.4 L473.6,611.0 L473.9,610.6 L474.2,610.3 L474.6,609.9 L474.9,609.6 L475.3,609.3 L475.6,609.0 L476.0,608.8 L476.4,608.5 L476.7,608.3 L477.1,608.1 L477.4,607.9 L477.8,607.7 L478.1,607.5 L478.4,607.3 L478.8,607.2 L479.1,607.0 L479.5,606.9 L479.9,606.8 L480.2,606.7 L480.6,606.5 L480.9,606.4 L481.2,606.3 L481.6,606.2 L481.9,606.2 L482.3,606.1 L482.6,606.0 L483.0,605.9 L483.4,605.9 L483.7,605.8 L484.1,605.7 L484.4,605.7 L484.8,605.6 L485.1,605.6 L485.4,605.5 L485.8,605.5 L486.1,605.4 L486.5,604.7 L486.9,602.6 L487.2,598.5 L487.6,592.4 L487.9,584.5 L488.2,575.6 L488.6,566.5 L488.9,558.5 L489.3,552.6 L489.6,549.5 L490.0,550.0 L490.4,551.4 L490.7,552.6 L491.1,553.8 L491.4,554.9 L491.8,556.0 L492.1,557.0 L492.4,557.9 L492.8,558.7 L493.1,559.5 L493.5,560.3 L493.9,561.0 L494.2,561.6 L494.6,562.3 L494.9,562.8 L495.2,563.4 L495.6,563.9 L495.9,564.3 L496.3,564.8 L496.6,565.2 L497.0,565.6 L497.4,566.0 L497.7,566.3 L498.1,566.6 L498.4,566.9 L498.8,567.2 L499.1,567.5 L499.4,567.7 L499.8,568.0 L500.1,568.2 L500.5,568.4 L500.9,568.6 L501.2,568.8 L501.6,569.0 L501.9,569.1 L502.2,569.3 L502.6,569.4 L502.9,569.6 L503.3,569.7 L503.6,569.8 L504.0,569.9 L504.4,570.1 L504.7,570.2 L505.1,570.3 L505.4,570.4 L505.8,570.4 L506.1,570.5 L506.4,570.6 L506.8,570.7 L507.1,570.8 L507.5,570.8 L507.9,570.9 L508.2,571.0 L508.6,571.0 L508.9,571.1 L509.2,571.1 L509.6,571.2 L509.9,571.2 L510.3,571.3 L510.6,571.3 L511.0,571.4 L511.4,571.4 L511.7,571.5 L512.0,571.5 L512.4,571.5 L512.8,571.6 L513.1,571.6 L513.5,571.6 L513.8,571.7 L514.1,571.7 L514.5,571.8 L514.9,571.8 L515.2,571.9 L515.5,572.0 L515.9,572.2 L516.2,572.6 L516.6,573.1 L517.0,573.9 L517.3,575.0 L517.6,576.5 L518.0,578.5 L518.4,581.0 L518.7,584.2 L519.0,588.2 L519.4,593.1 L519.8,599.0 L520.1,606.1 L520.5,614.5 L520.8,624.3 L521.1,627.1 L521.5,625.8 L521.9,624.5 L522.2,623.2 L522.5,622.1 L522.9,621.0 L523.2,620.0 L523.6,619.1 L524.0,618.2 L524.3,617.4 L524.6,616.6 L525.0,615.9 L525.4,615.2 L525.7,614.5 L526.0,613.9 L526.4,613.4 L526.8,612.8 L527.1,612.3 L527.5,611.9 L527.8,611.4 L528.1,611.0 L528.5,610.6 L528.9,610.3 L529.2,609.9 L529.5,609.6 L529.9,609.3 L530.2,609.0 L530.6,608.8 L531.0,608.5 L531.3,608.3 L531.6,608.1 L532.0,607.9 L532.4,607.7 L532.7,607.5 L533.0,607.3 L533.4,607.2 L533.8,607.0 L534.1,606.9 L534.5,606.8 L534.8,606.7 L535.1,606.5 L535.5,606.4 L535.9,606.3 L536.2,606.2 L536.5,606.2 L536.9,606.1 L537.2,606.0 L537.6,605.9 L538.0,605.9 L538.3,605.8 L538.6,605.7 L539.0,605.7 L539.4,605.6 L539.7,605.6 L540.0,605.5 L540.4,605.5 L540.8,605.4 L541.1,604.7 L541.5,602.6 L541.8,598.5 L542.1,592.4 L542.5,584.5 L542.9,575.6 L543.2,566.5 L543.5,558.5 L543.9,552.6 L544.2,549.5 L544.6,550.0 L545.0,551.4 L545.3,552.6 L545.6,553.8 L546.0,554.9 L546.4,556.0 L546.7,557.0 L547.0,557.9 L547.4,558.7 L547.8,559.5 L548.1,560.3 L548.5,561.0 L548.8,561.6 L549.1,562.3 L549.5,562.8 L549.9,563.4 L550.2,563.9 L550.5,564.3 L550.9,564.8 L551.2,565.2 L551.6,565.6 L552.0,566.0 L552.3,566.3 L552.6,566.6 L553.0,566.9 L553.4,567.2 L553.7,567.5 L554.0,567.7 L554.4,568.0 L554.8,568.2 L555.1,568.4 L555.5,568.6 L555.8,568.8 L556.1,569.0 L556.5,569.1 L556.9,569.3 L557.2,569.4 L557.5,569.6 L557.9,569.7 L558.2,569.8 L558.6,569.9 L559.0,570.1 L559.3,570.2 L559.6,570.3 L560.0,570.4 L560.4,570.4 L560.7,570.5 L561.0,570.6 L561.4,570.7 L561.8,570.8 L562.1,570.8 L562.5,570.9 L562.8,571.0 L563.1,571.0 L563.5,571.1 L563.9,571.1 L564.2,571.2 L564.5,571.2 L564.9,571.3 L565.2,571.3 L565.6,571.4 L566.0,571.4 L566.3,571.5 L566.6,571.5 L567.0,571.5 L567.4,571.6 L567.7,571.6 L568.0,571.6 L568.4,571.7 L568.8,571.7 L569.1,571.8 L569.5,571.8 L569.8,571.9 L570.1,572.0 L570.5,572.2 L570.9,572.6 L571.2,573.1 L571.5,573.9 L571.9,575.0 L572.2,576.5 L572.6,578.5 L573.0,581.0 L573.3,584.2 L573.6,588.2 L574.0,593.1" fill="none" stroke="#fff" stroke-width="5.80" stroke-linejoin="round" stroke-linecap="round"/>
<path d="M469.0,571.6 L469.4,572.1 L469.7,572.8 L470.1,574.0 L470.4,575.7 L470.8,578.3 L471.1,581.7 L471.4,586.3 L471.8,592.3 L472.1,599.9 L472.5,609.5 L472.9,621.3 L473.2,627.4 L473.6,626.0 L473.9,624.7 L474.2,623.4 L474.6,622.3 L474.9,621.2 L475.3,620.2 L475.6,619.2 L476.0,618.3 L476.4,617.5 L476.7,616.7 L477.1,616.0 L477.4,615.3 L477.8,614.6 L478.1,614.0 L478.4,613.4 L478.8,612.9 L479.1,612.4 L479.5,611.9 L479.9,611.4 L480.2,611.0 L480.6,610.6 L480.9,610.3 L481.2,609.9 L481.6,609.6 L481.9,609.3 L482.3,609.0 L482.6,608.7 L483.0,608.5 L483.4,608.2 L483.7,608.0 L484.1,607.8 L484.4,607.6 L484.8,607.4 L485.1,607.2 L485.4,607.1 L485.8,606.9 L486.1,606.8 L486.5,606.7 L486.9,606.5 L487.2,606.4 L487.6,606.3 L487.9,606.2 L488.2,606.1 L488.6,606.0 L488.9,605.9 L489.3,605.8 L489.6,605.8 L490.0,605.7 L490.4,605.6 L490.7,605.6 L491.1,605.5 L491.4,605.4 L491.8,605.4 L492.1,605.3 L492.4,605.3 L492.8,605.3 L493.1,605.2 L493.5,605.2 L493.9,605.1 L494.2,605.1 L494.6,604.5 L494.9,602.7 L495.2,598.9 L495.6,593.0 L495.9,585.2 L496.3,576.3 L496.6,567.1 L497.0,558.8 L497.4,552.5 L497.7,549.0 L498.1,549.0 L498.4,550.4 L498.8,551.7 L499.1,552.9 L499.4,554.0 L499.8,555.0 L500.1,556.0 L500.5,556.9 L500.9,557.8 L501.2,558.6 L501.6,559.4 L501.9,560.1 L502.2,560.8 L502.6,561.4 L502.9,562.0 L503.3,562.5 L503.6,563.0 L504.0,563.5 L504.4,564.0 L504.7,564.4 L505.1,564.8 L505.4,565.2 L505.8,565.5 L506.1,565.9 L506.4,566.2 L506.8,566.5 L507.1,566.7 L507.5,567.0 L507.9,567.2 L508.2,567.5 L508.6,567.7 L508.9,567.9 L509.2,568.1 L509.6,568.3 L509.9,568.4 L510.3,568.6 L510.6,568.7 L511.0,568.9 L511.4,569.0 L511.7,569.1 L512.0,569.3 L512.4,569.4 L512.8,569.5 L513.1,569.6 L513.5,569.7 L513.8,569.8 L514.1,569.9 L514.5,570.0 L514.9,570.0 L515.2,570.1 L515.5,570.2 L515.9,570.3 L516.2,570.3 L516.6,570.4 L517.0,570.4 L517.3,570.5 L517.6,570.6 L518.0,570.6 L518.4,570.7 L518.7,570.7 L519.0,570.7 L519.4,570.8 L519.8,570.8 L520.1,570.9 L520.5,570.9 L520.8,571.0 L521.1,571.0 L521.5,571.0 L521.9,571.1 L522.2,571.1 L522.5,571.1 L522.9,571.2 L523.2,571.2 L523.6,571.3 L524.0,571.3 L524.3,571.5 L524.6,571.9 L525.0,572.6 L525.4,573.6 L525.7,575.2 L526.0,577.5 L526.4,580.6 L526.8,584.9 L527.1,590.4 L527.5,597.6 L527.8,606.6 L528.1,617.7 L528.5,627.8 L528.9,626.4 L529.2,625.0 L529.5,623.8 L529.9,622.6 L530.2,621.5 L530.6,620.5 L531.0,619.5 L531.3,618.6 L531.6,617.7 L532.0,616.9 L532.4,616.2 L532.7,615.5 L533.0,614.8 L533.4,614.2 L533.8,613.6 L534.1,613.0 L534.5,612.5 L534.8,612.0 L535.1,611.6 L535.5,611.1 L535.9,610.7 L536.2,610.4 L536.5,610.0 L536.9,609.7 L537.2,609.4 L537.6,609.1 L538.0,608.8 L538.3,608.5 L538.6,608.3 L539.0,608.1 L539.4,607.9 L539.7,607.7 L540.0,607.5 L540.4,607.3 L540.8,607.1 L541.1,607.0 L541.5,606.8 L541.8,606.7 L542.1,606.6 L542.5,606.4 L542.9,606.3 L543.2,606.2 L543.5,606.1 L543.9,606.0 L544.2,605.9 L544.6,605.9 L545.0,605.8 L545.3,605.7 L545.6,605.6 L546.0,605.6 L546.4,605.5 L546.7,605.5 L547.0,605.4 L547.4,605.4 L547.8,605.3 L548.1,605.3 L548.5,605.2 L548.8,605.2 L549.1,605.1 L549.5,605.1 L549.9,604.8 L550.2,603.4 L550.5,600.2 L550.9,594.9 L551.2,587.6 L551.6,578.9 L552.0,569.7 L552.3,561.0 L552.6,554.0 L553.0,549.6 L553.4,548.6 L553.7,550.0 L554.0,551.3 L554.4,552.5 L554.8,553.7 L555.1,554.7 L555.5,555.7 L555.8,556.7 L556.1,557.6 L556.5,558.4 L556.9,559.2 L557.2,559.9 L557.5,560.6 L557.9,561.2 L558.2,561.8 L558.6,562.4 L559.0,562.9 L559.3,563.4 L559.6,563.8 L560.0,564.3 L560.4,564.7 L560.7,565.1 L561.0,565.4 L561.4,565.8 L561.8,566.1 L562.1,566.4 L562.5,566.7 L562.8,566.9 L563.1,567.2 L563.5,567.4 L563.9,567.6 L564.2,567.8 L564.5,568.0 L564.9,568.2 L565.2,568.4 L565.6,568.5 L566.0,568.7 L566.3,568.8 L566.6,569.0 L567.0,569.1 L567.4,569.2 L567.7,569.4 L568.0,569.5 L568.4,569.6 L568.8,569.7 L569.1,569.8 L569.5,569.8 L569.8,569.9 L570.1,570.0 L570.5,570.1 L570.9,570.2 L571.2,570.2 L571.5,570.3 L571.9,570.4 L572.2,570.4 L572.6,570.5 L573.0,570.5 L573.3,570.6 L573.6,570.6 L574.0,570.7" fill="none" stroke="#fff" stroke-width="5.60" stroke-linejoin="round" stroke-linecap="round"/>
<path d="M469.0,619.1 L469.4,618.2 L469.7,617.4 L470.1,616.6 L470.4,615.9 L470.8,615.2 L471.1,614.5 L471.4,613.9 L471.8,613.4 L472.1,612.8 L472.5,612.3 L472.9,611.9 L473.2,611.4 L473.6,611.0 L473.9,610.6 L474.2,610.3 L474.6,609.9 L474.9,609.6 L475.3,609.3 L475.6,609.0 L476.0,608.8 L476.4,608.5 L476.7,608.3 L477.1,608.1 L477.4,607.9 L477.8,607.7 L478.1,607.5 L478.4,607.3 L478.8,607.2 L479.1,607.0 L479.5,606.9 L479.9,606.8 L480.2,606.7 L480.6,606.5 L480.9,606.4 L481.2,606.3 L481.6,606.2 L481.9,606.2 L482.3,606.1 L482.6,606.0 L483.0,605.9 L483.4,605.9 L483.7,605.8 L484.1,605.7 L484.4,605.7 L484.8,605.6 L485.1,605.6 L485.4,605.5 L485.8,605.5 L486.1,605.4 L486.5,604.7 L486.9,602.6 L487.2,598.5 L487.6,592.4 L487.9,584.5 L488.2,575.6 L488.6,566.5 L488.9,558.5 L489.3,552.6 L489.6,549.5 L490.0,550.0 L490.4,551.4 L490.7,552.6 L491.1,553.8 L491.4,554.9 L491.8,556.0 L492.1,557.0 L492.4,557.9 L492.8,558.7 L493.1,559.5 L493.5,560.3 L493.9,561.0 L494.2,561.6 L494.6,562.3 L494.9,562.8 L495.2,563.4 L495.6,563.9 L495.9,564.3 L496.3,564.8 L496.6,565.2 L497.0,565.6 L497.4,566.0 L497.7,566.3 L498.1,566.6 L498.4,566.9 L498.8,567.2 L499.1,567.5 L499.4,567.7 L499.8,568.0 L500.1,568.2 L500.5,568.4 L500.9,568.6 L501.2,568.8 L501.6,569.0 L501.9,569.1 L502.2,569.3 L502.6,569.4 L502.9,569.6 L503.3,569.7 L503.6,569.8 L504.0,569.9 L504.4,570.1 L504.7,570.2 L505.1,570.3 L505.4,570.4 L505.8,570.4 L506.1,570.5 L506.4,570.6 L506.8,570.7 L507.1,570.8 L507.5,570.8 L507.9,570.9 L508.2,571.0 L508.6,571.0 L508.9,571.1 L509.2,571.1 L509.6,571.2 L509.9,571.2 L510.3,571.3 L510.6,571.3 L511.0,571.4 L511.4,571.4 L511.7,571.5 L512.0,571.5 L512.4,571.5 L512.8,571.6 L513.1,571.6 L513.5,571.6 L513.8,571.7 L514.1,571.7 L514.5,571.8 L514.9,571.8 L515.2,571.9 L515.5,572.0 L515.9,572.2 L516.2,572.6 L516.6,573.1 L517.0,573.9 L517.3,575.0 L517.6,576.5 L518.0,578.5 L518.4,581.0 L518.7,584.2 L519.0,588.2 L519.4,593.1 L519.8,599.0 L520.1,606.1 L520.5,614.5 L520.8,624.3 L521.1,627.1 L521.5,625.8 L521.9,624.5 L522.2,623.2 L522.5,622.1 L522.9,621.0 L523.2,620.0 L523.6,619.1 L524.0,618.2 L524.3,617.4 L524.6,616.6 L525.0,615.9 L525.4,615.2 L525.7,614.5 L526.0,613.9 L526.4,613.4 L526.8,612.8 L527.1,612.3 L527.5,611.9 L527.8,611.4 L528.1,611.0 L528.5,610.6 L528.9,610.3 L529.2,609.9 L529.5,609.6 L529.9,609.3 L530.2,609.0 L530.6,608.8 L531.0,608.5 L531.3,608.3 L531.6,608.1 L532.0,607.9 L532.4,607.7 L532.7,607.5 L533.0,607.3 L533.4,607.2 L533.8,607.0 L534.1,606.9 L534.5,606.8 L534.8,606.7 L535.1,606.5 L535.5,606.4 L535.9,606.3 L536.2,606.2 L536.5,606.2 L536.9,606.1 L537.2,606.0 L537.6,605.9 L538.0,605.9 L538.3,605.8 L538.6,605.7 L539.0,605.7 L539.4,605.6 L539.7,605.6 L540.0,605.5 L540.4,605.5 L540.8,605.4 L541.1,604.7 L541.5,602.6 L541.8,598.5 L542.1,592.4 L542.5,584.5 L542.9,575.6 L543.2,566.5 L543.5,558.5 L543.9,552.6 L544.2,549.5 L544.6,550.0 L545.0,551.4 L545.3,552.6 L545.6,553.8 L546.0,554.9 L546.4,556.0 L546.7,557.0 L547.0,557.9 L547.4,558.7 L547.8,559.5 L548.1,560.3 L548.5,561.0 L548.8,561.6 L549.1,562.3 L549.5,562.8 L549.9,563.4 L550.2,563.9 L550.5,564.3 L550.9,564.8 L551.2,565.2 L551.6,565.6 L552.0,566.0 L552.3,566.3 L552.6,566.6 L553.0,566.9 L553.4,567.2 L553.7,567.5 L554.0,567.7 L554.4,568.0 L554.8,568.2 L555.1,568.4 L555.5,568.6 L555.8,568.8 L556.1,569.0 L556.5,569.1 L556.9,569.3 L557.2,569.4 L557.5,569.6 L557.9,569.7 L558.2,569.8 L558.6,569.9 L559.0,570.1 L559.3,570.2 L559.6,570.3 L560.0,570.4 L560.4,570.4 L560.7,570.5 L561.0,570.6 L561.4,570.7 L561.8,570.8 L562.1,570.8 L562.5,570.9 L562.8,571.0 L563.1,571.0 L563.5,571.1 L563.9,571.1 L564.2,571.2 L564.5,571.2 L564.9,571.3 L565.2,571.3 L565.6,571.4 L566.0,571.4 L566.3,571.5 L566.6,571.5 L567.0,571.5 L567.4,571.6 L567.7,571.6 L568.0,571.6 L568.4,571.7 L568.8,571.7 L569.1,571.8 L569.5,571.8 L569.8,571.9 L570.1,572.0 L570.5,572.2 L570.9,572.6 L571.2,573.1 L571.5,573.9 L571.9,575.0 L572.2,576.5 L572.6,578.5 L573.0,581.0 L573.3,584.2 L573.6,588.2 L574.0,593.1" fill="none" stroke="#0f74bb" stroke-width="2.30" stroke-linejoin="round" stroke-linecap="butt"/>
<path d="M469.0,571.6 L469.4,572.1 L469.7,572.8 L470.1,574.0 L470.4,575.7 L470.8,578.3 L471.1,581.7 L471.4,586.3 L471.8,592.3 L472.1,599.9 L472.5,609.5 L472.9,621.3 L473.2,627.4 L473.6,626.0 L473.9,624.7 L474.2,623.4 L474.6,622.3 L474.9,621.2 L475.3,620.2 L475.6,619.2 L476.0,618.3 L476.4,617.5 L476.7,616.7 L477.1,616.0 L477.4,615.3 L477.8,614.6 L478.1,614.0 L478.4,613.4 L478.8,612.9 L479.1,612.4 L479.5,611.9 L479.9,611.4 L480.2,611.0 L480.6,610.6 L480.9,610.3 L481.2,609.9 L481.6,609.6 L481.9,609.3 L482.3,609.0 L482.6,608.7 L483.0,608.5 L483.4,608.2 L483.7,608.0 L484.1,607.8 L484.4,607.6 L484.8,607.4 L485.1,607.2 L485.4,607.1 L485.8,606.9 L486.1,606.8 L486.5,606.7 L486.9,606.5 L487.2,606.4 L487.6,606.3 L487.9,606.2 L488.2,606.1 L488.6,606.0 L488.9,605.9 L489.3,605.8 L489.6,605.8 L490.0,605.7 L490.4,605.6 L490.7,605.6 L491.1,605.5 L491.4,605.4 L491.8,605.4 L492.1,605.3 L492.4,605.3 L492.8,605.3 L493.1,605.2 L493.5,605.2 L493.9,605.1 L494.2,605.1 L494.6,604.5 L494.9,602.7 L495.2,598.9 L495.6,593.0 L495.9,585.2 L496.3,576.3 L496.6,567.1 L497.0,558.8 L497.4,552.5 L497.7,549.0 L498.1,549.0 L498.4,550.4 L498.8,551.7 L499.1,552.9 L499.4,554.0 L499.8,555.0 L500.1,556.0 L500.5,556.9 L500.9,557.8 L501.2,558.6 L501.6,559.4 L501.9,560.1 L502.2,560.8 L502.6,561.4 L502.9,562.0 L503.3,562.5 L503.6,563.0 L504.0,563.5 L504.4,564.0 L504.7,564.4 L505.1,564.8 L505.4,565.2 L505.8,565.5 L506.1,565.9 L506.4,566.2 L506.8,566.5 L507.1,566.7 L507.5,567.0 L507.9,567.2 L508.2,567.5 L508.6,567.7 L508.9,567.9 L509.2,568.1 L509.6,568.3 L509.9,568.4 L510.3,568.6 L510.6,568.7 L511.0,568.9 L511.4,569.0 L511.7,569.1 L512.0,569.3 L512.4,569.4 L512.8,569.5 L513.1,569.6 L513.5,569.7 L513.8,569.8 L514.1,569.9 L514.5,570.0 L514.9,570.0 L515.2,570.1 L515.5,570.2 L515.9,570.3 L516.2,570.3 L516.6,570.4 L517.0,570.4 L517.3,570.5 L517.6,570.6 L518.0,570.6 L518.4,570.7 L518.7,570.7 L519.0,570.7 L519.4,570.8 L519.8,570.8 L520.1,570.9 L520.5,570.9 L520.8,571.0 L521.1,571.0 L521.5,571.0 L521.9,571.1 L522.2,571.1 L522.5,571.1 L522.9,571.2 L523.2,571.2 L523.6,571.3 L524.0,571.3 L524.3,571.5 L524.6,571.9 L525.0,572.6 L525.4,573.6 L525.7,575.2 L526.0,577.5 L526.4,580.6 L526.8,584.9 L527.1,590.4 L527.5,597.6 L527.8,606.6 L528.1,617.7 L528.5,627.8 L528.9,626.4 L529.2,625.0 L529.5,623.8 L529.9,622.6 L530.2,621.5 L530.6,620.5 L531.0,619.5 L531.3,618.6 L531.6,617.7 L532.0,616.9 L532.4,616.2 L532.7,615.5 L533.0,614.8 L533.4,614.2 L533.8,613.6 L534.1,613.0 L534.5,612.5 L534.8,612.0 L535.1,611.6 L535.5,611.1 L535.9,610.7 L536.2,610.4 L536.5,610.0 L536.9,609.7 L537.2,609.4 L537.6,609.1 L538.0,608.8 L538.3,608.5 L538.6,608.3 L539.0,608.1 L539.4,607.9 L539.7,607.7 L540.0,607.5 L540.4,607.3 L540.8,607.1 L541.1,607.0 L541.5,606.8 L541.8,606.7 L542.1,606.6 L542.5,606.4 L542.9,606.3 L543.2,606.2 L543.5,606.1 L543.9,606.0 L544.2,605.9 L544.6,605.9 L545.0,605.8 L545.3,605.7 L545.6,605.6 L546.0,605.6 L546.4,605.5 L546.7,605.5 L547.0,605.4 L547.4,605.4 L547.8,605.3 L548.1,605.3 L548.5,605.2 L548.8,605.2 L549.1,605.1 L549.5,605.1 L549.9,604.8 L550.2,603.4 L550.5,600.2 L550.9,594.9 L551.2,587.6 L551.6,578.9 L552.0,569.7 L552.3,561.0 L552.6,554.0 L553.0,549.6 L553.4,548.6 L553.7,550.0 L554.0,551.3 L554.4,552.5 L554.8,553.7 L555.1,554.7 L555.5,555.7 L555.8,556.7 L556.1,557.6 L556.5,558.4 L556.9,559.2 L557.2,559.9 L557.5,560.6 L557.9,561.2 L558.2,561.8 L558.6,562.4 L559.0,562.9 L559.3,563.4 L559.6,563.8 L560.0,564.3 L560.4,564.7 L560.7,565.1 L561.0,565.4 L561.4,565.8 L561.8,566.1 L562.1,566.4 L562.5,566.7 L562.8,566.9 L563.1,567.2 L563.5,567.4 L563.9,567.6 L564.2,567.8 L564.5,568.0 L564.9,568.2 L565.2,568.4 L565.6,568.5 L566.0,568.7 L566.3,568.8 L566.6,569.0 L567.0,569.1 L567.4,569.2 L567.7,569.4 L568.0,569.5 L568.4,569.6 L568.8,569.7 L569.1,569.8 L569.5,569.8 L569.8,569.9 L570.1,570.0 L570.5,570.1 L570.9,570.2 L571.2,570.2 L571.5,570.3 L571.9,570.4 L572.2,570.4 L572.6,570.5 L573.0,570.5 L573.3,570.6 L573.6,570.6 L574.0,570.7" fill="none" stroke="#d9541e" stroke-width="2.20" stroke-linejoin="round" stroke-linecap="butt" stroke-dasharray="2.1 1.9"/>
</g>
<g clip-path="url(#pt5)">
<path d="M574.4,532.2 L575.4,533.3 L576.4,533.8 L577.4,533.9 L578.4,533.6 L579.4,533.0 L580.4,532.2 L581.4,531.0 L582.4,529.6 L583.4,527.9 L584.4,525.9 L585.4,523.7 L586.4,521.4 L587.4,518.8 L588.4,516.1 L589.4,513.2 L590.4,510.2 L591.4,507.2 L592.4,504.0 L593.4,500.9 L594.4,497.8 L595.4,494.7 L596.4,491.7 L597.4,488.7 L598.4,485.9 L599.4,483.3 L600.4,480.8 L601.4,478.5 L602.4,476.4 L603.4,474.6 L604.4,473.0 L605.4,471.7 L606.4,470.6 L607.4,469.9 L608.4,469.4 L609.4,469.3 L610.4,469.6 L611.4,470.3 L612.4,471.6 L613.4,473.3 L614.4,475.5 L615.4,478.0 L616.4,481.0 L617.4,484.2 L618.4,487.7 L619.4,491.5 L620.4,495.4 L621.4,499.4 L622.4,503.4 L623.4,507.4 L624.4,511.3 L625.4,515.1 L626.4,518.6 L627.5,521.9 L628.5,524.9 L629.5,527.5 L630.5,529.7 L631.5,531.4 L632.5,532.8 L633.5,533.6 L634.5,533.9 L635.5,533.8 L636.5,533.4 L637.5,532.6 L638.5,531.6 L639.5,530.3 L640.5,528.7 L641.5,526.8 L642.5,524.7 L643.5,522.4 L644.5,519.8 L645.5,517.1 L646.5,514.2 L647.5,511.2 L648.5,508.2 L649.5,505.0 L650.5,501.8 L651.5,498.7 L652.5,495.5 L653.5,492.4 L654.5,489.4 L655.5,486.5 L656.5,483.8 L657.5,481.2 L658.5,478.9 L659.5,476.7 L660.5,474.8 L661.5,473.2 L662.5,471.8 L663.5,470.7 L664.5,469.9 L665.5,469.5 L666.5,469.3 L667.5,469.5 L668.5,470.3 L669.5,471.5 L670.5,473.1 L671.5,475.2 L672.5,477.7 L673.5,480.6 L674.5,483.8 L675.5,487.2 L676.5,490.9 L677.5,494.7 L678.5,498.7 L679.5,502.6" fill="none" stroke="#fff" stroke-width="7.00" stroke-linejoin="round" stroke-linecap="round"/>
<path d="M574.4,532.2 L575.4,533.3 L576.4,533.8 L577.4,533.9 L578.4,533.6 L579.4,533.0 L580.4,532.2 L581.4,531.0 L582.4,529.6 L583.4,527.9 L584.4,525.9 L585.4,523.7 L586.4,521.4 L587.4,518.8 L588.4,516.1 L589.4,513.2 L590.4,510.2 L591.4,507.2 L592.4,504.0 L593.4,500.9 L594.4,497.8 L595.4,494.7 L596.4,491.7 L597.4,488.7 L598.4,485.9 L599.4,483.3 L600.4,480.8 L601.4,478.5 L602.4,476.4 L603.4,474.6 L604.4,473.0 L605.4,471.7 L606.4,470.6 L607.4,469.9 L608.4,469.4 L609.4,469.3 L610.4,469.6 L611.4,470.3 L612.4,471.6 L613.4,473.3 L614.4,475.5 L615.4,478.0 L616.4,481.0 L617.4,484.2 L618.4,487.7 L619.4,491.5 L620.4,495.4 L621.4,499.4 L622.4,503.4 L623.4,507.4 L624.4,511.3 L625.4,515.1 L626.4,518.6 L627.5,521.9 L628.5,524.9 L629.5,527.5 L630.5,529.7 L631.5,531.4 L632.5,532.8 L633.5,533.6 L634.5,533.9 L635.5,533.8 L636.5,533.4 L637.5,532.6 L638.5,531.6 L639.5,530.3 L640.5,528.7 L641.5,526.8 L642.5,524.7 L643.5,522.4 L644.5,519.8 L645.5,517.1 L646.5,514.2 L647.5,511.2 L648.5,508.2 L649.5,505.0 L650.5,501.8 L651.5,498.7 L652.5,495.5 L653.5,492.4 L654.5,489.4 L655.5,486.5 L656.5,483.8 L657.5,481.2 L658.5,478.9 L659.5,476.7 L660.5,474.8 L661.5,473.2 L662.5,471.8 L663.5,470.7 L664.5,469.9 L665.5,469.5 L666.5,469.3 L667.5,469.5 L668.5,470.3 L669.5,471.5 L670.5,473.1 L671.5,475.2 L672.5,477.7 L673.5,480.6 L674.5,483.8 L675.5,487.2 L676.5,490.9 L677.5,494.7 L678.5,498.7 L679.5,502.6" fill="none" stroke="#edb120" stroke-width="4.20" stroke-linejoin="round" stroke-linecap="butt"/>
<path d="M574.4,532.2 L575.4,533.3 L576.4,533.8 L577.4,533.9 L578.4,533.6 L579.4,533.0 L580.4,532.2 L581.4,531.0 L582.4,529.6 L583.4,527.9 L584.4,525.9 L585.4,523.7 L586.4,521.4 L587.4,518.8 L588.4,516.1 L589.4,513.2 L590.4,510.2 L591.4,507.2 L592.4,504.0 L593.4,500.9 L594.4,497.8 L595.4,494.7 L596.4,491.7 L597.4,488.7 L598.4,485.9 L599.4,483.3 L600.4,480.8 L601.4,478.5 L602.4,476.4 L603.4,474.6 L604.4,473.0 L605.4,471.7 L606.4,470.6 L607.4,469.9 L608.4,469.4 L609.4,469.3 L610.4,469.6 L611.4,470.3 L612.4,471.6 L613.4,473.3 L614.4,475.5 L615.4,478.0 L616.4,481.0 L617.4,484.2 L618.4,487.7 L619.4,491.5 L620.4,495.4 L621.4,499.4 L622.4,503.4 L623.4,507.4 L624.4,511.3 L625.4,515.1 L626.4,518.6 L627.5,521.9 L628.5,524.9 L629.5,527.5 L630.5,529.7 L631.5,531.4 L632.5,532.8 L633.5,533.6 L634.5,533.9 L635.5,533.8 L636.5,533.4 L637.5,532.6 L638.5,531.6 L639.5,530.3 L640.5,528.7 L641.5,526.8 L642.5,524.7 L643.5,522.4 L644.5,519.8 L645.5,517.1 L646.5,514.2 L647.5,511.2 L648.5,508.2 L649.5,505.0 L650.5,501.8 L651.5,498.7 L652.5,495.5 L653.5,492.4 L654.5,489.4 L655.5,486.5 L656.5,483.8 L657.5,481.2 L658.5,478.9 L659.5,476.7 L660.5,474.8 L661.5,473.2 L662.5,471.8 L663.5,470.7 L664.5,469.9 L665.5,469.5 L666.5,469.3 L667.5,469.5 L668.5,470.3 L669.5,471.5 L670.5,473.1 L671.5,475.2 L672.5,477.7 L673.5,480.6 L674.5,483.8 L675.5,487.2 L676.5,490.9 L677.5,494.7 L678.5,498.7 L679.5,502.6" fill="none" stroke="#7e2f8e" stroke-width="4.20" stroke-linejoin="round" stroke-linecap="butt" stroke-dasharray="2.2 1.9"/>
<path d="M574.4,532.2 L575.4,533.3 L576.4,533.8 L577.4,533.9 L578.4,533.6 L579.4,533.0 L580.4,532.2 L581.4,531.0 L582.4,529.6 L583.4,527.9 L584.4,525.9 L585.4,523.7 L586.4,521.4 L587.4,518.8 L588.4,516.1 L589.4,513.2 L590.4,510.2 L591.4,507.2 L592.4,504.0 L593.4,500.9 L594.4,497.8 L595.4,494.7 L596.4,491.7 L597.4,488.7 L598.4,485.9 L599.4,483.3 L600.4,480.8 L601.4,478.5 L602.4,476.4 L603.4,474.6 L604.4,473.0 L605.4,471.7 L606.4,470.6 L607.4,469.9 L608.4,469.4 L609.4,469.3 L610.4,469.6 L611.4,470.3 L612.4,471.6 L613.4,473.3 L614.4,475.5 L615.4,478.0 L616.4,481.0 L617.4,484.2 L618.4,487.7 L619.4,491.5 L620.4,495.4 L621.4,499.4 L622.4,503.4 L623.4,507.4 L624.4,511.3 L625.4,515.1 L626.4,518.6 L627.5,521.9 L628.5,524.9 L629.5,527.5 L630.5,529.7 L631.5,531.4 L632.5,532.8 L633.5,533.6 L634.5,533.9 L635.5,533.8 L636.5,533.4 L637.5,532.6 L638.5,531.6 L639.5,530.3 L640.5,528.7 L641.5,526.8 L642.5,524.7 L643.5,522.4 L644.5,519.8 L645.5,517.1 L646.5,514.2 L647.5,511.2 L648.5,508.2 L649.5,505.0 L650.5,501.8 L651.5,498.7 L652.5,495.5 L653.5,492.4 L654.5,489.4 L655.5,486.5 L656.5,483.8 L657.5,481.2 L658.5,478.9 L659.5,476.7 L660.5,474.8 L661.5,473.2 L662.5,471.8 L663.5,470.7 L664.5,469.9 L665.5,469.5 L666.5,469.3 L667.5,469.5 L668.5,470.3 L669.5,471.5 L670.5,473.1 L671.5,475.2 L672.5,477.7 L673.5,480.6 L674.5,483.8 L675.5,487.2 L676.5,490.9 L677.5,494.7 L678.5,498.7 L679.5,502.6" fill="none" stroke="#0f74bb" stroke-width="2.00" stroke-linejoin="round" stroke-linecap="butt"/>
<path d="M574.4,532.2 L575.4,533.3 L576.4,533.8 L577.4,533.9 L578.4,533.6 L579.4,533.0 L580.4,532.2 L581.4,531.0 L582.4,529.6 L583.4,527.9 L584.4,525.9 L585.4,523.7 L586.4,521.4 L587.4,518.8 L588.4,516.1 L589.4,513.2 L590.4,510.2 L591.4,507.2 L592.4,504.0 L593.4,500.9 L594.4,497.8 L595.4,494.7 L596.4,491.7 L597.4,488.7 L598.4,485.9 L599.4,483.3 L600.4,480.8 L601.4,478.5 L602.4,476.4 L603.4,474.6 L604.4,473.0 L605.4,471.7 L606.4,470.6 L607.4,469.9 L608.4,469.4 L609.4,469.3 L610.4,469.6 L611.4,470.3 L612.4,471.6 L613.4,473.3 L614.4,475.5 L615.4,478.0 L616.4,481.0 L617.4,484.2 L618.4,487.7 L619.4,491.5 L620.4,495.4 L621.4,499.4 L622.4,503.4 L623.4,507.4 L624.4,511.3 L625.4,515.1 L626.4,518.6 L627.5,521.9 L628.5,524.9 L629.5,527.5 L630.5,529.7 L631.5,531.4 L632.5,532.8 L633.5,533.6 L634.5,533.9 L635.5,533.8 L636.5,533.4 L637.5,532.6 L638.5,531.6 L639.5,530.3 L640.5,528.7 L641.5,526.8 L642.5,524.7 L643.5,522.4 L644.5,519.8 L645.5,517.1 L646.5,514.2 L647.5,511.2 L648.5,508.2 L649.5,505.0 L650.5,501.8 L651.5,498.7 L652.5,495.5 L653.5,492.4 L654.5,489.4 L655.5,486.5 L656.5,483.8 L657.5,481.2 L658.5,478.9 L659.5,476.7 L660.5,474.8 L661.5,473.2 L662.5,471.8 L663.5,470.7 L664.5,469.9 L665.5,469.5 L666.5,469.3 L667.5,469.5 L668.5,470.3 L669.5,471.5 L670.5,473.1 L671.5,475.2 L672.5,477.7 L673.5,480.6 L674.5,483.8 L675.5,487.2 L676.5,490.9 L677.5,494.7 L678.5,498.7 L679.5,502.6" fill="none" stroke="#d9541e" stroke-width="2.20" stroke-linejoin="round" stroke-linecap="butt" stroke-dasharray="2.1 1.9"/>
</g>
<g clip-path="url(#pb5)">
<path d="M574.4,553.3 L574.8,554.4 L575.1,555.4 L575.5,556.3 L575.8,557.2 L576.2,558.0 L576.5,558.8 L576.9,559.5 L577.2,560.2 L577.6,560.8 L577.9,561.4 L578.3,562.0 L578.6,562.5 L579.0,563.0 L579.3,563.4 L579.7,563.9 L580.0,564.3 L580.4,564.7 L580.7,565.0 L581.1,565.4 L581.4,565.7 L581.8,566.0 L582.1,566.3 L582.5,566.6 L582.8,566.8 L583.2,567.1 L583.5,567.3 L583.9,567.5 L584.2,567.7 L584.6,567.9 L584.9,568.1 L585.3,568.2 L585.6,568.4 L586.0,568.5 L586.3,568.7 L586.7,568.8 L587.0,568.9 L587.4,569.1 L587.7,569.2 L588.1,569.3 L588.4,569.4 L588.8,569.5 L589.1,569.6 L589.5,569.7 L589.8,569.8 L590.2,569.8 L590.5,569.9 L590.9,570.0 L591.2,570.1 L591.6,570.1 L591.9,570.2 L592.3,570.2 L592.6,570.3 L593.0,570.4 L593.3,570.4 L593.7,570.5 L594.0,570.5 L594.4,570.6 L594.7,570.6 L595.1,570.6 L595.4,570.7 L595.8,570.7 L596.1,570.8 L596.5,570.8 L596.8,570.8 L597.2,570.9 L597.5,570.9 L597.9,570.9 L598.2,571.0 L598.6,571.1 L598.9,571.2 L599.3,571.4 L599.6,571.7 L600.0,572.2 L600.3,572.9 L600.7,573.9 L601.0,575.3 L601.4,577.2 L601.7,579.5 L602.1,582.6 L602.4,586.3 L602.8,591.0 L603.1,596.6 L603.5,603.3 L603.8,611.3 L604.2,620.7 L604.5,627.1 L604.9,625.7 L605.2,624.5 L605.6,623.3 L605.9,622.1 L606.3,621.1 L606.6,620.1 L607.0,619.1 L607.3,618.2 L607.7,617.4 L608.0,616.6 L608.4,615.9 L608.7,615.2 L609.1,614.5 L609.4,613.9 L609.8,613.3 L610.1,612.8 L610.5,612.3 L610.8,611.8 L611.2,611.4 L611.5,610.9 L611.9,610.5 L612.2,610.2 L612.6,609.8 L612.9,609.5 L613.3,609.2 L613.6,608.9 L614.0,608.6 L614.3,608.3 L614.7,608.1 L615.0,607.9 L615.4,607.6 L615.7,607.4 L616.1,607.3 L616.4,607.1 L616.8,606.9 L617.1,606.7 L617.5,606.6 L617.8,606.5 L618.2,606.3 L618.5,606.2 L618.9,606.1 L619.2,606.0 L619.6,605.9 L619.9,605.8 L620.3,605.7 L620.6,605.6 L621.0,605.5 L621.3,605.4 L621.7,605.4 L622.0,605.3 L622.4,605.2 L622.7,605.2 L623.1,605.1 L623.4,605.1 L623.8,605.0 L624.1,605.0 L624.5,604.9 L624.8,604.9 L625.2,604.8 L625.5,604.8 L625.9,604.8 L626.2,604.7 L626.6,604.5 L627.0,603.3 L627.3,600.4 L627.7,595.4 L628.0,588.4 L628.4,579.9 L628.7,570.8 L629.1,562.0 L629.4,554.8 L629.8,550.0 L630.1,548.4 L630.5,549.8 L630.8,551.0 L631.2,552.2 L631.5,553.4 L631.9,554.4 L632.2,555.4 L632.6,556.3 L632.9,557.2 L633.3,558.0 L633.6,558.8 L634.0,559.5 L634.3,560.2 L634.7,560.8 L635.0,561.4 L635.4,562.0 L635.7,562.5 L636.1,563.0 L636.4,563.5 L636.8,563.9 L637.1,564.3 L637.5,564.7 L637.8,565.1 L638.2,565.4 L638.5,565.7 L638.9,566.0 L639.2,566.3 L639.6,566.6 L639.9,566.8 L640.3,567.1 L640.6,567.3 L641.0,567.5 L641.3,567.7 L641.7,567.9 L642.0,568.1 L642.4,568.2 L642.7,568.4 L643.1,568.5 L643.4,568.7 L643.8,568.8 L644.1,568.9 L644.5,569.1 L644.8,569.2 L645.2,569.3 L645.5,569.4 L645.9,569.5 L646.2,569.6 L646.6,569.7 L646.9,569.8 L647.3,569.8 L647.6,569.9 L648.0,570.0 L648.3,570.1 L648.7,570.1 L649.0,570.2 L649.4,570.2 L649.7,570.3 L650.1,570.4 L650.4,570.4 L650.8,570.5 L651.1,570.5 L651.5,570.6 L651.8,570.6 L652.2,570.6 L652.5,570.7 L652.9,570.7 L653.2,570.8 L653.6,570.8 L653.9,570.8 L654.3,570.9 L654.6,570.9 L655.0,570.9 L655.3,571.0 L655.7,571.1 L656.0,571.2 L656.4,571.4 L656.7,571.7 L657.1,572.2 L657.4,572.9 L657.8,574.0 L658.1,575.3 L658.5,577.2 L658.8,579.6 L659.2,582.6 L659.5,586.4 L659.9,591.0 L660.2,596.7 L660.6,603.4 L660.9,611.4 L661.3,620.8 L661.6,627.1 L662.0,625.7 L662.3,624.4 L662.7,623.2 L663.0,622.1 L663.4,621.0 L663.7,620.0 L664.1,619.1 L664.4,618.2 L664.8,617.4 L665.1,616.6 L665.5,615.9 L665.8,615.2 L666.2,614.5 L666.5,613.9 L666.9,613.3 L667.2,612.8 L667.6,612.3 L667.9,611.8 L668.3,611.4 L668.6,610.9 L669.0,610.5 L669.3,610.2 L669.7,609.8 L670.0,609.5 L670.4,609.2 L670.7,608.9 L671.1,608.6 L671.4,608.3 L671.8,608.1 L672.1,607.9 L672.5,607.6 L672.8,607.4 L673.2,607.3 L673.5,607.1 L673.9,606.9 L674.2,606.7 L674.6,606.6 L674.9,606.5 L675.3,606.3 L675.6,606.2 L676.0,606.1 L676.3,606.0 L676.7,605.9 L677.0,605.8 L677.4,605.7 L677.7,605.6 L678.1,605.5 L678.4,605.4 L678.8,605.4 L679.1,605.3 L679.5,605.2" fill="none" stroke="#fff" stroke-width="5.80" stroke-linejoin="round" stroke-linecap="round"/>
<path d="M574.4,553.3 L574.8,554.4 L575.1,555.4 L575.5,556.3 L575.8,557.2 L576.2,558.0 L576.5,558.8 L576.9,559.5 L577.2,560.2 L577.6,560.8 L577.9,561.4 L578.3,562.0 L578.6,562.5 L579.0,563.0 L579.3,563.4 L579.7,563.9 L580.0,564.3 L580.4,564.7 L580.7,565.0 L581.1,565.4 L581.4,565.7 L581.8,566.0 L582.1,566.3 L582.5,566.6 L582.8,566.8 L583.2,567.1 L583.5,567.3 L583.9,567.5 L584.2,567.7 L584.6,567.9 L584.9,568.1 L585.3,568.2 L585.6,568.4 L586.0,568.5 L586.3,568.7 L586.7,568.8 L587.0,568.9 L587.4,569.1 L587.7,569.2 L588.1,569.3 L588.4,569.4 L588.8,569.5 L589.1,569.6 L589.5,569.7 L589.8,569.8 L590.2,569.8 L590.5,569.9 L590.9,570.0 L591.2,570.1 L591.6,570.1 L591.9,570.2 L592.3,570.2 L592.6,570.3 L593.0,570.4 L593.3,570.4 L593.7,570.5 L594.0,570.5 L594.4,570.6 L594.7,570.6 L595.1,570.6 L595.4,570.7 L595.8,570.7 L596.1,570.8 L596.5,570.8 L596.8,570.8 L597.2,570.9 L597.5,570.9 L597.9,570.9 L598.2,571.0 L598.6,571.1 L598.9,571.2 L599.3,571.4 L599.6,571.7 L600.0,572.2 L600.3,572.9 L600.7,573.9 L601.0,575.3 L601.4,577.2 L601.7,579.5 L602.1,582.6 L602.4,586.3 L602.8,591.0 L603.1,596.6 L603.5,603.3 L603.8,611.3 L604.2,620.7 L604.5,627.1 L604.9,625.7 L605.2,624.5 L605.6,623.3 L605.9,622.1 L606.3,621.1 L606.6,620.1 L607.0,619.1 L607.3,618.2 L607.7,617.4 L608.0,616.6 L608.4,615.9 L608.7,615.2 L609.1,614.5 L609.4,613.9 L609.8,613.3 L610.1,612.8 L610.5,612.3 L610.8,611.8 L611.2,611.4 L611.5,610.9 L611.9,610.5 L612.2,610.2 L612.6,609.8 L612.9,609.5 L613.3,609.2 L613.6,608.9 L614.0,608.6 L614.3,608.3 L614.7,608.1 L615.0,607.9 L615.4,607.6 L615.7,607.4 L616.1,607.3 L616.4,607.1 L616.8,606.9 L617.1,606.7 L617.5,606.6 L617.8,606.5 L618.2,606.3 L618.5,606.2 L618.9,606.1 L619.2,606.0 L619.6,605.9 L619.9,605.8 L620.3,605.7 L620.6,605.6 L621.0,605.5 L621.3,605.4 L621.7,605.4 L622.0,605.3 L622.4,605.2 L622.7,605.2 L623.1,605.1 L623.4,605.1 L623.8,605.0 L624.1,605.0 L624.5,604.9 L624.8,604.9 L625.2,604.8 L625.5,604.8 L625.9,604.8 L626.2,604.7 L626.6,604.5 L627.0,603.3 L627.3,600.4 L627.7,595.4 L628.0,588.4 L628.4,579.9 L628.7,570.8 L629.1,562.0 L629.4,554.8 L629.8,550.0 L630.1,548.4 L630.5,549.8 L630.8,551.0 L631.2,552.2 L631.5,553.4 L631.9,554.4 L632.2,555.4 L632.6,556.3 L632.9,557.2 L633.3,558.0 L633.6,558.8 L634.0,559.5 L634.3,560.2 L634.7,560.8 L635.0,561.4 L635.4,562.0 L635.7,562.5 L636.1,563.0 L636.4,563.5 L636.8,563.9 L637.1,564.3 L637.5,564.7 L637.8,565.1 L638.2,565.4 L638.5,565.7 L638.9,566.0 L639.2,566.3 L639.6,566.6 L639.9,566.8 L640.3,567.1 L640.6,567.3 L641.0,567.5 L641.3,567.7 L641.7,567.9 L642.0,568.1 L642.4,568.2 L642.7,568.4 L643.1,568.5 L643.4,568.7 L643.8,568.8 L644.1,568.9 L644.5,569.1 L644.8,569.2 L645.2,569.3 L645.5,569.4 L645.9,569.5 L646.2,569.6 L646.6,569.7 L646.9,569.8 L647.3,569.8 L647.6,569.9 L648.0,570.0 L648.3,570.1 L648.7,570.1 L649.0,570.2 L649.4,570.2 L649.7,570.3 L650.1,570.4 L650.4,570.4 L650.8,570.5 L651.1,570.5 L651.5,570.6 L651.8,570.6 L652.2,570.6 L652.5,570.7 L652.9,570.7 L653.2,570.8 L653.6,570.8 L653.9,570.8 L654.3,570.9 L654.6,570.9 L655.0,570.9 L655.3,571.0 L655.7,571.1 L656.0,571.2 L656.4,571.4 L656.7,571.7 L657.1,572.2 L657.4,572.9 L657.8,574.0 L658.1,575.3 L658.5,577.2 L658.8,579.6 L659.2,582.6 L659.5,586.4 L659.9,591.0 L660.2,596.7 L660.6,603.4 L660.9,611.4 L661.3,620.8 L661.6,627.1 L662.0,625.7 L662.3,624.4 L662.7,623.2 L663.0,622.1 L663.4,621.0 L663.7,620.0 L664.1,619.1 L664.4,618.2 L664.8,617.4 L665.1,616.6 L665.5,615.9 L665.8,615.2 L666.2,614.5 L666.5,613.9 L666.9,613.3 L667.2,612.8 L667.6,612.3 L667.9,611.8 L668.3,611.4 L668.6,610.9 L669.0,610.5 L669.3,610.2 L669.7,609.8 L670.0,609.5 L670.4,609.2 L670.7,608.9 L671.1,608.6 L671.4,608.3 L671.8,608.1 L672.1,607.9 L672.5,607.6 L672.8,607.4 L673.2,607.3 L673.5,607.1 L673.9,606.9 L674.2,606.7 L674.6,606.6 L674.9,606.5 L675.3,606.3 L675.6,606.2 L676.0,606.1 L676.3,606.0 L676.7,605.9 L677.0,605.8 L677.4,605.7 L677.7,605.6 L678.1,605.5 L678.4,605.4 L678.8,605.4 L679.1,605.3 L679.5,605.2" fill="none" stroke="#0f74bb" stroke-width="2.30" stroke-linejoin="round" stroke-linecap="butt"/>
<path d="M574.4,553.3 L574.8,554.4 L575.1,555.4 L575.5,556.3 L575.8,557.2 L576.2,558.0 L576.5,558.8 L576.9,559.5 L577.2,560.2 L577.6,560.8 L577.9,561.4 L578.3,562.0 L578.6,562.5 L579.0,563.0 L579.3,563.4 L579.7,563.9 L580.0,564.3 L580.4,564.7 L580.7,565.0 L581.1,565.4 L581.4,565.7 L581.8,566.0 L582.1,566.3 L582.5,566.6 L582.8,566.8 L583.2,567.1 L583.5,567.3 L583.9,567.5 L584.2,567.7 L584.6,567.9 L584.9,568.1 L585.3,568.2 L585.6,568.4 L586.0,568.5 L586.3,568.7 L586.7,568.8 L587.0,568.9 L587.4,569.1 L587.7,569.2 L588.1,569.3 L588.4,569.4 L588.8,569.5 L589.1,569.6 L589.5,569.7 L589.8,569.8 L590.2,569.8 L590.5,569.9 L590.9,570.0 L591.2,570.1 L591.6,570.1 L591.9,570.2 L592.3,570.2 L592.6,570.3 L593.0,570.4 L593.3,570.4 L593.7,570.5 L594.0,570.5 L594.4,570.6 L594.7,570.6 L595.1,570.6 L595.4,570.7 L595.8,570.7 L596.1,570.8 L596.5,570.8 L596.8,570.8 L597.2,570.9 L597.5,570.9 L597.9,570.9 L598.2,571.0 L598.6,571.1 L598.9,571.2 L599.3,571.4 L599.6,571.7 L600.0,572.2 L600.3,572.9 L600.7,573.9 L601.0,575.3 L601.4,577.2 L601.7,579.5 L602.1,582.6 L602.4,586.3 L602.8,591.0 L603.1,596.6 L603.5,603.3 L603.8,611.3 L604.2,620.7 L604.5,627.1 L604.9,625.7 L605.2,624.5 L605.6,623.3 L605.9,622.1 L606.3,621.1 L606.6,620.1 L607.0,619.1 L607.3,618.2 L607.7,617.4 L608.0,616.6 L608.4,615.9 L608.7,615.2 L609.1,614.5 L609.4,613.9 L609.8,613.3 L610.1,612.8 L610.5,612.3 L610.8,611.8 L611.2,611.4 L611.5,610.9 L611.9,610.5 L612.2,610.2 L612.6,609.8 L612.9,609.5 L613.3,609.2 L613.6,608.9 L614.0,608.6 L614.3,608.3 L614.7,608.1 L615.0,607.9 L615.4,607.6 L615.7,607.4 L616.1,607.3 L616.4,607.1 L616.8,606.9 L617.1,606.7 L617.5,606.6 L617.8,606.5 L618.2,606.3 L618.5,606.2 L618.9,606.1 L619.2,606.0 L619.6,605.9 L619.9,605.8 L620.3,605.7 L620.6,605.6 L621.0,605.5 L621.3,605.4 L621.7,605.4 L622.0,605.3 L622.4,605.2 L622.7,605.2 L623.1,605.1 L623.4,605.1 L623.8,605.0 L624.1,605.0 L624.5,604.9 L624.8,604.9 L625.2,604.8 L625.5,604.8 L625.9,604.8 L626.2,604.7 L626.6,604.5 L627.0,603.3 L627.3,600.4 L627.7,595.4 L628.0,588.4 L628.4,579.9 L628.7,570.8 L629.1,562.0 L629.4,554.8 L629.8,550.0 L630.1,548.4 L630.5,549.8 L630.8,551.0 L631.2,552.2 L631.5,553.4 L631.9,554.4 L632.2,555.4 L632.6,556.3 L632.9,557.2 L633.3,558.0 L633.6,558.8 L634.0,559.5 L634.3,560.2 L634.7,560.8 L635.0,561.4 L635.4,562.0 L635.7,562.5 L636.1,563.0 L636.4,563.5 L636.8,563.9 L637.1,564.3 L637.5,564.7 L637.8,565.1 L638.2,565.4 L638.5,565.7 L638.9,566.0 L639.2,566.3 L639.6,566.6 L639.9,566.8 L640.3,567.1 L640.6,567.3 L641.0,567.5 L641.3,567.7 L641.7,567.9 L642.0,568.1 L642.4,568.2 L642.7,568.4 L643.1,568.5 L643.4,568.7 L643.8,568.8 L644.1,568.9 L644.5,569.1 L644.8,569.2 L645.2,569.3 L645.5,569.4 L645.9,569.5 L646.2,569.6 L646.6,569.7 L646.9,569.8 L647.3,569.8 L647.6,569.9 L648.0,570.0 L648.3,570.1 L648.7,570.1 L649.0,570.2 L649.4,570.2 L649.7,570.3 L650.1,570.4 L650.4,570.4 L650.8,570.5 L651.1,570.5 L651.5,570.6 L651.8,570.6 L652.2,570.6 L652.5,570.7 L652.9,570.7 L653.2,570.8 L653.6,570.8 L653.9,570.8 L654.3,570.9 L654.6,570.9 L655.0,570.9 L655.3,571.0 L655.7,571.1 L656.0,571.2 L656.4,571.4 L656.7,571.7 L657.1,572.2 L657.4,572.9 L657.8,574.0 L658.1,575.3 L658.5,577.2 L658.8,579.6 L659.2,582.6 L659.5,586.4 L659.9,591.0 L660.2,596.7 L660.6,603.4 L660.9,611.4 L661.3,620.8 L661.6,627.1 L662.0,625.7 L662.3,624.4 L662.7,623.2 L663.0,622.1 L663.4,621.0 L663.7,620.0 L664.1,619.1 L664.4,618.2 L664.8,617.4 L665.1,616.6 L665.5,615.9 L665.8,615.2 L666.2,614.5 L666.5,613.9 L666.9,613.3 L667.2,612.8 L667.6,612.3 L667.9,611.8 L668.3,611.4 L668.6,610.9 L669.0,610.5 L669.3,610.2 L669.7,609.8 L670.0,609.5 L670.4,609.2 L670.7,608.9 L671.1,608.6 L671.4,608.3 L671.8,608.1 L672.1,607.9 L672.5,607.6 L672.8,607.4 L673.2,607.3 L673.5,607.1 L673.9,606.9 L674.2,606.7 L674.6,606.6 L674.9,606.5 L675.3,606.3 L675.6,606.2 L676.0,606.1 L676.3,606.0 L676.7,605.9 L677.0,605.8 L677.4,605.7 L677.7,605.6 L678.1,605.5 L678.4,605.4 L678.8,605.4 L679.1,605.3 L679.5,605.2" fill="none" stroke="#d9541e" stroke-width="2.30" stroke-linejoin="round" stroke-linecap="butt" stroke-dasharray="2.1 1.9"/>
</g>
<rect x="45.5" y="457.0" width="101.2" height="174.7" fill="none" stroke="#222" stroke-width="1.05"/>
<line x1="45.5" y1="544.1" x2="146.7" y2="544.1" stroke="#222" stroke-width="1.05"/>
<rect x="152.8" y="457.0" width="101.3" height="174.7" fill="none" stroke="#222" stroke-width="1.05"/>
<line x1="152.8" y1="544.1" x2="254.1" y2="544.1" stroke="#222" stroke-width="1.05"/>
<rect x="260.7" y="457.0" width="98.7" height="174.7" fill="none" stroke="#222" stroke-width="1.05"/>
<line x1="260.7" y1="544.1" x2="359.4" y2="544.1" stroke="#222" stroke-width="1.05"/>
<rect x="366.8" y="457.0" width="98.5" height="174.7" fill="none" stroke="#222" stroke-width="1.05"/>
<line x1="366.8" y1="544.1" x2="465.3" y2="544.1" stroke="#222" stroke-width="1.05"/>
<rect x="472.0" y="457.0" width="99.0" height="174.7" fill="none" stroke="#222" stroke-width="1.05"/>
<line x1="472.0" y1="544.1" x2="571.0" y2="544.1" stroke="#222" stroke-width="1.05"/>
<rect x="577.4" y="457.0" width="99.1" height="174.7" fill="none" stroke="#222" stroke-width="1.05"/>
<line x1="577.4" y1="544.1" x2="676.5" y2="544.1" stroke="#222" stroke-width="1.05"/>
<rect x="88.2" y="443.6" width="10.7" height="10" fill="#000"/>
<path d="M204.7,439.6 L206.3,444.4 L211.4,444.4 L207.3,447.4 L208.8,452.3 L204.7,449.3 L200.6,452.3 L202.1,447.4 L198.0,444.4 L203.1,444.4Z" fill="#000"/>
<rect x="259.8" y="417.2" width="417.2" height="32" fill="#fff" stroke="#222" stroke-width="1.05"/>
<line x1="263.3" y1="438.2" x2="287.4" y2="438.2" stroke="#0f74bb" stroke-width="1.6"/>
<text x="291.6" y="440.9" font-size="18" font-style="italic">x</text>
<text x="301.7" y="445.7" font-size="12.3">1,2</text>
<text x="302.0" y="432.4" font-size="12.5" font-family="Liberation Serif,serif">β</text>
<line x1="333.8" y1="438.2" x2="357.9" y2="438.2" stroke="#d9541e" stroke-width="1.9" stroke-dasharray="1.3 1.2"/>
<text x="364.3" y="440.9" font-size="18" font-style="italic">x</text>
<text x="374.4" y="445.7" font-size="12.3">2,2</text>
<text x="374.7" y="432.4" font-size="12.5" font-family="Liberation Serif,serif">β</text>
<line x1="404.3" y1="438.2" x2="428.4" y2="438.2" stroke="#0f74bb" stroke-width="1.6"/>
<text x="434.1" y="440.9" font-size="18" font-style="italic">x</text>
<text x="444.2" y="445.7" font-size="12.3">1,2</text>
<text x="444.7" y="431.0" font-size="12.5" font-family="Liberation Serif,serif">γ</text>
<line x1="473.0" y1="438.2" x2="497.8" y2="438.2" stroke="#d9541e" stroke-width="1.9" stroke-dasharray="1.3 1.2"/>
<text x="504.1" y="440.9" font-size="18" font-style="italic">x</text>
<text x="514.2" y="445.7" font-size="12.3">2,2</text>
<text x="514.7" y="431.0" font-size="12.5" font-family="Liberation Serif,serif">γ</text>
<line x1="541.6" y1="438.2" x2="566.7" y2="438.2" stroke="#edb120" stroke-width="4.2"/>
<text x="573.1" y="440.9" font-size="18" font-style="italic">x</text>
<text x="583.2" y="445.7" font-size="12.3">3,2</text>
<text x="583.7" y="431.0" font-size="12.5" font-family="Liberation Serif,serif">γ</text>
<line x1="612.7" y1="438.2" x2="637.9" y2="438.2" stroke="#7e2f8e" stroke-width="4.4" stroke-dasharray="1.5 1.3"/>
<text x="644.6" y="440.9" font-size="18" font-style="italic">x</text>
<text x="654.7" y="445.7" font-size="12.3">4,2</text>
<text x="655.2" y="431.0" font-size="12.5" font-family="Liberation Serif,serif">γ</text>
<g transform="translate(35,522.0) rotate(-90)">
<text x="0" y="0" font-size="20" font-style="italic">x</text>
<circle cx="15.5" cy="-2.6" r="2.6" fill="#000"/>
<text x="23.4" y="4.5" font-size="14">2</text>
<path d="M20.0,2.9 h1.7 v1.6 q0,1.6 -1.5,2.3 l-0.3,-0.6 q0.7,-0.5 0.7,-1.6 h-0.6 z" fill="#000"/>
<text x="12.5" y="-14.5" font-size="15" font-family="Liberation Serif,serif">γ</text>
</g>
<g transform="translate(35,607.5) rotate(-90)">
<text x="0" y="0" font-size="20" font-style="italic">x</text>
<circle cx="15.5" cy="-2.6" r="2.6" fill="#000"/>
<text x="23.4" y="4.5" font-size="14">2</text>
<path d="M20.0,2.9 h1.7 v1.6 q0,1.6 -1.5,2.3 l-0.3,-0.6 q0.7,-0.5 0.7,-1.6 h-0.6 z" fill="#000"/>
<text x="18.2" y="-14.5" font-size="14" font-family="Liberation Serif,serif">β</text>
</g>
<text x="98.5" y="653.8" font-size="18.5" text-anchor="middle"><tspan font-style="italic">t</tspan> (<tspan font-style="italic">s</tspan>)</text>
</svg>
</body></html>
